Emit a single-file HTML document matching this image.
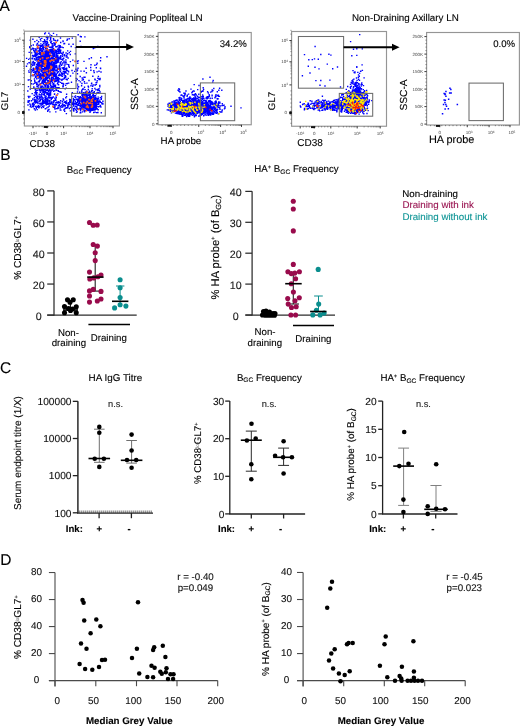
<!DOCTYPE html>
<html><head><meta charset="utf-8"><title>Figure</title>
<style>
html,body{margin:0;padding:0;background:#fff;}
body{width:520px;height:726px;overflow:hidden;}
svg{display:block;font-family:"Liberation Sans", sans-serif;will-change:transform;}
text{stroke:currentColor;stroke-width:0.12px;text-rendering:geometricPrecision;}
</style></head>
<body>
<svg width="520" height="726" viewBox="0 0 520 726">
<text x="-0.40" y="10.90" font-size="15.5" text-anchor="start" font-weight="normal" fill="#000" color="#000" >A</text>
<text x="0.20" y="159.70" font-size="15.5" text-anchor="start" font-weight="normal" fill="#000" color="#000" >B</text>
<text x="-0.10" y="372.80" font-size="15.5" text-anchor="start" font-weight="normal" fill="#000" color="#000" >C</text>
<text x="0.20" y="564.90" font-size="15.5" text-anchor="start" font-weight="normal" fill="#000" color="#000" >D</text>
<text x="72.60" y="20.70" font-size="9.85" text-anchor="start" font-weight="normal" fill="#000" color="#000" >Vaccine-Draining Popliteal LN</text>
<text x="352.00" y="20.70" font-size="9.8" text-anchor="start" font-weight="normal" fill="#000" color="#000" >Non-Draining Axillary LN</text>
<rect x="24.40" y="31.20" width="95.00" height="94.80" stroke="#959595" stroke-width="1.15" fill="none"/>
<line x1="22.20" y1="40.20" x2="24.40" y2="40.20" stroke="#222" stroke-width="0.9" />
<line x1="22.20" y1="61.50" x2="24.40" y2="61.50" stroke="#222" stroke-width="0.9" />
<line x1="22.20" y1="84.60" x2="24.40" y2="84.60" stroke="#222" stroke-width="0.9" />
<line x1="23.20" y1="77.65" x2="24.40" y2="77.65" stroke="#444" stroke-width="0.6" />
<line x1="23.20" y1="73.58" x2="24.40" y2="73.58" stroke="#444" stroke-width="0.6" />
<line x1="23.20" y1="70.69" x2="24.40" y2="70.69" stroke="#444" stroke-width="0.6" />
<line x1="23.20" y1="68.45" x2="24.40" y2="68.45" stroke="#444" stroke-width="0.6" />
<line x1="23.20" y1="66.62" x2="24.40" y2="66.62" stroke="#444" stroke-width="0.6" />
<line x1="23.20" y1="65.08" x2="24.40" y2="65.08" stroke="#444" stroke-width="0.6" />
<line x1="23.20" y1="63.74" x2="24.40" y2="63.74" stroke="#444" stroke-width="0.6" />
<line x1="23.20" y1="62.56" x2="24.40" y2="62.56" stroke="#444" stroke-width="0.6" />
<line x1="23.20" y1="55.09" x2="24.40" y2="55.09" stroke="#444" stroke-width="0.6" />
<line x1="23.20" y1="51.34" x2="24.40" y2="51.34" stroke="#444" stroke-width="0.6" />
<line x1="23.20" y1="48.68" x2="24.40" y2="48.68" stroke="#444" stroke-width="0.6" />
<line x1="23.20" y1="46.61" x2="24.40" y2="46.61" stroke="#444" stroke-width="0.6" />
<line x1="23.20" y1="44.93" x2="24.40" y2="44.93" stroke="#444" stroke-width="0.6" />
<line x1="23.20" y1="43.50" x2="24.40" y2="43.50" stroke="#444" stroke-width="0.6" />
<line x1="23.20" y1="42.26" x2="24.40" y2="42.26" stroke="#444" stroke-width="0.6" />
<line x1="23.20" y1="41.17" x2="24.40" y2="41.17" stroke="#444" stroke-width="0.6" />
<line x1="23.20" y1="33.79" x2="24.40" y2="33.79" stroke="#444" stroke-width="0.6" />
<line x1="23.20" y1="30.04" x2="24.40" y2="30.04" stroke="#444" stroke-width="0.6" />
<line x1="23.20" y1="90.60" x2="24.40" y2="90.60" stroke="#444" stroke-width="0.6" />
<line x1="23.20" y1="94.65" x2="24.40" y2="94.65" stroke="#444" stroke-width="0.6" />
<line x1="23.20" y1="98.70" x2="24.40" y2="98.70" stroke="#444" stroke-width="0.6" />
<line x1="23.20" y1="102.75" x2="24.40" y2="102.75" stroke="#444" stroke-width="0.6" />
<line x1="23.20" y1="106.80" x2="24.40" y2="106.80" stroke="#444" stroke-width="0.6" />
<line x1="23.20" y1="110.85" x2="24.40" y2="110.85" stroke="#444" stroke-width="0.6" />
<line x1="23.20" y1="114.90" x2="24.40" y2="114.90" stroke="#444" stroke-width="0.6" />
<line x1="23.20" y1="118.95" x2="24.40" y2="118.95" stroke="#444" stroke-width="0.6" />
<line x1="23.20" y1="123.00" x2="24.40" y2="123.00" stroke="#444" stroke-width="0.6" />
<line x1="22.20" y1="112.50" x2="24.40" y2="112.50" stroke="#000" stroke-width="1.6" />
<rect x="22.2" y="111.0" width="2.2" height="3" fill="#111"/>
<text x="20.9" y="41.8" font-size="4.5" text-anchor="end" fill="#444" style="stroke:none">10<tspan dy="-1.6" font-size="3.2">5</tspan></text>
<text x="20.9" y="63.1" font-size="4.5" text-anchor="end" fill="#444" style="stroke:none">10<tspan dy="-1.6" font-size="3.2">4</tspan></text>
<text x="20.9" y="86.2" font-size="4.5" text-anchor="end" fill="#444" style="stroke:none">10<tspan dy="-1.6" font-size="3.2">3</tspan></text>
<text x="19.9" y="114.1" font-size="4.5" text-anchor="end" fill="#444" style="stroke:none">0</text>
<line x1="33.00" y1="126.00" x2="33.00" y2="128.20" stroke="#222" stroke-width="0.9" />
<line x1="47.00" y1="126.00" x2="47.00" y2="128.20" stroke="#222" stroke-width="0.9" />
<line x1="63.60" y1="126.00" x2="63.60" y2="128.20" stroke="#222" stroke-width="0.9" />
<line x1="90.00" y1="126.00" x2="90.00" y2="128.20" stroke="#222" stroke-width="0.9" />
<line x1="113.00" y1="126.00" x2="113.00" y2="128.20" stroke="#222" stroke-width="0.9" />
<line x1="71.55" y1="126.00" x2="71.55" y2="127.20" stroke="#444" stroke-width="0.6" />
<line x1="76.20" y1="126.00" x2="76.20" y2="127.20" stroke="#444" stroke-width="0.6" />
<line x1="79.49" y1="126.00" x2="79.49" y2="127.20" stroke="#444" stroke-width="0.6" />
<line x1="82.05" y1="126.00" x2="82.05" y2="127.20" stroke="#444" stroke-width="0.6" />
<line x1="84.14" y1="126.00" x2="84.14" y2="127.20" stroke="#444" stroke-width="0.6" />
<line x1="85.91" y1="126.00" x2="85.91" y2="127.20" stroke="#444" stroke-width="0.6" />
<line x1="87.44" y1="126.00" x2="87.44" y2="127.20" stroke="#444" stroke-width="0.6" />
<line x1="88.79" y1="126.00" x2="88.79" y2="127.20" stroke="#444" stroke-width="0.6" />
<line x1="96.92" y1="126.00" x2="96.92" y2="127.20" stroke="#444" stroke-width="0.6" />
<line x1="100.97" y1="126.00" x2="100.97" y2="127.20" stroke="#444" stroke-width="0.6" />
<line x1="103.85" y1="126.00" x2="103.85" y2="127.20" stroke="#444" stroke-width="0.6" />
<line x1="106.08" y1="126.00" x2="106.08" y2="127.20" stroke="#444" stroke-width="0.6" />
<line x1="107.90" y1="126.00" x2="107.90" y2="127.20" stroke="#444" stroke-width="0.6" />
<line x1="109.44" y1="126.00" x2="109.44" y2="127.20" stroke="#444" stroke-width="0.6" />
<line x1="110.77" y1="126.00" x2="110.77" y2="127.20" stroke="#444" stroke-width="0.6" />
<line x1="111.95" y1="126.00" x2="111.95" y2="127.20" stroke="#444" stroke-width="0.6" />
<line x1="36.00" y1="126.00" x2="36.00" y2="127.20" stroke="#444" stroke-width="0.6" />
<line x1="39.08" y1="126.00" x2="39.08" y2="127.20" stroke="#444" stroke-width="0.6" />
<line x1="42.15" y1="126.00" x2="42.15" y2="127.20" stroke="#444" stroke-width="0.6" />
<line x1="45.23" y1="126.00" x2="45.23" y2="127.20" stroke="#444" stroke-width="0.6" />
<line x1="48.30" y1="126.00" x2="48.30" y2="127.20" stroke="#444" stroke-width="0.6" />
<line x1="51.38" y1="126.00" x2="51.38" y2="127.20" stroke="#444" stroke-width="0.6" />
<line x1="54.45" y1="126.00" x2="54.45" y2="127.20" stroke="#444" stroke-width="0.6" />
<line x1="57.53" y1="126.00" x2="57.53" y2="127.20" stroke="#444" stroke-width="0.6" />
<line x1="60.60" y1="126.00" x2="60.60" y2="127.20" stroke="#444" stroke-width="0.6" />
<rect x="43.8" y="126.0" width="4.0" height="1.9" fill="#111"/>
<text x="33.0" y="135.2" font-size="4.5" text-anchor="middle" fill="#444" style="stroke:none">-10<tspan dy="-1.6" font-size="3.2">3</tspan></text>
<text x="47.0" y="135.2" font-size="4.5" text-anchor="middle" fill="#444" style="stroke:none">0</text>
<text x="63.6" y="135.2" font-size="4.5" text-anchor="middle" fill="#444" style="stroke:none">10<tspan dy="-1.6" font-size="3.2">3</tspan></text>
<text x="90.0" y="135.2" font-size="4.5" text-anchor="middle" fill="#444" style="stroke:none">10<tspan dy="-1.6" font-size="3.2">4</tspan></text>
<text x="113.0" y="135.2" font-size="4.5" text-anchor="middle" fill="#444" style="stroke:none">10<tspan dy="-1.6" font-size="3.2">5</tspan></text>
<path d="M46.8 69.8h1.4v1.4h-1.4zM49.3 95.2h1.4v1.4h-1.4zM44.5 75.3h1.4v1.4h-1.4zM39.4 68.8h1.4v1.4h-1.4zM43.0 63.9h1.4v1.4h-1.4zM38.6 60.1h1.4v1.4h-1.4zM47.3 63.9h1.4v1.4h-1.4zM57.9 60.0h1.4v1.4h-1.4zM42.7 74.9h1.4v1.4h-1.4zM41.7 61.7h1.4v1.4h-1.4zM50.9 61.2h1.4v1.4h-1.4zM49.8 52.5h1.4v1.4h-1.4zM47.7 65.7h1.4v1.4h-1.4zM39.1 56.0h1.4v1.4h-1.4zM46.6 64.2h1.4v1.4h-1.4zM52.6 78.3h1.4v1.4h-1.4zM35.6 70.5h1.4v1.4h-1.4zM43.0 72.1h1.4v1.4h-1.4zM31.0 70.4h1.4v1.4h-1.4zM36.1 67.0h1.4v1.4h-1.4zM31.5 64.8h1.4v1.4h-1.4zM44.8 62.8h1.4v1.4h-1.4zM36.3 75.0h1.4v1.4h-1.4zM49.1 53.8h1.4v1.4h-1.4zM48.1 81.7h1.4v1.4h-1.4zM45.2 66.7h1.4v1.4h-1.4zM25.9 57.7h1.4v1.4h-1.4zM42.3 60.7h1.4v1.4h-1.4zM46.4 58.5h1.4v1.4h-1.4zM47.7 68.1h1.4v1.4h-1.4zM34.1 58.0h1.4v1.4h-1.4zM42.8 79.4h1.4v1.4h-1.4zM38.7 57.3h1.4v1.4h-1.4zM40.1 40.2h1.4v1.4h-1.4zM55.6 57.9h1.4v1.4h-1.4zM40.1 43.2h1.4v1.4h-1.4zM46.5 65.8h1.4v1.4h-1.4zM54.1 78.5h1.4v1.4h-1.4zM42.0 73.7h1.4v1.4h-1.4zM45.9 50.9h1.4v1.4h-1.4zM47.7 57.5h1.4v1.4h-1.4zM47.3 86.8h1.4v1.4h-1.4zM36.6 70.0h1.4v1.4h-1.4zM47.4 66.3h1.4v1.4h-1.4zM58.1 78.4h1.4v1.4h-1.4zM34.0 94.5h1.4v1.4h-1.4zM53.9 81.2h1.4v1.4h-1.4zM47.8 67.9h1.4v1.4h-1.4zM41.5 70.4h1.4v1.4h-1.4zM63.4 73.4h1.4v1.4h-1.4zM53.1 59.3h1.4v1.4h-1.4zM36.8 54.1h1.4v1.4h-1.4zM47.4 66.9h1.4v1.4h-1.4zM51.6 55.4h1.4v1.4h-1.4zM45.2 65.6h1.4v1.4h-1.4zM52.5 67.4h1.4v1.4h-1.4zM46.2 93.2h1.4v1.4h-1.4zM52.3 56.5h1.4v1.4h-1.4zM58.7 64.9h1.4v1.4h-1.4zM41.2 64.4h1.4v1.4h-1.4zM48.5 71.3h1.4v1.4h-1.4zM43.0 78.3h1.4v1.4h-1.4zM47.9 60.7h1.4v1.4h-1.4zM36.9 56.9h1.4v1.4h-1.4zM42.0 47.4h1.4v1.4h-1.4zM45.2 55.6h1.4v1.4h-1.4zM54.3 72.5h1.4v1.4h-1.4zM56.3 66.8h1.4v1.4h-1.4zM35.8 54.6h1.4v1.4h-1.4zM40.2 62.0h1.4v1.4h-1.4zM52.2 66.7h1.4v1.4h-1.4zM30.3 72.1h1.4v1.4h-1.4zM43.0 59.5h1.4v1.4h-1.4zM46.0 63.4h1.4v1.4h-1.4zM57.2 45.4h1.4v1.4h-1.4zM52.5 53.1h1.4v1.4h-1.4zM44.1 84.9h1.4v1.4h-1.4zM43.7 41.1h1.4v1.4h-1.4zM44.7 62.4h1.4v1.4h-1.4zM59.4 68.8h1.4v1.4h-1.4zM43.2 62.0h1.4v1.4h-1.4zM44.3 57.0h1.4v1.4h-1.4zM49.7 65.6h1.4v1.4h-1.4zM45.8 66.2h1.4v1.4h-1.4zM45.2 65.4h1.4v1.4h-1.4zM37.6 44.7h1.4v1.4h-1.4zM46.7 64.6h1.4v1.4h-1.4zM43.1 56.5h1.4v1.4h-1.4zM56.5 60.0h1.4v1.4h-1.4zM52.2 68.9h1.4v1.4h-1.4zM46.6 73.7h1.4v1.4h-1.4zM52.3 76.6h1.4v1.4h-1.4zM44.0 60.6h1.4v1.4h-1.4zM55.5 76.9h1.4v1.4h-1.4zM46.8 79.8h1.4v1.4h-1.4zM51.6 79.4h1.4v1.4h-1.4zM36.1 82.3h1.4v1.4h-1.4zM49.7 64.6h1.4v1.4h-1.4zM32.8 64.3h1.4v1.4h-1.4zM29.9 75.8h1.4v1.4h-1.4zM44.3 50.6h1.4v1.4h-1.4zM39.3 68.7h1.4v1.4h-1.4zM48.2 60.2h1.4v1.4h-1.4zM65.4 62.1h1.4v1.4h-1.4zM39.9 46.3h1.4v1.4h-1.4zM41.6 56.1h1.4v1.4h-1.4zM48.5 66.1h1.4v1.4h-1.4zM50.9 76.5h1.4v1.4h-1.4zM45.3 77.7h1.4v1.4h-1.4zM45.1 65.4h1.4v1.4h-1.4zM52.6 64.1h1.4v1.4h-1.4zM51.1 56.7h1.4v1.4h-1.4zM38.2 70.9h1.4v1.4h-1.4zM46.1 63.5h1.4v1.4h-1.4zM47.1 73.3h1.4v1.4h-1.4zM38.0 86.4h1.4v1.4h-1.4zM49.0 65.9h1.4v1.4h-1.4zM39.7 49.1h1.4v1.4h-1.4zM54.9 56.4h1.4v1.4h-1.4zM48.4 49.5h1.4v1.4h-1.4zM47.5 52.5h1.4v1.4h-1.4zM41.9 81.3h1.4v1.4h-1.4zM45.8 68.9h1.4v1.4h-1.4zM30.2 48.8h1.4v1.4h-1.4zM37.4 73.8h1.4v1.4h-1.4zM49.8 80.8h1.4v1.4h-1.4zM29.1 62.2h1.4v1.4h-1.4zM53.8 58.5h1.4v1.4h-1.4zM32.3 62.4h1.4v1.4h-1.4zM53.1 69.6h1.4v1.4h-1.4zM39.8 73.7h1.4v1.4h-1.4zM53.3 79.9h1.4v1.4h-1.4zM47.9 80.2h1.4v1.4h-1.4zM34.0 79.9h1.4v1.4h-1.4zM57.2 82.0h1.4v1.4h-1.4zM58.8 73.9h1.4v1.4h-1.4zM46.3 48.7h1.4v1.4h-1.4zM44.5 64.8h1.4v1.4h-1.4zM45.5 69.9h1.4v1.4h-1.4zM38.7 61.9h1.4v1.4h-1.4zM55.9 76.8h1.4v1.4h-1.4zM42.3 62.2h1.4v1.4h-1.4zM46.4 55.7h1.4v1.4h-1.4zM40.2 82.9h1.4v1.4h-1.4zM41.6 74.0h1.4v1.4h-1.4zM36.2 68.8h1.4v1.4h-1.4zM57.2 77.0h1.4v1.4h-1.4zM45.5 78.5h1.4v1.4h-1.4zM54.8 70.2h1.4v1.4h-1.4zM46.9 38.0h1.4v1.4h-1.4zM41.0 58.5h1.4v1.4h-1.4zM44.1 61.0h1.4v1.4h-1.4zM42.2 55.0h1.4v1.4h-1.4zM46.9 68.6h1.4v1.4h-1.4zM43.7 80.0h1.4v1.4h-1.4zM44.3 60.7h1.4v1.4h-1.4zM35.4 53.2h1.4v1.4h-1.4zM40.1 89.6h1.4v1.4h-1.4zM60.5 61.1h1.4v1.4h-1.4zM41.2 52.1h1.4v1.4h-1.4zM38.1 69.0h1.4v1.4h-1.4zM49.6 71.2h1.4v1.4h-1.4zM58.5 58.2h1.4v1.4h-1.4zM34.7 75.4h1.4v1.4h-1.4zM45.1 60.7h1.4v1.4h-1.4zM41.6 55.7h1.4v1.4h-1.4zM32.2 68.4h1.4v1.4h-1.4zM52.9 75.2h1.4v1.4h-1.4zM46.6 59.0h1.4v1.4h-1.4zM47.4 70.1h1.4v1.4h-1.4zM40.6 65.2h1.4v1.4h-1.4zM50.6 98.8h1.4v1.4h-1.4zM42.3 58.2h1.4v1.4h-1.4zM45.6 82.2h1.4v1.4h-1.4zM37.6 65.7h1.4v1.4h-1.4zM36.7 64.8h1.4v1.4h-1.4zM57.9 74.6h1.4v1.4h-1.4zM42.6 76.6h1.4v1.4h-1.4zM49.2 80.9h1.4v1.4h-1.4zM46.5 70.1h1.4v1.4h-1.4zM43.1 59.4h1.4v1.4h-1.4zM42.6 60.1h1.4v1.4h-1.4zM52.0 72.2h1.4v1.4h-1.4zM44.3 73.0h1.4v1.4h-1.4zM45.5 82.4h1.4v1.4h-1.4zM47.0 71.1h1.4v1.4h-1.4zM56.6 78.5h1.4v1.4h-1.4zM52.4 83.7h1.4v1.4h-1.4zM50.0 68.2h1.4v1.4h-1.4zM42.1 49.2h1.4v1.4h-1.4zM35.3 52.7h1.4v1.4h-1.4zM54.7 49.8h1.4v1.4h-1.4zM54.8 84.6h1.4v1.4h-1.4zM45.6 56.6h1.4v1.4h-1.4zM51.3 80.5h1.4v1.4h-1.4zM53.3 73.0h1.4v1.4h-1.4zM53.7 86.0h1.4v1.4h-1.4zM54.4 77.8h1.4v1.4h-1.4zM43.0 65.1h1.4v1.4h-1.4zM59.4 64.0h1.4v1.4h-1.4zM36.5 67.3h1.4v1.4h-1.4zM54.0 68.3h1.4v1.4h-1.4zM50.9 60.2h1.4v1.4h-1.4zM54.1 65.9h1.4v1.4h-1.4zM62.4 84.8h1.4v1.4h-1.4zM59.1 46.7h1.4v1.4h-1.4zM37.3 69.3h1.4v1.4h-1.4zM32.8 55.9h1.4v1.4h-1.4zM53.6 68.5h1.4v1.4h-1.4zM38.4 76.0h1.4v1.4h-1.4zM46.7 65.6h1.4v1.4h-1.4zM53.8 75.2h1.4v1.4h-1.4zM33.2 48.0h1.4v1.4h-1.4zM29.3 79.0h1.4v1.4h-1.4zM49.0 59.4h1.4v1.4h-1.4zM47.2 73.5h1.4v1.4h-1.4zM44.8 68.4h1.4v1.4h-1.4zM47.1 36.6h1.4v1.4h-1.4zM39.7 57.6h1.4v1.4h-1.4zM34.2 68.8h1.4v1.4h-1.4zM45.4 84.2h1.4v1.4h-1.4zM38.7 69.6h1.4v1.4h-1.4zM33.2 69.3h1.4v1.4h-1.4zM51.0 50.1h1.4v1.4h-1.4zM46.3 82.8h1.4v1.4h-1.4zM50.2 87.1h1.4v1.4h-1.4zM38.6 66.6h1.4v1.4h-1.4zM41.3 63.8h1.4v1.4h-1.4zM38.5 47.7h1.4v1.4h-1.4zM39.4 76.5h1.4v1.4h-1.4zM48.4 97.4h1.4v1.4h-1.4zM40.3 74.5h1.4v1.4h-1.4zM49.8 80.8h1.4v1.4h-1.4zM49.6 72.5h1.4v1.4h-1.4zM63.6 55.0h1.4v1.4h-1.4zM35.2 81.7h1.4v1.4h-1.4zM54.2 52.1h1.4v1.4h-1.4zM46.1 63.9h1.4v1.4h-1.4zM46.7 69.5h1.4v1.4h-1.4zM34.8 76.5h1.4v1.4h-1.4zM43.0 71.1h1.4v1.4h-1.4zM53.0 70.7h1.4v1.4h-1.4zM46.1 57.5h1.4v1.4h-1.4zM47.5 51.5h1.4v1.4h-1.4zM44.4 67.0h1.4v1.4h-1.4zM56.4 58.1h1.4v1.4h-1.4zM46.6 51.3h1.4v1.4h-1.4zM28.5 51.7h1.4v1.4h-1.4zM41.1 60.7h1.4v1.4h-1.4zM30.5 45.0h1.4v1.4h-1.4zM42.4 47.5h1.4v1.4h-1.4zM57.9 68.4h1.4v1.4h-1.4zM47.2 71.0h1.4v1.4h-1.4zM37.1 89.4h1.4v1.4h-1.4zM39.0 49.1h1.4v1.4h-1.4zM56.2 58.5h1.4v1.4h-1.4zM48.1 76.8h1.4v1.4h-1.4zM47.2 63.8h1.4v1.4h-1.4zM46.4 62.5h1.4v1.4h-1.4zM47.1 86.0h1.4v1.4h-1.4zM53.5 62.4h1.4v1.4h-1.4zM51.4 53.0h1.4v1.4h-1.4zM48.6 51.2h1.4v1.4h-1.4zM38.1 70.2h1.4v1.4h-1.4zM51.0 69.8h1.4v1.4h-1.4zM41.1 50.5h1.4v1.4h-1.4zM55.9 55.0h1.4v1.4h-1.4zM36.3 72.4h1.4v1.4h-1.4zM45.7 72.9h1.4v1.4h-1.4zM46.7 58.9h1.4v1.4h-1.4zM35.8 73.5h1.4v1.4h-1.4zM61.1 72.9h1.4v1.4h-1.4zM58.9 45.8h1.4v1.4h-1.4zM43.0 62.7h1.4v1.4h-1.4zM53.2 71.1h1.4v1.4h-1.4zM49.9 59.7h1.4v1.4h-1.4zM48.9 63.0h1.4v1.4h-1.4zM46.3 74.9h1.4v1.4h-1.4zM47.5 84.5h1.4v1.4h-1.4zM37.9 41.1h1.4v1.4h-1.4zM44.6 96.4h1.4v1.4h-1.4zM45.3 53.3h1.4v1.4h-1.4zM56.7 77.3h1.4v1.4h-1.4zM49.6 80.5h1.4v1.4h-1.4zM46.8 77.6h1.4v1.4h-1.4zM59.5 68.0h1.4v1.4h-1.4zM42.2 52.9h1.4v1.4h-1.4zM43.6 73.5h1.4v1.4h-1.4zM31.7 58.1h1.4v1.4h-1.4zM59.8 37.3h1.4v1.4h-1.4zM54.8 98.8h1.4v1.4h-1.4zM54.4 74.4h1.4v1.4h-1.4zM52.4 87.2h1.4v1.4h-1.4zM47.7 55.8h1.4v1.4h-1.4zM48.6 83.2h1.4v1.4h-1.4zM44.7 84.6h1.4v1.4h-1.4zM45.1 84.2h1.4v1.4h-1.4zM47.3 66.1h1.4v1.4h-1.4zM59.3 52.5h1.4v1.4h-1.4zM51.4 64.3h1.4v1.4h-1.4zM46.3 41.0h1.4v1.4h-1.4zM42.0 46.7h1.4v1.4h-1.4zM41.5 67.4h1.4v1.4h-1.4zM60.1 54.9h1.4v1.4h-1.4zM51.0 64.4h1.4v1.4h-1.4zM47.4 65.0h1.4v1.4h-1.4zM43.9 88.5h1.4v1.4h-1.4zM37.6 81.2h1.4v1.4h-1.4zM46.2 65.8h1.4v1.4h-1.4zM54.1 80.2h1.4v1.4h-1.4zM43.5 57.3h1.4v1.4h-1.4zM44.9 62.4h1.4v1.4h-1.4zM45.0 76.8h1.4v1.4h-1.4zM47.7 52.0h1.4v1.4h-1.4zM33.6 63.1h1.4v1.4h-1.4zM44.8 51.1h1.4v1.4h-1.4zM39.7 67.7h1.4v1.4h-1.4zM54.1 85.1h1.4v1.4h-1.4zM40.4 57.7h1.4v1.4h-1.4zM51.6 68.9h1.4v1.4h-1.4zM59.5 56.0h1.4v1.4h-1.4zM44.2 53.1h1.4v1.4h-1.4zM41.8 52.1h1.4v1.4h-1.4zM48.4 83.0h1.4v1.4h-1.4zM46.8 93.5h1.4v1.4h-1.4zM38.6 71.9h1.4v1.4h-1.4zM50.6 58.1h1.4v1.4h-1.4zM63.5 74.4h1.4v1.4h-1.4zM44.7 62.5h1.4v1.4h-1.4zM45.1 75.5h1.4v1.4h-1.4zM38.1 69.6h1.4v1.4h-1.4zM49.4 69.5h1.4v1.4h-1.4zM36.5 73.3h1.4v1.4h-1.4zM37.6 59.6h1.4v1.4h-1.4zM57.4 61.6h1.4v1.4h-1.4zM39.3 46.5h1.4v1.4h-1.4zM55.8 61.2h1.4v1.4h-1.4zM59.5 49.9h1.4v1.4h-1.4zM49.0 64.6h1.4v1.4h-1.4zM51.4 55.3h1.4v1.4h-1.4zM63.0 67.5h1.4v1.4h-1.4zM45.2 71.5h1.4v1.4h-1.4zM41.9 50.0h1.4v1.4h-1.4zM35.6 56.9h1.4v1.4h-1.4zM47.1 55.5h1.4v1.4h-1.4zM59.1 74.9h1.4v1.4h-1.4zM54.8 85.9h1.4v1.4h-1.4zM39.0 76.1h1.4v1.4h-1.4zM39.7 62.3h1.4v1.4h-1.4zM42.6 83.1h1.4v1.4h-1.4zM49.2 48.9h1.4v1.4h-1.4zM45.1 83.5h1.4v1.4h-1.4zM48.6 58.8h1.4v1.4h-1.4zM49.3 34.3h1.4v1.4h-1.4zM44.3 96.8h1.4v1.4h-1.4zM46.5 84.4h1.4v1.4h-1.4zM48.5 54.4h1.4v1.4h-1.4zM46.1 68.2h1.4v1.4h-1.4zM51.0 63.8h1.4v1.4h-1.4zM62.3 67.5h1.4v1.4h-1.4zM51.7 49.2h1.4v1.4h-1.4zM47.3 58.5h1.4v1.4h-1.4zM32.8 71.7h1.4v1.4h-1.4zM50.0 68.9h1.4v1.4h-1.4zM30.6 80.1h1.4v1.4h-1.4zM35.1 67.2h1.4v1.4h-1.4zM53.9 93.3h1.4v1.4h-1.4zM52.7 58.1h1.4v1.4h-1.4zM45.6 69.3h1.4v1.4h-1.4zM32.6 44.3h1.4v1.4h-1.4zM43.7 51.9h1.4v1.4h-1.4zM41.2 81.6h1.4v1.4h-1.4zM52.1 55.5h1.4v1.4h-1.4zM65.5 72.4h1.4v1.4h-1.4zM48.6 65.6h1.4v1.4h-1.4zM40.3 54.3h1.4v1.4h-1.4zM37.1 62.3h1.4v1.4h-1.4zM46.3 60.4h1.4v1.4h-1.4zM45.3 60.7h1.4v1.4h-1.4zM37.2 75.0h1.4v1.4h-1.4zM47.8 73.8h1.4v1.4h-1.4zM37.2 59.7h1.4v1.4h-1.4zM56.0 55.9h1.4v1.4h-1.4zM55.6 69.5h1.4v1.4h-1.4zM55.8 65.1h1.4v1.4h-1.4zM42.9 78.1h1.4v1.4h-1.4zM51.1 96.8h1.4v1.4h-1.4zM45.7 76.0h1.4v1.4h-1.4zM43.6 65.9h1.4v1.4h-1.4zM44.0 64.3h1.4v1.4h-1.4zM36.0 56.4h1.4v1.4h-1.4zM34.8 55.9h1.4v1.4h-1.4zM53.4 54.8h1.4v1.4h-1.4zM45.2 61.8h1.4v1.4h-1.4zM48.6 61.4h1.4v1.4h-1.4zM55.1 74.9h1.4v1.4h-1.4zM32.4 61.7h1.4v1.4h-1.4zM40.3 64.0h1.4v1.4h-1.4zM48.3 52.3h1.4v1.4h-1.4zM50.1 85.2h1.4v1.4h-1.4zM43.7 72.1h1.4v1.4h-1.4zM55.3 86.9h1.4v1.4h-1.4zM48.5 75.5h1.4v1.4h-1.4zM36.7 83.4h1.4v1.4h-1.4zM39.1 63.4h1.4v1.4h-1.4zM53.5 74.5h1.4v1.4h-1.4zM50.6 97.4h1.4v1.4h-1.4zM31.0 52.2h1.4v1.4h-1.4zM58.0 79.8h1.4v1.4h-1.4zM51.8 85.8h1.4v1.4h-1.4zM57.9 71.1h1.4v1.4h-1.4zM43.6 75.1h1.4v1.4h-1.4zM44.3 81.0h1.4v1.4h-1.4zM37.5 58.6h1.4v1.4h-1.4zM67.9 71.1h1.4v1.4h-1.4zM45.3 56.1h1.4v1.4h-1.4zM60.0 58.4h1.4v1.4h-1.4zM41.4 59.0h1.4v1.4h-1.4zM48.2 64.6h1.4v1.4h-1.4zM32.9 68.0h1.4v1.4h-1.4zM43.6 71.6h1.4v1.4h-1.4zM55.0 49.6h1.4v1.4h-1.4zM36.4 89.6h1.4v1.4h-1.4zM55.7 79.9h1.4v1.4h-1.4zM49.6 74.9h1.4v1.4h-1.4zM38.1 62.1h1.4v1.4h-1.4zM42.6 65.2h1.4v1.4h-1.4zM43.0 72.8h1.4v1.4h-1.4zM46.4 71.1h1.4v1.4h-1.4zM42.4 46.5h1.4v1.4h-1.4zM39.9 75.0h1.4v1.4h-1.4zM44.3 100.7h1.4v1.4h-1.4zM38.3 44.5h1.4v1.4h-1.4zM36.1 78.0h1.4v1.4h-1.4zM46.4 70.7h1.4v1.4h-1.4zM54.1 65.0h1.4v1.4h-1.4zM34.1 82.5h1.4v1.4h-1.4zM46.8 52.3h1.4v1.4h-1.4zM41.4 68.2h1.4v1.4h-1.4zM38.7 83.6h1.4v1.4h-1.4zM53.9 64.0h1.4v1.4h-1.4zM42.5 61.4h1.4v1.4h-1.4zM59.2 67.7h1.4v1.4h-1.4zM40.3 61.0h1.4v1.4h-1.4zM50.0 84.6h1.4v1.4h-1.4zM44.9 55.6h1.4v1.4h-1.4zM40.5 76.6h1.4v1.4h-1.4zM51.7 51.5h1.4v1.4h-1.4zM45.5 74.2h1.4v1.4h-1.4zM51.8 65.1h1.4v1.4h-1.4zM46.4 35.8h1.4v1.4h-1.4zM37.8 66.2h1.4v1.4h-1.4zM46.0 53.7h1.4v1.4h-1.4zM47.2 61.0h1.4v1.4h-1.4zM54.8 84.5h1.4v1.4h-1.4zM39.3 53.1h1.4v1.4h-1.4zM46.5 53.8h1.4v1.4h-1.4zM32.5 83.3h1.4v1.4h-1.4zM52.2 67.7h1.4v1.4h-1.4zM37.8 84.5h1.4v1.4h-1.4zM31.8 70.1h1.4v1.4h-1.4zM46.3 55.9h1.4v1.4h-1.4zM56.0 65.5h1.4v1.4h-1.4zM34.1 80.8h1.4v1.4h-1.4zM37.8 77.4h1.4v1.4h-1.4zM40.6 66.3h1.4v1.4h-1.4zM37.4 66.9h1.4v1.4h-1.4zM49.9 65.0h1.4v1.4h-1.4zM40.1 59.5h1.4v1.4h-1.4zM40.8 89.1h1.4v1.4h-1.4zM51.6 66.4h1.4v1.4h-1.4zM40.5 52.9h1.4v1.4h-1.4zM50.4 60.7h1.4v1.4h-1.4zM38.7 74.9h1.4v1.4h-1.4zM36.7 73.9h1.4v1.4h-1.4zM31.6 64.7h1.4v1.4h-1.4zM62.2 58.4h1.4v1.4h-1.4zM44.1 66.6h1.4v1.4h-1.4zM48.8 46.5h1.4v1.4h-1.4zM46.5 50.9h1.4v1.4h-1.4zM48.1 75.7h1.4v1.4h-1.4zM47.2 60.6h1.4v1.4h-1.4zM62.6 70.7h1.4v1.4h-1.4zM38.2 80.7h1.4v1.4h-1.4zM33.9 74.0h1.4v1.4h-1.4zM38.4 66.5h1.4v1.4h-1.4zM35.7 91.5h1.4v1.4h-1.4zM53.0 74.2h1.4v1.4h-1.4zM53.6 62.1h1.4v1.4h-1.4zM38.8 75.0h1.4v1.4h-1.4zM35.3 71.1h1.4v1.4h-1.4zM43.9 56.2h1.4v1.4h-1.4zM58.3 67.2h1.4v1.4h-1.4zM51.2 43.1h1.4v1.4h-1.4zM37.9 64.3h1.4v1.4h-1.4zM55.4 63.0h1.4v1.4h-1.4zM37.9 61.1h1.4v1.4h-1.4zM44.4 46.9h1.4v1.4h-1.4zM34.3 62.1h1.4v1.4h-1.4zM38.7 65.8h1.4v1.4h-1.4zM58.3 67.5h1.4v1.4h-1.4zM53.6 52.9h1.4v1.4h-1.4zM43.5 73.8h1.4v1.4h-1.4zM39.6 51.9h1.4v1.4h-1.4zM31.1 63.7h1.4v1.4h-1.4zM43.5 81.7h1.4v1.4h-1.4zM46.5 58.1h1.4v1.4h-1.4zM46.1 60.3h1.4v1.4h-1.4zM46.0 79.0h1.4v1.4h-1.4zM37.5 61.8h1.4v1.4h-1.4zM46.2 62.8h1.4v1.4h-1.4zM46.5 68.9h1.4v1.4h-1.4zM57.5 78.7h1.4v1.4h-1.4zM62.3 40.3h1.4v1.4h-1.4zM45.7 56.5h1.4v1.4h-1.4zM40.4 54.4h1.4v1.4h-1.4zM46.3 53.5h1.4v1.4h-1.4zM41.8 56.2h1.4v1.4h-1.4zM40.6 56.4h1.4v1.4h-1.4zM46.3 69.9h1.4v1.4h-1.4zM38.1 55.8h1.4v1.4h-1.4zM51.8 67.7h1.4v1.4h-1.4zM45.9 71.0h1.4v1.4h-1.4zM48.9 57.7h1.4v1.4h-1.4zM45.3 67.8h1.4v1.4h-1.4zM40.8 85.6h1.4v1.4h-1.4zM38.9 70.1h1.4v1.4h-1.4zM44.8 58.8h1.4v1.4h-1.4zM42.2 65.5h1.4v1.4h-1.4zM48.7 55.5h1.4v1.4h-1.4zM46.8 69.5h1.4v1.4h-1.4zM35.5 76.4h1.4v1.4h-1.4zM47.4 56.7h1.4v1.4h-1.4zM35.7 63.8h1.4v1.4h-1.4zM41.7 79.4h1.4v1.4h-1.4zM44.4 60.5h1.4v1.4h-1.4zM29.6 68.5h1.4v1.4h-1.4zM47.6 54.3h1.4v1.4h-1.4zM48.1 56.7h1.4v1.4h-1.4zM45.5 60.3h1.4v1.4h-1.4zM43.3 91.3h1.4v1.4h-1.4zM43.7 61.6h1.4v1.4h-1.4zM38.7 60.2h1.4v1.4h-1.4zM44.6 59.8h1.4v1.4h-1.4zM42.2 64.4h1.4v1.4h-1.4zM47.6 73.8h1.4v1.4h-1.4zM36.8 68.5h1.4v1.4h-1.4zM48.8 90.0h1.4v1.4h-1.4zM48.0 68.8h1.4v1.4h-1.4zM45.6 82.9h1.4v1.4h-1.4zM43.2 69.5h1.4v1.4h-1.4zM51.4 73.3h1.4v1.4h-1.4zM33.0 49.7h1.4v1.4h-1.4zM50.6 64.8h1.4v1.4h-1.4zM48.8 65.5h1.4v1.4h-1.4zM49.2 63.5h1.4v1.4h-1.4zM50.0 41.5h1.4v1.4h-1.4zM41.4 76.4h1.4v1.4h-1.4zM44.6 61.8h1.4v1.4h-1.4zM52.1 61.3h1.4v1.4h-1.4zM50.4 63.4h1.4v1.4h-1.4zM48.5 63.7h1.4v1.4h-1.4zM34.2 71.0h1.4v1.4h-1.4zM51.3 51.7h1.4v1.4h-1.4zM56.5 55.6h1.4v1.4h-1.4zM55.2 69.6h1.4v1.4h-1.4zM48.7 68.0h1.4v1.4h-1.4zM33.9 62.0h1.4v1.4h-1.4zM54.6 59.7h1.4v1.4h-1.4zM45.6 56.7h1.4v1.4h-1.4zM25.8 65.6h1.4v1.4h-1.4zM49.9 79.9h1.4v1.4h-1.4zM34.4 54.1h1.4v1.4h-1.4zM36.0 83.8h1.4v1.4h-1.4zM41.5 76.0h1.4v1.4h-1.4zM57.4 61.1h1.4v1.4h-1.4zM43.7 75.3h1.4v1.4h-1.4zM49.0 49.4h1.4v1.4h-1.4zM61.3 46.4h1.4v1.4h-1.4zM60.0 51.5h1.4v1.4h-1.4zM45.9 61.6h1.4v1.4h-1.4zM44.8 62.6h1.4v1.4h-1.4zM36.3 60.4h1.4v1.4h-1.4zM41.0 67.4h1.4v1.4h-1.4zM50.3 41.7h1.4v1.4h-1.4zM50.1 72.0h1.4v1.4h-1.4zM47.7 50.0h1.4v1.4h-1.4zM55.1 58.7h1.4v1.4h-1.4zM40.4 61.6h1.4v1.4h-1.4zM46.3 53.0h1.4v1.4h-1.4zM52.9 50.5h1.4v1.4h-1.4zM51.6 54.7h1.4v1.4h-1.4zM55.7 66.2h1.4v1.4h-1.4zM50.1 73.1h1.4v1.4h-1.4zM44.2 72.8h1.4v1.4h-1.4zM49.8 54.9h1.4v1.4h-1.4zM38.5 57.2h1.4v1.4h-1.4zM33.2 55.7h1.4v1.4h-1.4zM51.6 71.5h1.4v1.4h-1.4zM46.3 42.9h1.4v1.4h-1.4zM49.4 80.5h1.4v1.4h-1.4zM32.7 60.7h1.4v1.4h-1.4zM43.8 57.3h1.4v1.4h-1.4zM41.8 70.2h1.4v1.4h-1.4zM39.6 78.2h1.4v1.4h-1.4zM28.1 70.2h1.4v1.4h-1.4zM44.0 78.4h1.4v1.4h-1.4zM54.2 67.8h1.4v1.4h-1.4zM50.0 80.4h1.4v1.4h-1.4zM41.8 80.6h1.4v1.4h-1.4zM46.7 65.2h1.4v1.4h-1.4zM53.1 82.9h1.4v1.4h-1.4zM45.8 67.3h1.4v1.4h-1.4zM51.3 55.7h1.4v1.4h-1.4zM52.5 63.0h1.4v1.4h-1.4zM60.9 75.2h1.4v1.4h-1.4zM56.2 51.2h1.4v1.4h-1.4zM49.4 73.8h1.4v1.4h-1.4zM49.3 70.3h1.4v1.4h-1.4zM53.3 69.5h1.4v1.4h-1.4zM42.3 40.9h1.4v1.4h-1.4zM46.5 65.1h1.4v1.4h-1.4zM54.3 73.8h1.4v1.4h-1.4zM63.0 57.5h1.4v1.4h-1.4zM45.5 67.3h1.4v1.4h-1.4zM46.4 39.0h1.4v1.4h-1.4zM48.4 74.0h1.4v1.4h-1.4zM57.9 58.7h1.4v1.4h-1.4zM46.5 76.3h1.4v1.4h-1.4zM59.0 45.1h1.4v1.4h-1.4zM38.8 74.3h1.4v1.4h-1.4zM45.3 63.6h1.4v1.4h-1.4zM45.2 75.6h1.4v1.4h-1.4zM53.3 55.7h1.4v1.4h-1.4zM55.5 59.2h1.4v1.4h-1.4zM34.3 92.1h1.4v1.4h-1.4zM39.2 56.8h1.4v1.4h-1.4zM49.6 58.2h1.4v1.4h-1.4zM41.3 63.1h1.4v1.4h-1.4zM34.2 54.5h1.4v1.4h-1.4zM55.4 80.0h1.4v1.4h-1.4zM50.9 86.1h1.4v1.4h-1.4zM50.9 58.2h1.4v1.4h-1.4zM42.9 46.5h1.4v1.4h-1.4zM55.3 79.8h1.4v1.4h-1.4zM44.8 79.0h1.4v1.4h-1.4zM55.9 75.7h1.4v1.4h-1.4zM39.2 79.6h1.4v1.4h-1.4zM39.7 56.3h1.4v1.4h-1.4zM48.5 64.4h1.4v1.4h-1.4zM41.0 50.4h1.4v1.4h-1.4zM52.4 50.0h1.4v1.4h-1.4zM49.0 77.6h1.4v1.4h-1.4zM39.1 58.6h1.4v1.4h-1.4zM47.4 92.5h1.4v1.4h-1.4zM43.9 67.2h1.4v1.4h-1.4zM54.4 58.9h1.4v1.4h-1.4zM41.5 75.5h1.4v1.4h-1.4zM43.2 87.0h1.4v1.4h-1.4zM56.9 71.9h1.4v1.4h-1.4zM65.4 52.3h1.4v1.4h-1.4zM63.4 70.6h1.4v1.4h-1.4zM47.3 82.1h1.4v1.4h-1.4zM48.6 60.6h1.4v1.4h-1.4zM59.5 57.4h1.4v1.4h-1.4zM45.8 78.0h1.4v1.4h-1.4zM38.7 67.9h1.4v1.4h-1.4zM47.8 53.6h1.4v1.4h-1.4zM50.5 61.9h1.4v1.4h-1.4zM39.9 57.6h1.4v1.4h-1.4zM33.1 69.7h1.4v1.4h-1.4zM34.9 67.6h1.4v1.4h-1.4zM52.3 79.5h1.4v1.4h-1.4zM40.5 74.5h1.4v1.4h-1.4zM45.6 48.3h1.4v1.4h-1.4zM48.6 71.0h1.4v1.4h-1.4zM51.9 76.6h1.4v1.4h-1.4zM44.0 71.5h1.4v1.4h-1.4zM50.9 78.1h1.4v1.4h-1.4zM39.4 60.0h1.4v1.4h-1.4zM43.8 55.4h1.4v1.4h-1.4zM38.3 77.0h1.4v1.4h-1.4zM56.2 54.0h1.4v1.4h-1.4zM46.6 41.5h1.4v1.4h-1.4zM40.7 78.1h1.4v1.4h-1.4zM43.9 58.0h1.4v1.4h-1.4zM45.0 62.8h1.4v1.4h-1.4zM52.6 50.2h1.4v1.4h-1.4zM33.6 51.1h1.4v1.4h-1.4zM38.2 53.0h1.4v1.4h-1.4zM43.7 62.2h1.4v1.4h-1.4zM67.8 70.6h1.4v1.4h-1.4zM54.7 39.9h1.4v1.4h-1.4zM45.9 74.9h1.4v1.4h-1.4zM52.7 52.7h1.4v1.4h-1.4zM63.9 54.0h1.4v1.4h-1.4zM44.9 74.1h1.4v1.4h-1.4zM43.8 65.4h1.4v1.4h-1.4zM56.9 48.6h1.4v1.4h-1.4zM50.9 87.5h1.4v1.4h-1.4zM52.4 56.4h1.4v1.4h-1.4zM42.6 69.1h1.4v1.4h-1.4zM62.8 68.6h1.4v1.4h-1.4zM61.0 82.5h1.4v1.4h-1.4zM51.5 61.1h1.4v1.4h-1.4zM52.5 77.9h1.4v1.4h-1.4zM30.0 57.8h1.4v1.4h-1.4zM52.1 79.2h1.4v1.4h-1.4zM45.2 57.5h1.4v1.4h-1.4zM50.4 62.1h1.4v1.4h-1.4zM52.5 88.1h1.4v1.4h-1.4zM44.0 69.9h1.4v1.4h-1.4zM32.8 67.6h1.4v1.4h-1.4zM49.9 92.1h1.4v1.4h-1.4zM40.6 70.5h1.4v1.4h-1.4zM44.1 56.9h1.4v1.4h-1.4zM41.8 74.7h1.4v1.4h-1.4zM44.0 52.7h1.4v1.4h-1.4zM27.6 79.3h1.4v1.4h-1.4zM56.9 80.2h1.4v1.4h-1.4zM48.9 59.7h1.4v1.4h-1.4zM56.0 59.1h1.4v1.4h-1.4zM63.2 68.3h1.4v1.4h-1.4zM47.0 66.5h1.4v1.4h-1.4zM31.8 55.1h1.4v1.4h-1.4zM39.4 72.8h1.4v1.4h-1.4zM36.8 42.8h1.4v1.4h-1.4zM42.6 61.3h1.4v1.4h-1.4zM47.5 61.7h1.4v1.4h-1.4zM30.2 63.2h1.4v1.4h-1.4zM49.6 69.8h1.4v1.4h-1.4zM34.3 52.2h1.4v1.4h-1.4zM49.3 73.1h1.4v1.4h-1.4zM45.9 64.2h1.4v1.4h-1.4zM44.2 58.8h1.4v1.4h-1.4zM46.2 50.6h1.4v1.4h-1.4zM42.3 52.7h1.4v1.4h-1.4zM41.7 70.4h1.4v1.4h-1.4zM32.8 55.2h1.4v1.4h-1.4zM46.6 67.0h1.4v1.4h-1.4zM62.1 78.5h1.4v1.4h-1.4zM63.2 78.2h1.4v1.4h-1.4zM57.8 84.2h1.4v1.4h-1.4zM52.7 62.9h1.4v1.4h-1.4zM41.2 53.8h1.4v1.4h-1.4zM58.8 78.0h1.4v1.4h-1.4zM46.3 69.9h1.4v1.4h-1.4zM46.2 79.2h1.4v1.4h-1.4zM44.4 66.4h1.4v1.4h-1.4zM47.6 80.0h1.4v1.4h-1.4zM43.2 76.0h1.4v1.4h-1.4zM46.1 74.5h1.4v1.4h-1.4zM37.8 72.1h1.4v1.4h-1.4zM43.7 70.9h1.4v1.4h-1.4zM65.7 69.0h1.4v1.4h-1.4zM46.2 68.9h1.4v1.4h-1.4zM44.8 77.7h1.4v1.4h-1.4zM51.2 60.4h1.4v1.4h-1.4zM52.7 86.3h1.4v1.4h-1.4zM37.6 65.1h1.4v1.4h-1.4zM45.1 77.6h1.4v1.4h-1.4zM54.4 65.3h1.4v1.4h-1.4zM49.0 63.5h1.4v1.4h-1.4zM47.8 89.7h1.4v1.4h-1.4zM59.7 62.7h1.4v1.4h-1.4zM41.2 51.6h1.4v1.4h-1.4zM47.5 58.1h1.4v1.4h-1.4zM42.5 62.7h1.4v1.4h-1.4zM59.2 91.1h1.4v1.4h-1.4zM30.6 68.7h1.4v1.4h-1.4zM41.2 77.0h1.4v1.4h-1.4zM42.4 54.8h1.4v1.4h-1.4zM52.3 70.4h1.4v1.4h-1.4zM51.8 74.0h1.4v1.4h-1.4zM58.4 87.0h1.4v1.4h-1.4zM33.7 58.3h1.4v1.4h-1.4zM53.0 73.2h1.4v1.4h-1.4zM44.4 69.8h1.4v1.4h-1.4zM41.3 54.6h1.4v1.4h-1.4zM51.3 66.1h1.4v1.4h-1.4zM39.2 63.3h1.4v1.4h-1.4zM29.6 39.6h1.4v1.4h-1.4zM43.7 73.2h1.4v1.4h-1.4zM34.4 72.5h1.4v1.4h-1.4zM41.4 61.3h1.4v1.4h-1.4zM49.9 50.9h1.4v1.4h-1.4zM49.4 83.3h1.4v1.4h-1.4zM60.0 69.4h1.4v1.4h-1.4zM45.1 78.0h1.4v1.4h-1.4zM34.1 82.5h1.4v1.4h-1.4zM40.5 60.3h1.4v1.4h-1.4zM39.2 75.6h1.4v1.4h-1.4zM36.7 63.5h1.4v1.4h-1.4zM50.4 65.6h1.4v1.4h-1.4zM41.4 65.3h1.4v1.4h-1.4zM30.4 66.3h1.4v1.4h-1.4zM52.6 79.1h1.4v1.4h-1.4zM45.9 67.7h1.4v1.4h-1.4zM49.8 64.5h1.4v1.4h-1.4zM47.7 63.1h1.4v1.4h-1.4zM52.0 70.2h1.4v1.4h-1.4zM47.1 56.0h1.4v1.4h-1.4zM57.1 60.5h1.4v1.4h-1.4zM50.3 65.7h1.4v1.4h-1.4zM50.1 59.8h1.4v1.4h-1.4zM50.2 64.9h1.4v1.4h-1.4zM34.7 59.3h1.4v1.4h-1.4zM45.4 89.3h1.4v1.4h-1.4zM44.6 81.6h1.4v1.4h-1.4zM48.5 71.5h1.4v1.4h-1.4zM35.5 65.7h1.4v1.4h-1.4zM60.4 91.5h1.4v1.4h-1.4zM47.7 70.0h1.4v1.4h-1.4zM36.7 65.3h1.4v1.4h-1.4zM32.6 69.8h1.4v1.4h-1.4zM44.5 69.8h1.4v1.4h-1.4zM46.1 82.5h1.4v1.4h-1.4zM40.8 66.1h1.4v1.4h-1.4zM47.6 90.4h1.4v1.4h-1.4zM41.5 56.2h1.4v1.4h-1.4zM51.4 74.3h1.4v1.4h-1.4zM40.8 54.8h1.4v1.4h-1.4zM46.5 87.2h1.4v1.4h-1.4zM54.9 62.5h1.4v1.4h-1.4zM68.1 65.6h1.4v1.4h-1.4zM38.4 76.9h1.4v1.4h-1.4zM42.9 80.7h1.4v1.4h-1.4zM39.8 53.5h1.4v1.4h-1.4zM53.3 62.3h1.4v1.4h-1.4zM37.3 50.3h1.4v1.4h-1.4zM42.8 67.9h1.4v1.4h-1.4zM46.6 65.1h1.4v1.4h-1.4zM38.7 62.3h1.4v1.4h-1.4zM38.9 58.4h1.4v1.4h-1.4zM42.9 61.9h1.4v1.4h-1.4zM29.4 57.7h1.4v1.4h-1.4zM34.8 72.4h1.4v1.4h-1.4zM43.4 83.7h1.4v1.4h-1.4zM48.0 44.1h1.4v1.4h-1.4zM45.3 65.0h1.4v1.4h-1.4zM32.1 61.5h1.4v1.4h-1.4zM43.0 72.0h1.4v1.4h-1.4zM53.4 55.4h1.4v1.4h-1.4zM51.4 64.6h1.4v1.4h-1.4zM46.1 54.3h1.4v1.4h-1.4zM39.4 74.3h1.4v1.4h-1.4zM52.0 67.4h1.4v1.4h-1.4zM42.0 64.4h1.4v1.4h-1.4zM37.1 70.6h1.4v1.4h-1.4zM40.1 63.5h1.4v1.4h-1.4zM58.8 48.4h1.4v1.4h-1.4zM48.6 73.2h1.4v1.4h-1.4zM56.4 69.6h1.4v1.4h-1.4zM42.8 64.5h1.4v1.4h-1.4zM54.6 77.6h1.4v1.4h-1.4zM41.8 80.3h1.4v1.4h-1.4zM45.5 53.7h1.4v1.4h-1.4zM67.4 57.3h1.4v1.4h-1.4zM53.2 84.1h1.4v1.4h-1.4zM42.6 82.6h1.4v1.4h-1.4zM46.1 57.8h1.4v1.4h-1.4zM49.5 52.7h1.4v1.4h-1.4zM56.8 59.0h1.4v1.4h-1.4zM42.7 60.6h1.4v1.4h-1.4zM32.3 48.1h1.4v1.4h-1.4zM44.5 66.7h1.4v1.4h-1.4zM46.9 51.6h1.4v1.4h-1.4zM47.7 52.4h1.4v1.4h-1.4zM57.7 76.8h1.4v1.4h-1.4zM49.4 58.4h1.4v1.4h-1.4zM53.5 65.5h1.4v1.4h-1.4zM37.7 73.5h1.4v1.4h-1.4zM54.0 75.7h1.4v1.4h-1.4zM64.2 62.4h1.4v1.4h-1.4zM53.2 66.8h1.4v1.4h-1.4zM48.9 56.8h1.4v1.4h-1.4zM48.1 86.4h1.4v1.4h-1.4zM61.6 73.8h1.4v1.4h-1.4zM39.1 53.6h1.4v1.4h-1.4zM45.9 66.3h1.4v1.4h-1.4zM50.6 74.5h1.4v1.4h-1.4zM53.0 71.8h1.4v1.4h-1.4zM43.2 87.3h1.4v1.4h-1.4zM49.4 82.1h1.4v1.4h-1.4zM44.5 60.1h1.4v1.4h-1.4zM47.8 65.3h1.4v1.4h-1.4zM45.7 51.6h1.4v1.4h-1.4zM37.3 69.2h1.4v1.4h-1.4zM46.6 68.0h1.4v1.4h-1.4zM54.1 97.4h1.4v1.4h-1.4zM38.8 67.4h1.4v1.4h-1.4zM44.8 42.2h1.4v1.4h-1.4zM52.3 58.6h1.4v1.4h-1.4zM37.9 67.6h1.4v1.4h-1.4zM48.3 51.9h1.4v1.4h-1.4zM38.0 56.3h1.4v1.4h-1.4zM56.2 62.1h1.4v1.4h-1.4zM66.0 70.2h1.4v1.4h-1.4zM63.6 64.4h1.4v1.4h-1.4zM45.0 56.1h1.4v1.4h-1.4zM52.9 75.4h1.4v1.4h-1.4zM47.8 60.1h1.4v1.4h-1.4zM47.6 60.6h1.4v1.4h-1.4zM59.6 50.4h1.4v1.4h-1.4zM35.9 57.3h1.4v1.4h-1.4zM55.6 73.8h1.4v1.4h-1.4zM46.4 47.7h1.4v1.4h-1.4zM58.5 65.5h1.4v1.4h-1.4zM48.4 74.6h1.4v1.4h-1.4zM41.2 62.0h1.4v1.4h-1.4zM49.1 69.1h1.4v1.4h-1.4zM52.9 53.5h1.4v1.4h-1.4zM47.1 81.4h1.4v1.4h-1.4zM50.9 79.0h1.4v1.4h-1.4zM42.5 69.0h1.4v1.4h-1.4zM29.1 46.1h1.4v1.4h-1.4zM54.3 54.3h1.4v1.4h-1.4zM52.6 77.5h1.4v1.4h-1.4zM48.0 86.0h1.4v1.4h-1.4zM47.4 69.7h1.4v1.4h-1.4zM55.4 80.6h1.4v1.4h-1.4zM43.0 59.3h1.4v1.4h-1.4zM40.9 64.1h1.4v1.4h-1.4zM45.2 66.3h1.4v1.4h-1.4zM56.7 71.2h1.4v1.4h-1.4zM35.3 48.7h1.4v1.4h-1.4zM56.7 77.1h1.4v1.4h-1.4zM41.5 81.5h1.4v1.4h-1.4zM37.7 53.1h1.4v1.4h-1.4zM57.3 50.7h1.4v1.4h-1.4zM46.0 70.3h1.4v1.4h-1.4zM36.0 58.8h1.4v1.4h-1.4zM43.8 39.0h1.4v1.4h-1.4zM54.5 75.6h1.4v1.4h-1.4zM56.7 68.1h1.4v1.4h-1.4zM43.3 60.8h1.4v1.4h-1.4zM50.2 90.6h1.4v1.4h-1.4zM52.7 67.9h1.4v1.4h-1.4zM41.4 57.6h1.4v1.4h-1.4zM49.7 67.5h1.4v1.4h-1.4zM46.5 54.3h1.4v1.4h-1.4zM42.4 57.5h1.4v1.4h-1.4zM42.7 70.7h1.4v1.4h-1.4zM47.4 59.9h1.4v1.4h-1.4zM47.0 61.1h1.4v1.4h-1.4zM42.1 85.5h1.4v1.4h-1.4zM43.3 76.2h1.4v1.4h-1.4zM56.0 75.5h1.4v1.4h-1.4zM48.6 72.4h1.4v1.4h-1.4zM54.1 71.9h1.4v1.4h-1.4zM56.8 83.1h1.4v1.4h-1.4zM51.7 66.1h1.4v1.4h-1.4zM65.6 87.6h1.4v1.4h-1.4zM39.9 55.4h1.4v1.4h-1.4zM53.5 63.4h1.4v1.4h-1.4zM44.2 50.4h1.4v1.4h-1.4zM62.2 62.3h1.4v1.4h-1.4zM60.9 72.3h1.4v1.4h-1.4zM30.6 83.0h1.4v1.4h-1.4zM38.8 58.7h1.4v1.4h-1.4zM52.3 66.4h1.4v1.4h-1.4zM53.4 62.2h1.4v1.4h-1.4zM52.9 57.8h1.4v1.4h-1.4zM46.2 52.6h1.4v1.4h-1.4zM50.6 67.0h1.4v1.4h-1.4zM52.2 46.4h1.4v1.4h-1.4zM46.2 67.6h1.4v1.4h-1.4zM55.3 66.5h1.4v1.4h-1.4zM28.0 58.7h1.4v1.4h-1.4zM52.1 54.7h1.4v1.4h-1.4zM38.2 50.4h1.4v1.4h-1.4zM54.8 87.8h1.4v1.4h-1.4zM44.9 50.9h1.4v1.4h-1.4zM39.4 84.2h1.4v1.4h-1.4zM49.9 73.2h1.4v1.4h-1.4zM39.2 62.1h1.4v1.4h-1.4zM39.2 53.0h1.4v1.4h-1.4zM33.8 78.3h1.4v1.4h-1.4zM46.6 86.2h1.4v1.4h-1.4zM50.9 55.6h1.4v1.4h-1.4zM55.3 62.9h1.4v1.4h-1.4zM45.6 78.4h1.4v1.4h-1.4zM55.5 70.2h1.4v1.4h-1.4zM46.9 89.3h1.4v1.4h-1.4zM46.0 59.7h1.4v1.4h-1.4zM51.6 72.5h1.4v1.4h-1.4zM55.6 51.9h1.4v1.4h-1.4zM44.0 90.4h1.4v1.4h-1.4zM44.8 57.9h1.4v1.4h-1.4zM45.5 40.9h1.4v1.4h-1.4zM47.5 64.9h1.4v1.4h-1.4zM39.3 64.7h1.4v1.4h-1.4zM55.3 88.3h1.4v1.4h-1.4zM43.5 62.4h1.4v1.4h-1.4zM50.6 66.2h1.4v1.4h-1.4zM39.9 73.1h1.4v1.4h-1.4zM49.8 84.5h1.4v1.4h-1.4zM50.1 65.6h1.4v1.4h-1.4zM43.3 78.3h1.4v1.4h-1.4zM63.6 72.3h1.4v1.4h-1.4zM49.9 62.9h1.4v1.4h-1.4zM61.5 67.2h1.4v1.4h-1.4zM54.8 66.6h1.4v1.4h-1.4zM41.3 55.8h1.4v1.4h-1.4zM43.6 80.3h1.4v1.4h-1.4zM50.4 50.4h1.4v1.4h-1.4zM47.3 79.8h1.4v1.4h-1.4zM47.2 77.3h1.4v1.4h-1.4zM44.4 65.2h1.4v1.4h-1.4zM31.8 57.5h1.4v1.4h-1.4zM44.9 63.7h1.4v1.4h-1.4zM28.4 71.7h1.4v1.4h-1.4zM49.9 74.8h1.4v1.4h-1.4zM40.8 69.6h1.4v1.4h-1.4zM40.9 77.7h1.4v1.4h-1.4zM45.0 59.9h1.4v1.4h-1.4zM49.1 69.0h1.4v1.4h-1.4zM34.9 48.3h1.4v1.4h-1.4zM32.3 75.1h1.4v1.4h-1.4zM38.0 68.1h1.4v1.4h-1.4zM29.9 61.5h1.4v1.4h-1.4zM38.8 79.7h1.4v1.4h-1.4zM60.0 74.3h1.4v1.4h-1.4zM52.2 66.8h1.4v1.4h-1.4zM35.4 49.6h1.4v1.4h-1.4zM49.3 78.6h1.4v1.4h-1.4zM44.1 94.9h1.4v1.4h-1.4zM46.3 60.3h1.4v1.4h-1.4zM51.5 67.2h1.4v1.4h-1.4zM61.4 63.4h1.4v1.4h-1.4zM48.4 70.3h1.4v1.4h-1.4zM47.8 73.7h1.4v1.4h-1.4zM38.7 81.1h1.4v1.4h-1.4zM51.6 54.9h1.4v1.4h-1.4zM44.8 84.4h1.4v1.4h-1.4zM53.7 55.6h1.4v1.4h-1.4zM46.4 69.5h1.4v1.4h-1.4zM61.2 79.6h1.4v1.4h-1.4zM30.3 74.5h1.4v1.4h-1.4zM44.3 55.5h1.4v1.4h-1.4zM54.1 58.2h1.4v1.4h-1.4zM43.9 61.0h1.4v1.4h-1.4zM40.2 65.7h1.4v1.4h-1.4zM44.6 79.5h1.4v1.4h-1.4zM35.3 51.4h1.4v1.4h-1.4zM47.8 71.7h1.4v1.4h-1.4zM67.1 73.3h1.4v1.4h-1.4zM56.3 72.7h1.4v1.4h-1.4zM37.6 71.7h1.4v1.4h-1.4zM39.6 83.8h1.4v1.4h-1.4zM43.4 71.9h1.4v1.4h-1.4zM55.1 76.2h1.4v1.4h-1.4zM40.0 72.8h1.4v1.4h-1.4zM41.1 86.9h1.4v1.4h-1.4zM54.1 44.5h1.4v1.4h-1.4zM54.0 81.0h1.4v1.4h-1.4zM43.7 63.3h1.4v1.4h-1.4zM37.5 63.1h1.4v1.4h-1.4zM33.9 55.2h1.4v1.4h-1.4zM41.0 44.8h1.4v1.4h-1.4zM28.3 61.9h1.4v1.4h-1.4zM53.0 58.4h1.4v1.4h-1.4zM41.6 72.0h1.4v1.4h-1.4zM50.8 49.4h1.4v1.4h-1.4zM62.3 82.8h1.4v1.4h-1.4zM56.5 69.4h1.4v1.4h-1.4zM37.2 63.4h1.4v1.4h-1.4zM54.0 58.1h1.4v1.4h-1.4zM56.4 57.2h1.4v1.4h-1.4zM40.6 53.3h1.4v1.4h-1.4zM38.9 60.0h1.4v1.4h-1.4zM45.9 66.4h1.4v1.4h-1.4zM33.5 64.3h1.4v1.4h-1.4zM59.0 50.0h1.4v1.4h-1.4zM26.8 63.2h1.4v1.4h-1.4zM37.6 56.0h1.4v1.4h-1.4zM44.6 68.1h1.4v1.4h-1.4zM44.9 87.7h1.4v1.4h-1.4zM48.2 73.5h1.4v1.4h-1.4zM49.1 62.7h1.4v1.4h-1.4zM45.0 47.6h1.4v1.4h-1.4zM56.2 50.0h1.4v1.4h-1.4zM29.0 46.9h1.4v1.4h-1.4zM46.8 74.6h1.4v1.4h-1.4zM40.9 57.5h1.4v1.4h-1.4zM47.9 67.0h1.4v1.4h-1.4zM48.6 59.1h1.4v1.4h-1.4zM39.2 67.3h1.4v1.4h-1.4zM41.5 82.4h1.4v1.4h-1.4zM53.4 58.4h1.4v1.4h-1.4zM49.7 62.4h1.4v1.4h-1.4zM41.2 57.0h1.4v1.4h-1.4zM63.7 76.4h1.4v1.4h-1.4zM66.0 54.5h1.4v1.4h-1.4zM34.7 53.3h1.4v1.4h-1.4zM36.8 52.3h1.4v1.4h-1.4zM53.5 50.3h1.4v1.4h-1.4zM72.4 43.6h1.4v1.4h-1.4zM40.3 60.4h1.4v1.4h-1.4zM57.9 47.3h1.4v1.4h-1.4zM51.6 43.1h1.4v1.4h-1.4zM39.4 47.6h1.4v1.4h-1.4zM46.8 50.6h1.4v1.4h-1.4zM47.2 44.8h1.4v1.4h-1.4zM43.1 48.9h1.4v1.4h-1.4zM66.7 38.5h1.4v1.4h-1.4zM32.1 47.5h1.4v1.4h-1.4zM52.7 55.5h1.4v1.4h-1.4zM52.3 65.1h1.4v1.4h-1.4zM44.1 55.0h1.4v1.4h-1.4zM50.6 51.5h1.4v1.4h-1.4zM57.2 58.8h1.4v1.4h-1.4zM50.7 57.5h1.4v1.4h-1.4zM53.1 62.6h1.4v1.4h-1.4zM55.5 58.0h1.4v1.4h-1.4zM31.0 48.4h1.4v1.4h-1.4zM62.6 51.4h1.4v1.4h-1.4zM69.8 50.7h1.4v1.4h-1.4zM58.1 51.7h1.4v1.4h-1.4zM58.4 50.9h1.4v1.4h-1.4zM36.6 43.0h1.4v1.4h-1.4zM48.2 32.5h1.4v1.4h-1.4zM42.0 43.9h1.4v1.4h-1.4zM44.0 33.1h1.4v1.4h-1.4zM58.0 49.8h1.4v1.4h-1.4zM42.1 49.3h1.4v1.4h-1.4zM48.1 35.9h1.4v1.4h-1.4zM32.1 54.8h1.4v1.4h-1.4zM47.9 56.2h1.4v1.4h-1.4zM50.1 50.1h1.4v1.4h-1.4zM43.0 62.6h1.4v1.4h-1.4zM42.8 64.3h1.4v1.4h-1.4zM66.3 39.7h1.4v1.4h-1.4zM38.4 57.6h1.4v1.4h-1.4zM39.8 52.8h1.4v1.4h-1.4zM42.0 52.6h1.4v1.4h-1.4zM60.1 56.8h1.4v1.4h-1.4zM68.2 43.5h1.4v1.4h-1.4zM52.3 44.6h1.4v1.4h-1.4zM42.8 42.7h1.4v1.4h-1.4zM45.5 43.3h1.4v1.4h-1.4zM58.9 48.5h1.4v1.4h-1.4zM41.1 37.7h1.4v1.4h-1.4zM62.4 40.9h1.4v1.4h-1.4zM62.0 53.9h1.4v1.4h-1.4zM49.9 48.7h1.4v1.4h-1.4zM55.1 52.4h1.4v1.4h-1.4zM56.0 34.2h1.4v1.4h-1.4zM63.3 43.0h1.4v1.4h-1.4zM39.8 44.9h1.4v1.4h-1.4zM59.9 49.6h1.4v1.4h-1.4zM45.9 44.6h1.4v1.4h-1.4zM42.4 56.8h1.4v1.4h-1.4zM50.2 48.8h1.4v1.4h-1.4zM47.4 49.4h1.4v1.4h-1.4zM40.4 49.4h1.4v1.4h-1.4zM34.9 55.0h1.4v1.4h-1.4zM40.8 45.5h1.4v1.4h-1.4zM62.4 58.3h1.4v1.4h-1.4zM67.0 53.0h1.4v1.4h-1.4zM55.2 50.5h1.4v1.4h-1.4zM60.0 49.6h1.4v1.4h-1.4zM44.6 53.5h1.4v1.4h-1.4zM48.6 57.4h1.4v1.4h-1.4zM51.8 56.9h1.4v1.4h-1.4zM39.6 52.3h1.4v1.4h-1.4zM40.4 56.3h1.4v1.4h-1.4zM50.2 50.2h1.4v1.4h-1.4zM46.4 59.3h1.4v1.4h-1.4zM39.7 49.1h1.4v1.4h-1.4zM52.8 32.7h1.4v1.4h-1.4zM46.9 60.0h1.4v1.4h-1.4zM58.5 50.2h1.4v1.4h-1.4zM49.3 39.9h1.4v1.4h-1.4zM46.6 47.7h1.4v1.4h-1.4zM50.4 42.2h1.4v1.4h-1.4zM47.8 66.1h1.4v1.4h-1.4zM43.3 53.3h1.4v1.4h-1.4zM45.7 36.8h1.4v1.4h-1.4zM56.0 53.7h1.4v1.4h-1.4zM55.1 46.1h1.4v1.4h-1.4zM60.9 64.6h1.4v1.4h-1.4zM34.1 40.9h1.4v1.4h-1.4zM45.6 49.8h1.4v1.4h-1.4zM50.8 46.5h1.4v1.4h-1.4zM45.2 46.0h1.4v1.4h-1.4zM44.7 32.2h1.4v1.4h-1.4zM56.3 52.7h1.4v1.4h-1.4zM50.9 62.7h1.4v1.4h-1.4zM61.3 58.7h1.4v1.4h-1.4zM58.3 44.8h1.4v1.4h-1.4zM44.1 68.1h1.4v1.4h-1.4zM56.8 52.8h1.4v1.4h-1.4zM42.7 47.8h1.4v1.4h-1.4zM59.4 58.1h1.4v1.4h-1.4zM47.3 53.5h1.4v1.4h-1.4zM42.1 44.6h1.4v1.4h-1.4zM45.9 55.0h1.4v1.4h-1.4zM42.4 45.2h1.4v1.4h-1.4zM51.0 35.0h1.4v1.4h-1.4zM50.9 65.6h1.4v1.4h-1.4zM49.6 46.5h1.4v1.4h-1.4zM44.3 44.4h1.4v1.4h-1.4zM50.1 36.8h1.4v1.4h-1.4zM32.2 38.5h1.4v1.4h-1.4zM51.5 45.3h1.4v1.4h-1.4zM59.5 45.1h1.4v1.4h-1.4zM51.8 49.9h1.4v1.4h-1.4zM45.8 58.3h1.4v1.4h-1.4zM47.7 45.5h1.4v1.4h-1.4zM48.1 53.2h1.4v1.4h-1.4zM44.4 54.1h1.4v1.4h-1.4zM44.0 40.6h1.4v1.4h-1.4zM41.0 51.1h1.4v1.4h-1.4zM60.0 41.8h1.4v1.4h-1.4zM49.2 57.8h1.4v1.4h-1.4zM57.9 52.9h1.4v1.4h-1.4zM47.0 49.4h1.4v1.4h-1.4zM49.9 38.6h1.4v1.4h-1.4zM47.8 50.2h1.4v1.4h-1.4zM53.5 43.2h1.4v1.4h-1.4zM56.7 54.9h1.4v1.4h-1.4zM51.5 48.3h1.4v1.4h-1.4zM43.2 42.8h1.4v1.4h-1.4zM42.3 56.7h1.4v1.4h-1.4zM64.2 55.1h1.4v1.4h-1.4zM46.8 44.6h1.4v1.4h-1.4zM46.7 58.6h1.4v1.4h-1.4zM62.5 46.9h1.4v1.4h-1.4zM59.1 46.8h1.4v1.4h-1.4zM54.1 50.3h1.4v1.4h-1.4zM45.7 43.3h1.4v1.4h-1.4zM70.5 45.8h1.4v1.4h-1.4zM52.8 48.0h1.4v1.4h-1.4zM54.2 61.5h1.4v1.4h-1.4zM47.8 61.3h1.4v1.4h-1.4zM36.6 47.2h1.4v1.4h-1.4zM37.3 62.2h1.4v1.4h-1.4zM53.0 49.0h1.4v1.4h-1.4zM52.8 52.3h1.4v1.4h-1.4zM47.1 56.4h1.4v1.4h-1.4zM38.8 51.6h1.4v1.4h-1.4zM36.3 68.6h1.4v1.4h-1.4zM46.3 51.2h1.4v1.4h-1.4zM36.2 39.7h1.4v1.4h-1.4zM57.4 59.7h1.4v1.4h-1.4zM59.7 46.0h1.4v1.4h-1.4zM74.8 46.9h1.4v1.4h-1.4zM44.0 57.3h1.4v1.4h-1.4zM41.5 55.8h1.4v1.4h-1.4zM43.9 57.1h1.4v1.4h-1.4zM47.7 62.8h1.4v1.4h-1.4zM58.0 48.9h1.4v1.4h-1.4zM54.8 56.8h1.4v1.4h-1.4zM54.6 43.3h1.4v1.4h-1.4zM51.2 46.5h1.4v1.4h-1.4zM55.2 57.8h1.4v1.4h-1.4zM62.3 52.4h1.4v1.4h-1.4zM39.7 38.6h1.4v1.4h-1.4zM45.2 52.2h1.4v1.4h-1.4zM36.8 47.8h1.4v1.4h-1.4zM63.9 42.8h1.4v1.4h-1.4zM61.0 52.8h1.4v1.4h-1.4zM56.1 46.1h1.4v1.4h-1.4zM38.5 36.7h1.4v1.4h-1.4zM50.9 40.4h1.4v1.4h-1.4zM47.2 63.5h1.4v1.4h-1.4zM50.0 37.2h1.4v1.4h-1.4zM47.6 51.1h1.4v1.4h-1.4zM54.0 54.2h1.4v1.4h-1.4zM45.7 54.4h1.4v1.4h-1.4zM57.0 39.5h1.4v1.4h-1.4zM51.5 46.7h1.4v1.4h-1.4zM46.7 50.4h1.4v1.4h-1.4zM48.3 55.7h1.4v1.4h-1.4zM45.3 44.1h1.4v1.4h-1.4zM56.6 40.0h1.4v1.4h-1.4zM46.9 57.3h1.4v1.4h-1.4zM52.0 58.1h1.4v1.4h-1.4zM45.8 52.3h1.4v1.4h-1.4zM35.9 44.4h1.4v1.4h-1.4zM57.5 52.6h1.4v1.4h-1.4zM39.8 50.2h1.4v1.4h-1.4zM55.4 56.0h1.4v1.4h-1.4zM53.1 39.3h1.4v1.4h-1.4zM34.4 50.2h1.4v1.4h-1.4zM40.8 48.0h1.4v1.4h-1.4zM44.7 40.4h1.4v1.4h-1.4zM41.9 51.0h1.4v1.4h-1.4zM38.7 49.6h1.4v1.4h-1.4zM56.0 46.0h1.4v1.4h-1.4zM47.1 52.5h1.4v1.4h-1.4zM52.8 37.9h1.4v1.4h-1.4zM45.4 48.9h1.4v1.4h-1.4zM52.0 52.8h1.4v1.4h-1.4zM42.5 51.6h1.4v1.4h-1.4zM49.1 57.9h1.4v1.4h-1.4zM54.5 39.7h1.4v1.4h-1.4zM49.7 37.2h1.4v1.4h-1.4zM45.2 51.2h1.4v1.4h-1.4zM39.5 52.9h1.4v1.4h-1.4zM50.8 66.3h1.4v1.4h-1.4zM52.4 54.2h1.4v1.4h-1.4zM47.0 42.3h1.4v1.4h-1.4zM42.4 55.7h1.4v1.4h-1.4zM54.2 42.5h1.4v1.4h-1.4zM71.6 37.4h1.4v1.4h-1.4zM46.6 70.2h1.4v1.4h-1.4zM52.3 51.9h1.4v1.4h-1.4zM66.3 56.0h1.4v1.4h-1.4zM65.2 68.1h1.4v1.4h-1.4zM74.0 70.7h1.4v1.4h-1.4zM63.3 61.4h1.4v1.4h-1.4zM69.8 75.3h1.4v1.4h-1.4zM54.1 66.7h1.4v1.4h-1.4zM51.6 57.1h1.4v1.4h-1.4zM71.3 69.8h1.4v1.4h-1.4zM71.6 91.9h1.4v1.4h-1.4zM64.9 61.2h1.4v1.4h-1.4zM62.9 83.3h1.4v1.4h-1.4zM62.5 85.8h1.4v1.4h-1.4zM56.5 87.3h1.4v1.4h-1.4zM72.1 59.4h1.4v1.4h-1.4zM65.9 93.5h1.4v1.4h-1.4zM64.8 70.7h1.4v1.4h-1.4zM63.9 66.3h1.4v1.4h-1.4zM68.6 66.5h1.4v1.4h-1.4zM64.8 76.5h1.4v1.4h-1.4zM66.5 69.9h1.4v1.4h-1.4zM53.1 67.2h1.4v1.4h-1.4zM64.9 84.7h1.4v1.4h-1.4zM76.6 60.6h1.4v1.4h-1.4zM57.7 56.8h1.4v1.4h-1.4zM60.4 78.8h1.4v1.4h-1.4zM67.5 77.7h1.4v1.4h-1.4zM68.0 82.4h1.4v1.4h-1.4zM65.7 56.4h1.4v1.4h-1.4zM50.0 82.3h1.4v1.4h-1.4zM64.8 75.1h1.4v1.4h-1.4zM53.0 90.5h1.4v1.4h-1.4zM55.5 54.3h1.4v1.4h-1.4zM65.1 71.9h1.4v1.4h-1.4zM59.2 66.0h1.4v1.4h-1.4zM67.0 50.2h1.4v1.4h-1.4zM83.3 60.7h1.4v1.4h-1.4zM66.7 82.8h1.4v1.4h-1.4zM66.4 63.7h1.4v1.4h-1.4zM55.0 60.6h1.4v1.4h-1.4zM56.8 79.7h1.4v1.4h-1.4zM53.9 81.2h1.4v1.4h-1.4zM57.6 81.1h1.4v1.4h-1.4zM53.7 59.8h1.4v1.4h-1.4zM56.7 68.6h1.4v1.4h-1.4zM59.8 81.7h1.4v1.4h-1.4zM54.3 61.4h1.4v1.4h-1.4zM51.4 60.3h1.4v1.4h-1.4zM51.8 79.2h1.4v1.4h-1.4zM64.5 88.0h1.4v1.4h-1.4zM61.7 55.5h1.4v1.4h-1.4zM68.5 38.1h1.4v1.4h-1.4zM68.6 51.9h1.4v1.4h-1.4zM58.9 57.2h1.4v1.4h-1.4zM66.0 67.6h1.4v1.4h-1.4zM51.2 76.7h1.4v1.4h-1.4zM77.3 67.5h1.4v1.4h-1.4zM69.7 60.9h1.4v1.4h-1.4zM59.8 71.1h1.4v1.4h-1.4zM53.2 57.8h1.4v1.4h-1.4zM64.0 68.7h1.4v1.4h-1.4zM48.2 61.6h1.4v1.4h-1.4zM55.8 101.5h1.4v1.4h-1.4zM66.5 79.1h1.4v1.4h-1.4zM61.8 59.3h1.4v1.4h-1.4zM57.9 57.3h1.4v1.4h-1.4zM68.0 64.0h1.4v1.4h-1.4zM54.0 49.6h1.4v1.4h-1.4zM63.3 60.5h1.4v1.4h-1.4zM57.8 60.4h1.4v1.4h-1.4zM55.4 79.9h1.4v1.4h-1.4zM64.5 64.2h1.4v1.4h-1.4zM54.3 59.8h1.4v1.4h-1.4zM74.6 53.2h1.4v1.4h-1.4zM57.2 55.2h1.4v1.4h-1.4zM75.2 68.5h1.4v1.4h-1.4zM53.6 66.7h1.4v1.4h-1.4zM65.5 82.9h1.4v1.4h-1.4zM52.9 61.8h1.4v1.4h-1.4zM51.9 82.0h1.4v1.4h-1.4zM62.4 72.4h1.4v1.4h-1.4zM66.0 69.2h1.4v1.4h-1.4zM52.4 45.2h1.4v1.4h-1.4zM69.6 53.8h1.4v1.4h-1.4zM55.7 78.2h1.4v1.4h-1.4zM62.2 86.1h1.4v1.4h-1.4zM64.0 71.8h1.4v1.4h-1.4zM65.5 78.5h1.4v1.4h-1.4zM48.7 64.4h1.4v1.4h-1.4zM72.6 64.8h1.4v1.4h-1.4zM65.2 61.3h1.4v1.4h-1.4zM58.3 81.0h1.4v1.4h-1.4zM54.1 73.4h1.4v1.4h-1.4zM49.4 66.5h1.4v1.4h-1.4zM51.8 65.4h1.4v1.4h-1.4zM65.1 76.0h1.4v1.4h-1.4zM58.9 73.2h1.4v1.4h-1.4zM53.4 59.3h1.4v1.4h-1.4zM57.6 89.9h1.4v1.4h-1.4zM72.2 72.4h1.4v1.4h-1.4zM59.0 69.4h1.4v1.4h-1.4zM57.2 87.0h1.4v1.4h-1.4zM70.8 81.6h1.4v1.4h-1.4zM64.5 68.2h1.4v1.4h-1.4zM61.6 75.7h1.4v1.4h-1.4zM57.0 56.5h1.4v1.4h-1.4zM50.4 61.6h1.4v1.4h-1.4zM53.1 42.2h1.4v1.4h-1.4zM57.9 83.9h1.4v1.4h-1.4zM59.8 46.5h1.4v1.4h-1.4zM63.8 77.5h1.4v1.4h-1.4zM65.2 59.3h1.4v1.4h-1.4zM62.9 57.6h1.4v1.4h-1.4zM62.8 67.0h1.4v1.4h-1.4zM54.2 72.5h1.4v1.4h-1.4zM46.2 76.6h1.4v1.4h-1.4zM57.7 90.6h1.4v1.4h-1.4zM54.6 73.6h1.4v1.4h-1.4zM56.7 79.9h1.4v1.4h-1.4zM59.4 62.1h1.4v1.4h-1.4zM52.6 77.9h1.4v1.4h-1.4zM44.2 85.3h1.4v1.4h-1.4zM40.5 96.0h1.4v1.4h-1.4zM42.7 90.1h1.4v1.4h-1.4zM42.9 90.3h1.4v1.4h-1.4zM44.4 101.1h1.4v1.4h-1.4zM45.7 91.8h1.4v1.4h-1.4zM40.2 87.1h1.4v1.4h-1.4zM38.9 96.6h1.4v1.4h-1.4zM47.8 95.0h1.4v1.4h-1.4zM33.1 86.3h1.4v1.4h-1.4zM39.6 91.6h1.4v1.4h-1.4zM52.6 96.3h1.4v1.4h-1.4zM27.1 90.3h1.4v1.4h-1.4zM39.1 103.1h1.4v1.4h-1.4zM47.4 99.7h1.4v1.4h-1.4zM33.4 94.4h1.4v1.4h-1.4zM58.9 101.8h1.4v1.4h-1.4zM27.8 85.9h1.4v1.4h-1.4zM51.9 89.3h1.4v1.4h-1.4zM52.6 101.8h1.4v1.4h-1.4zM48.8 94.5h1.4v1.4h-1.4zM42.0 88.4h1.4v1.4h-1.4zM45.4 95.6h1.4v1.4h-1.4zM37.9 98.4h1.4v1.4h-1.4zM48.2 96.2h1.4v1.4h-1.4zM36.6 86.1h1.4v1.4h-1.4zM41.7 86.0h1.4v1.4h-1.4zM49.3 92.6h1.4v1.4h-1.4zM36.6 85.6h1.4v1.4h-1.4zM41.1 86.8h1.4v1.4h-1.4zM44.3 96.9h1.4v1.4h-1.4zM35.2 93.2h1.4v1.4h-1.4zM50.3 86.8h1.4v1.4h-1.4zM45.3 101.1h1.4v1.4h-1.4zM34.2 91.9h1.4v1.4h-1.4zM43.0 101.2h1.4v1.4h-1.4zM38.6 96.3h1.4v1.4h-1.4zM39.4 96.5h1.4v1.4h-1.4zM43.8 92.9h1.4v1.4h-1.4zM39.0 97.4h1.4v1.4h-1.4zM49.1 89.7h1.4v1.4h-1.4zM39.1 89.9h1.4v1.4h-1.4zM49.2 101.0h1.4v1.4h-1.4zM43.0 89.0h1.4v1.4h-1.4zM48.4 92.2h1.4v1.4h-1.4zM40.1 98.7h1.4v1.4h-1.4zM40.3 91.2h1.4v1.4h-1.4zM36.4 91.9h1.4v1.4h-1.4zM46.8 101.7h1.4v1.4h-1.4zM48.9 89.0h1.4v1.4h-1.4zM56.0 89.6h1.4v1.4h-1.4zM51.0 101.3h1.4v1.4h-1.4zM44.8 90.3h1.4v1.4h-1.4zM42.0 91.3h1.4v1.4h-1.4zM45.6 101.2h1.4v1.4h-1.4zM43.1 91.1h1.4v1.4h-1.4zM52.1 103.2h1.4v1.4h-1.4zM49.0 100.1h1.4v1.4h-1.4zM38.3 100.5h1.4v1.4h-1.4zM39.2 89.4h1.4v1.4h-1.4zM51.5 89.2h1.4v1.4h-1.4zM45.1 98.8h1.4v1.4h-1.4zM41.9 100.2h1.4v1.4h-1.4zM50.4 89.3h1.4v1.4h-1.4zM41.0 89.0h1.4v1.4h-1.4zM41.6 89.7h1.4v1.4h-1.4zM40.5 87.8h1.4v1.4h-1.4zM31.5 92.9h1.4v1.4h-1.4zM48.5 94.4h1.4v1.4h-1.4zM36.0 96.6h1.4v1.4h-1.4zM39.9 86.3h1.4v1.4h-1.4zM38.8 88.8h1.4v1.4h-1.4zM47.7 87.4h1.4v1.4h-1.4zM42.9 90.2h1.4v1.4h-1.4zM43.4 88.6h1.4v1.4h-1.4zM33.2 102.2h1.4v1.4h-1.4zM42.8 92.0h1.4v1.4h-1.4zM34.4 87.8h1.4v1.4h-1.4zM45.1 97.3h1.4v1.4h-1.4zM45.5 102.8h1.4v1.4h-1.4zM43.2 99.6h1.4v1.4h-1.4zM55.6 97.0h1.4v1.4h-1.4zM46.5 92.1h1.4v1.4h-1.4zM46.9 92.6h1.4v1.4h-1.4zM44.2 90.7h1.4v1.4h-1.4zM42.1 99.8h1.4v1.4h-1.4zM49.1 99.8h1.4v1.4h-1.4zM49.9 94.1h1.4v1.4h-1.4zM35.5 100.8h1.4v1.4h-1.4zM49.6 97.0h1.4v1.4h-1.4zM46.4 97.6h1.4v1.4h-1.4zM49.1 90.1h1.4v1.4h-1.4zM46.1 89.6h1.4v1.4h-1.4zM35.8 89.4h1.4v1.4h-1.4zM36.3 101.7h1.4v1.4h-1.4zM54.2 99.7h1.4v1.4h-1.4zM44.8 101.5h1.4v1.4h-1.4zM34.8 100.1h1.4v1.4h-1.4zM45.4 99.8h1.4v1.4h-1.4zM41.1 93.1h1.4v1.4h-1.4zM32.2 99.1h1.4v1.4h-1.4zM29.6 88.3h1.4v1.4h-1.4zM33.7 97.1h1.4v1.4h-1.4zM44.9 86.1h1.4v1.4h-1.4zM43.0 102.7h1.4v1.4h-1.4zM41.8 101.1h1.4v1.4h-1.4zM45.0 88.3h1.4v1.4h-1.4zM46.9 99.1h1.4v1.4h-1.4zM30.7 100.1h1.4v1.4h-1.4zM41.5 86.1h1.4v1.4h-1.4zM38.3 95.5h1.4v1.4h-1.4zM35.9 92.9h1.4v1.4h-1.4zM40.0 96.4h1.4v1.4h-1.4zM42.6 101.3h1.4v1.4h-1.4zM41.7 98.3h1.4v1.4h-1.4zM34.6 89.1h1.4v1.4h-1.4zM40.4 95.3h1.4v1.4h-1.4zM55.4 95.4h1.4v1.4h-1.4zM37.0 85.5h1.4v1.4h-1.4zM33.2 87.7h1.4v1.4h-1.4zM45.0 91.8h1.4v1.4h-1.4zM46.9 88.5h1.4v1.4h-1.4zM46.1 89.6h1.4v1.4h-1.4zM36.6 97.5h1.4v1.4h-1.4zM49.3 102.6h1.4v1.4h-1.4zM38.6 93.5h1.4v1.4h-1.4zM36.5 96.9h1.4v1.4h-1.4zM39.6 99.0h1.4v1.4h-1.4zM42.6 97.4h1.4v1.4h-1.4zM47.6 97.1h1.4v1.4h-1.4zM47.0 85.3h1.4v1.4h-1.4zM43.2 101.0h1.4v1.4h-1.4zM48.9 88.2h1.4v1.4h-1.4zM43.8 88.5h1.4v1.4h-1.4zM48.7 94.5h1.4v1.4h-1.4zM34.9 95.9h1.4v1.4h-1.4zM33.9 98.9h1.4v1.4h-1.4zM48.0 90.6h1.4v1.4h-1.4zM35.0 102.3h1.4v1.4h-1.4zM41.5 96.6h1.4v1.4h-1.4zM42.7 100.5h1.4v1.4h-1.4zM40.4 93.9h1.4v1.4h-1.4zM40.6 86.6h1.4v1.4h-1.4zM51.7 85.5h1.4v1.4h-1.4zM28.1 96.8h1.4v1.4h-1.4zM48.6 93.0h1.4v1.4h-1.4zM57.1 93.2h1.4v1.4h-1.4zM43.4 91.2h1.4v1.4h-1.4zM43.2 88.5h1.4v1.4h-1.4zM47.7 93.8h1.4v1.4h-1.4zM54.3 89.9h1.4v1.4h-1.4zM36.2 101.4h1.4v1.4h-1.4zM43.8 88.5h1.4v1.4h-1.4zM42.2 102.7h1.4v1.4h-1.4zM46.7 100.8h1.4v1.4h-1.4zM44.3 92.2h1.4v1.4h-1.4zM47.3 99.2h1.4v1.4h-1.4zM40.8 95.8h1.4v1.4h-1.4zM43.6 93.7h1.4v1.4h-1.4zM39.3 99.9h1.4v1.4h-1.4zM39.3 100.3h1.4v1.4h-1.4zM42.5 88.9h1.4v1.4h-1.4zM42.4 101.6h1.4v1.4h-1.4zM36.3 85.9h1.4v1.4h-1.4zM52.7 85.4h1.4v1.4h-1.4zM42.5 94.0h1.4v1.4h-1.4zM35.0 90.7h1.4v1.4h-1.4zM49.9 92.9h1.4v1.4h-1.4zM38.8 93.9h1.4v1.4h-1.4zM46.3 93.7h1.4v1.4h-1.4zM72.7 109.3h1.4v1.4h-1.4zM73.2 103.0h1.4v1.4h-1.4zM44.6 108.1h1.4v1.4h-1.4zM41.7 103.6h1.4v1.4h-1.4zM60.0 102.4h1.4v1.4h-1.4zM37.2 102.1h1.4v1.4h-1.4zM47.3 109.4h1.4v1.4h-1.4zM63.2 109.3h1.4v1.4h-1.4zM27.6 95.7h1.4v1.4h-1.4zM65.9 100.2h1.4v1.4h-1.4zM64.0 110.6h1.4v1.4h-1.4zM46.7 102.4h1.4v1.4h-1.4zM39.7 98.6h1.4v1.4h-1.4zM54.3 103.8h1.4v1.4h-1.4zM42.1 103.4h1.4v1.4h-1.4zM68.4 103.4h1.4v1.4h-1.4zM56.8 102.0h1.4v1.4h-1.4zM42.6 102.6h1.4v1.4h-1.4zM67.7 102.1h1.4v1.4h-1.4zM57.7 105.1h1.4v1.4h-1.4zM33.9 100.7h1.4v1.4h-1.4zM48.0 102.7h1.4v1.4h-1.4zM51.8 103.3h1.4v1.4h-1.4zM74.5 108.8h1.4v1.4h-1.4zM43.3 105.2h1.4v1.4h-1.4zM49.7 103.4h1.4v1.4h-1.4zM76.1 105.8h1.4v1.4h-1.4zM48.6 105.3h1.4v1.4h-1.4zM68.7 107.9h1.4v1.4h-1.4zM32.1 105.7h1.4v1.4h-1.4zM47.0 110.6h1.4v1.4h-1.4zM36.5 108.9h1.4v1.4h-1.4zM71.5 103.6h1.4v1.4h-1.4zM54.9 102.2h1.4v1.4h-1.4zM38.2 107.2h1.4v1.4h-1.4zM31.9 105.8h1.4v1.4h-1.4zM48.3 103.4h1.4v1.4h-1.4zM32.1 98.2h1.4v1.4h-1.4zM51.6 96.8h1.4v1.4h-1.4zM63.7 105.1h1.4v1.4h-1.4zM42.8 106.7h1.4v1.4h-1.4zM35.7 106.9h1.4v1.4h-1.4zM45.4 98.9h1.4v1.4h-1.4zM35.6 107.7h1.4v1.4h-1.4zM69.5 101.8h1.4v1.4h-1.4zM32.1 105.3h1.4v1.4h-1.4zM64.3 105.4h1.4v1.4h-1.4zM44.0 100.8h1.4v1.4h-1.4zM63.7 101.6h1.4v1.4h-1.4zM65.8 95.9h1.4v1.4h-1.4zM34.1 100.3h1.4v1.4h-1.4zM65.1 97.0h1.4v1.4h-1.4zM74.6 105.5h1.4v1.4h-1.4zM55.7 104.0h1.4v1.4h-1.4zM59.5 107.3h1.4v1.4h-1.4zM43.4 105.2h1.4v1.4h-1.4zM36.0 101.4h1.4v1.4h-1.4zM64.5 105.1h1.4v1.4h-1.4zM68.3 102.3h1.4v1.4h-1.4zM37.6 106.1h1.4v1.4h-1.4zM33.0 105.0h1.4v1.4h-1.4zM44.9 100.0h1.4v1.4h-1.4zM58.6 103.8h1.4v1.4h-1.4zM45.6 104.0h1.4v1.4h-1.4zM75.5 102.6h1.4v1.4h-1.4zM66.9 107.2h1.4v1.4h-1.4zM73.1 110.3h1.4v1.4h-1.4zM57.3 102.4h1.4v1.4h-1.4zM65.1 102.5h1.4v1.4h-1.4zM74.8 95.3h1.4v1.4h-1.4zM29.1 103.3h1.4v1.4h-1.4zM56.0 102.1h1.4v1.4h-1.4zM36.7 95.6h1.4v1.4h-1.4zM67.1 104.9h1.4v1.4h-1.4zM38.9 106.0h1.4v1.4h-1.4zM64.4 101.0h1.4v1.4h-1.4zM43.9 102.4h1.4v1.4h-1.4zM59.9 100.1h1.4v1.4h-1.4zM61.2 106.7h1.4v1.4h-1.4zM72.7 98.0h1.4v1.4h-1.4zM70.9 102.6h1.4v1.4h-1.4zM49.2 111.2h1.4v1.4h-1.4zM61.8 104.0h1.4v1.4h-1.4zM36.4 105.6h1.4v1.4h-1.4zM32.2 103.2h1.4v1.4h-1.4zM63.0 99.3h1.4v1.4h-1.4zM72.6 103.7h1.4v1.4h-1.4zM64.6 105.3h1.4v1.4h-1.4zM53.1 99.9h1.4v1.4h-1.4zM58.8 105.1h1.4v1.4h-1.4zM63.8 108.5h1.4v1.4h-1.4zM55.8 107.9h1.4v1.4h-1.4zM45.5 97.8h1.4v1.4h-1.4zM69.8 100.1h1.4v1.4h-1.4zM45.8 97.7h1.4v1.4h-1.4zM72.5 107.9h1.4v1.4h-1.4zM67.3 106.1h1.4v1.4h-1.4zM67.0 106.5h1.4v1.4h-1.4zM69.0 100.5h1.4v1.4h-1.4zM76.6 99.4h1.4v1.4h-1.4zM76.8 104.1h1.4v1.4h-1.4zM52.4 104.2h1.4v1.4h-1.4zM46.2 100.6h1.4v1.4h-1.4zM64.0 104.3h1.4v1.4h-1.4zM75.7 106.2h1.4v1.4h-1.4zM58.8 104.7h1.4v1.4h-1.4zM28.6 99.9h1.4v1.4h-1.4zM29.2 95.8h1.4v1.4h-1.4zM50.5 102.8h1.4v1.4h-1.4zM66.7 104.4h1.4v1.4h-1.4zM71.7 102.8h1.4v1.4h-1.4zM46.1 102.2h1.4v1.4h-1.4zM53.2 101.2h1.4v1.4h-1.4zM53.0 106.5h1.4v1.4h-1.4zM32.0 103.6h1.4v1.4h-1.4zM27.3 104.3h1.4v1.4h-1.4zM53.5 100.1h1.4v1.4h-1.4zM52.5 101.4h1.4v1.4h-1.4zM70.5 104.4h1.4v1.4h-1.4zM36.4 100.0h1.4v1.4h-1.4zM69.9 99.0h1.4v1.4h-1.4zM40.9 102.5h1.4v1.4h-1.4zM54.3 108.4h1.4v1.4h-1.4zM62.7 104.5h1.4v1.4h-1.4zM34.6 109.3h1.4v1.4h-1.4zM74.6 103.3h1.4v1.4h-1.4zM75.2 102.6h1.4v1.4h-1.4zM75.8 98.5h1.4v1.4h-1.4zM27.4 101.6h1.4v1.4h-1.4zM59.5 109.3h1.4v1.4h-1.4zM60.9 105.0h1.4v1.4h-1.4zM71.3 106.6h1.4v1.4h-1.4zM37.4 106.5h1.4v1.4h-1.4zM33.5 103.8h1.4v1.4h-1.4zM67.8 103.0h1.4v1.4h-1.4zM40.4 104.3h1.4v1.4h-1.4zM30.6 106.4h1.4v1.4h-1.4zM31.9 105.5h1.4v1.4h-1.4zM59.6 105.7h1.4v1.4h-1.4zM54.1 104.4h1.4v1.4h-1.4zM64.7 100.9h1.4v1.4h-1.4zM67.7 102.8h1.4v1.4h-1.4zM27.4 100.2h1.4v1.4h-1.4zM73.9 107.6h1.4v1.4h-1.4zM71.3 95.8h1.4v1.4h-1.4zM74.0 103.0h1.4v1.4h-1.4zM65.7 112.9h1.4v1.4h-1.4zM46.5 102.5h1.4v1.4h-1.4zM39.7 99.5h1.4v1.4h-1.4zM72.9 103.7h1.4v1.4h-1.4zM48.3 108.7h1.4v1.4h-1.4zM51.7 103.2h1.4v1.4h-1.4zM62.2 106.1h1.4v1.4h-1.4zM61.7 104.2h1.4v1.4h-1.4zM62.0 102.4h1.4v1.4h-1.4zM52.7 104.1h1.4v1.4h-1.4zM65.7 101.8h1.4v1.4h-1.4zM47.1 101.9h1.4v1.4h-1.4zM40.4 105.2h1.4v1.4h-1.4zM72.8 105.4h1.4v1.4h-1.4zM69.6 106.7h1.4v1.4h-1.4zM63.2 104.3h1.4v1.4h-1.4zM35.7 98.4h1.4v1.4h-1.4zM29.6 105.8h1.4v1.4h-1.4zM73.4 102.6h1.4v1.4h-1.4zM74.4 102.7h1.4v1.4h-1.4zM40.9 98.2h1.4v1.4h-1.4zM58.8 101.6h1.4v1.4h-1.4zM28.2 101.0h1.4v1.4h-1.4zM47.0 103.7h1.4v1.4h-1.4zM62.5 98.3h1.4v1.4h-1.4zM45.4 104.0h1.4v1.4h-1.4zM67.7 104.3h1.4v1.4h-1.4zM72.9 99.5h1.4v1.4h-1.4zM34.2 101.4h1.4v1.4h-1.4zM61.7 100.5h1.4v1.4h-1.4zM46.1 107.2h1.4v1.4h-1.4zM36.0 94.2h1.4v1.4h-1.4zM44.8 102.5h1.4v1.4h-1.4zM51.4 97.5h1.4v1.4h-1.4zM72.1 102.2h1.4v1.4h-1.4zM65.6 107.0h1.4v1.4h-1.4zM27.6 101.4h1.4v1.4h-1.4zM30.1 104.3h1.4v1.4h-1.4zM77.0 100.6h1.4v1.4h-1.4zM55.1 111.2h1.4v1.4h-1.4zM57.8 107.3h1.4v1.4h-1.4zM44.9 108.1h1.4v1.4h-1.4zM68.9 98.8h1.4v1.4h-1.4zM55.2 99.6h1.4v1.4h-1.4zM56.9 107.9h1.4v1.4h-1.4zM39.8 103.1h1.4v1.4h-1.4zM66.1 102.8h1.4v1.4h-1.4zM38.0 105.1h1.4v1.4h-1.4zM34.2 99.0h1.4v1.4h-1.4zM57.2 106.7h1.4v1.4h-1.4zM68.9 103.9h1.4v1.4h-1.4zM42.0 105.6h1.4v1.4h-1.4zM42.4 101.3h1.4v1.4h-1.4zM34.8 105.8h1.4v1.4h-1.4zM57.5 101.1h1.4v1.4h-1.4zM65.8 107.4h1.4v1.4h-1.4zM33.6 108.1h1.4v1.4h-1.4zM54.1 107.3h1.4v1.4h-1.4zM54.3 105.8h1.4v1.4h-1.4zM32.6 106.2h1.4v1.4h-1.4zM53.8 93.5h1.4v1.4h-1.4zM40.9 107.0h1.4v1.4h-1.4zM37.3 102.8h1.4v1.4h-1.4zM76.6 104.2h1.4v1.4h-1.4zM31.8 102.7h1.4v1.4h-1.4zM44.5 98.5h1.4v1.4h-1.4zM58.2 101.8h1.4v1.4h-1.4zM47.5 106.3h1.4v1.4h-1.4zM28.2 109.2h1.4v1.4h-1.4zM70.6 101.4h1.4v1.4h-1.4zM39.3 100.4h1.4v1.4h-1.4zM47.9 109.3h1.4v1.4h-1.4zM72.7 100.4h1.4v1.4h-1.4zM75.8 111.7h1.4v1.4h-1.4zM73.0 104.0h1.4v1.4h-1.4zM47.9 100.4h1.4v1.4h-1.4zM64.5 107.5h1.4v1.4h-1.4zM69.7 110.2h1.4v1.4h-1.4zM37.2 98.3h1.4v1.4h-1.4zM75.8 109.7h1.4v1.4h-1.4zM32.4 102.7h1.4v1.4h-1.4zM60.2 109.4h1.4v1.4h-1.4zM39.3 102.4h1.4v1.4h-1.4zM79.0 104.9h1.4v1.4h-1.4zM90.6 105.4h1.4v1.4h-1.4zM93.0 95.6h1.4v1.4h-1.4zM99.5 101.1h1.4v1.4h-1.4zM97.5 96.4h1.4v1.4h-1.4zM91.7 102.1h1.4v1.4h-1.4zM86.5 98.6h1.4v1.4h-1.4zM84.9 107.5h1.4v1.4h-1.4zM86.1 103.8h1.4v1.4h-1.4zM83.1 98.0h1.4v1.4h-1.4zM86.3 101.5h1.4v1.4h-1.4zM73.6 96.2h1.4v1.4h-1.4zM88.8 101.7h1.4v1.4h-1.4zM87.6 104.0h1.4v1.4h-1.4zM102.2 102.7h1.4v1.4h-1.4zM92.0 93.1h1.4v1.4h-1.4zM85.1 100.1h1.4v1.4h-1.4zM91.0 103.8h1.4v1.4h-1.4zM80.9 102.9h1.4v1.4h-1.4zM84.4 106.6h1.4v1.4h-1.4zM77.3 95.9h1.4v1.4h-1.4zM95.8 103.9h1.4v1.4h-1.4zM91.1 98.7h1.4v1.4h-1.4zM81.2 102.4h1.4v1.4h-1.4zM87.5 103.3h1.4v1.4h-1.4zM93.1 104.6h1.4v1.4h-1.4zM90.6 99.0h1.4v1.4h-1.4zM89.9 102.4h1.4v1.4h-1.4zM83.0 96.4h1.4v1.4h-1.4zM84.2 95.3h1.4v1.4h-1.4zM88.3 104.0h1.4v1.4h-1.4zM93.0 101.3h1.4v1.4h-1.4zM83.2 94.4h1.4v1.4h-1.4zM81.5 97.8h1.4v1.4h-1.4zM94.2 101.6h1.4v1.4h-1.4zM82.6 108.4h1.4v1.4h-1.4zM93.8 106.1h1.4v1.4h-1.4zM89.2 105.1h1.4v1.4h-1.4zM92.7 93.7h1.4v1.4h-1.4zM97.6 101.1h1.4v1.4h-1.4zM91.7 103.6h1.4v1.4h-1.4zM92.1 103.3h1.4v1.4h-1.4zM82.7 103.4h1.4v1.4h-1.4zM83.9 100.5h1.4v1.4h-1.4zM91.4 109.3h1.4v1.4h-1.4zM96.4 108.0h1.4v1.4h-1.4zM95.6 101.1h1.4v1.4h-1.4zM100.8 97.2h1.4v1.4h-1.4zM89.5 110.6h1.4v1.4h-1.4zM88.9 99.1h1.4v1.4h-1.4zM93.4 106.8h1.4v1.4h-1.4zM87.9 109.9h1.4v1.4h-1.4zM87.5 97.4h1.4v1.4h-1.4zM81.9 102.8h1.4v1.4h-1.4zM93.4 100.0h1.4v1.4h-1.4zM81.8 103.8h1.4v1.4h-1.4zM90.7 103.0h1.4v1.4h-1.4zM79.9 110.1h1.4v1.4h-1.4zM93.9 104.1h1.4v1.4h-1.4zM82.0 101.5h1.4v1.4h-1.4zM92.5 106.5h1.4v1.4h-1.4zM78.9 100.3h1.4v1.4h-1.4zM85.3 99.9h1.4v1.4h-1.4zM94.4 111.4h1.4v1.4h-1.4zM83.3 97.9h1.4v1.4h-1.4zM88.2 99.4h1.4v1.4h-1.4zM85.1 101.7h1.4v1.4h-1.4zM74.9 96.9h1.4v1.4h-1.4zM89.5 92.3h1.4v1.4h-1.4zM90.2 106.2h1.4v1.4h-1.4zM81.6 98.1h1.4v1.4h-1.4zM91.0 99.2h1.4v1.4h-1.4zM83.3 99.9h1.4v1.4h-1.4zM82.2 97.2h1.4v1.4h-1.4zM87.8 96.8h1.4v1.4h-1.4zM84.0 102.2h1.4v1.4h-1.4zM100.6 112.1h1.4v1.4h-1.4zM79.1 104.8h1.4v1.4h-1.4zM91.9 104.8h1.4v1.4h-1.4zM93.3 94.9h1.4v1.4h-1.4zM76.7 101.4h1.4v1.4h-1.4zM78.1 96.3h1.4v1.4h-1.4zM90.9 104.9h1.4v1.4h-1.4zM85.1 100.5h1.4v1.4h-1.4zM89.9 101.7h1.4v1.4h-1.4zM94.2 101.2h1.4v1.4h-1.4zM85.7 99.0h1.4v1.4h-1.4zM81.8 94.8h1.4v1.4h-1.4zM72.5 104.1h1.4v1.4h-1.4zM88.9 95.5h1.4v1.4h-1.4zM82.6 96.3h1.4v1.4h-1.4zM89.6 100.2h1.4v1.4h-1.4zM89.1 98.4h1.4v1.4h-1.4zM80.0 102.7h1.4v1.4h-1.4zM97.5 106.0h1.4v1.4h-1.4zM93.9 102.6h1.4v1.4h-1.4zM92.6 102.4h1.4v1.4h-1.4zM81.2 101.6h1.4v1.4h-1.4zM85.5 105.3h1.4v1.4h-1.4zM84.7 93.4h1.4v1.4h-1.4zM85.5 103.2h1.4v1.4h-1.4zM81.5 97.4h1.4v1.4h-1.4zM90.2 96.1h1.4v1.4h-1.4zM89.1 101.6h1.4v1.4h-1.4zM89.8 99.8h1.4v1.4h-1.4zM85.0 104.1h1.4v1.4h-1.4zM95.0 106.4h1.4v1.4h-1.4zM88.9 91.3h1.4v1.4h-1.4zM72.5 101.2h1.4v1.4h-1.4zM84.2 110.2h1.4v1.4h-1.4zM87.5 105.4h1.4v1.4h-1.4zM93.2 107.9h1.4v1.4h-1.4zM86.1 102.0h1.4v1.4h-1.4zM86.4 95.2h1.4v1.4h-1.4zM84.1 96.6h1.4v1.4h-1.4zM91.5 104.7h1.4v1.4h-1.4zM85.3 105.8h1.4v1.4h-1.4zM84.4 98.3h1.4v1.4h-1.4zM83.6 100.4h1.4v1.4h-1.4zM90.9 102.7h1.4v1.4h-1.4zM84.8 93.8h1.4v1.4h-1.4zM78.4 100.0h1.4v1.4h-1.4zM91.3 108.7h1.4v1.4h-1.4zM83.9 111.2h1.4v1.4h-1.4zM89.8 101.1h1.4v1.4h-1.4zM89.9 109.6h1.4v1.4h-1.4zM94.5 99.2h1.4v1.4h-1.4zM93.6 98.0h1.4v1.4h-1.4zM84.6 91.7h1.4v1.4h-1.4zM86.9 105.8h1.4v1.4h-1.4zM80.6 99.9h1.4v1.4h-1.4zM97.2 111.8h1.4v1.4h-1.4zM90.3 103.0h1.4v1.4h-1.4zM95.6 102.4h1.4v1.4h-1.4zM86.0 93.6h1.4v1.4h-1.4zM76.3 108.1h1.4v1.4h-1.4zM96.4 99.9h1.4v1.4h-1.4zM88.3 100.8h1.4v1.4h-1.4zM88.5 91.8h1.4v1.4h-1.4zM88.1 105.6h1.4v1.4h-1.4zM91.4 105.9h1.4v1.4h-1.4zM90.8 98.9h1.4v1.4h-1.4zM78.9 102.0h1.4v1.4h-1.4zM93.9 103.3h1.4v1.4h-1.4zM84.8 105.8h1.4v1.4h-1.4zM85.2 102.0h1.4v1.4h-1.4zM97.5 109.1h1.4v1.4h-1.4zM93.0 100.5h1.4v1.4h-1.4zM85.9 98.9h1.4v1.4h-1.4zM77.4 99.5h1.4v1.4h-1.4zM88.7 90.4h1.4v1.4h-1.4zM90.8 98.0h1.4v1.4h-1.4zM87.3 106.0h1.4v1.4h-1.4zM80.8 102.7h1.4v1.4h-1.4zM83.4 98.0h1.4v1.4h-1.4zM80.8 103.1h1.4v1.4h-1.4zM89.0 92.7h1.4v1.4h-1.4zM92.4 100.3h1.4v1.4h-1.4zM93.5 103.9h1.4v1.4h-1.4zM83.7 104.6h1.4v1.4h-1.4zM89.1 98.2h1.4v1.4h-1.4zM90.9 105.6h1.4v1.4h-1.4zM84.9 109.8h1.4v1.4h-1.4zM87.0 99.7h1.4v1.4h-1.4zM99.7 104.8h1.4v1.4h-1.4zM88.9 94.7h1.4v1.4h-1.4zM92.7 92.9h1.4v1.4h-1.4zM85.4 104.3h1.4v1.4h-1.4zM88.0 101.8h1.4v1.4h-1.4zM78.2 102.4h1.4v1.4h-1.4zM87.7 99.0h1.4v1.4h-1.4zM94.5 100.3h1.4v1.4h-1.4zM99.6 105.1h1.4v1.4h-1.4zM94.5 109.1h1.4v1.4h-1.4zM91.6 100.6h1.4v1.4h-1.4zM88.1 94.3h1.4v1.4h-1.4zM84.4 107.2h1.4v1.4h-1.4zM86.9 104.2h1.4v1.4h-1.4zM91.2 104.6h1.4v1.4h-1.4zM83.4 102.4h1.4v1.4h-1.4zM93.0 111.8h1.4v1.4h-1.4zM82.3 101.9h1.4v1.4h-1.4zM77.8 103.8h1.4v1.4h-1.4zM82.1 93.4h1.4v1.4h-1.4zM78.5 99.0h1.4v1.4h-1.4zM80.1 98.6h1.4v1.4h-1.4zM94.1 101.4h1.4v1.4h-1.4zM86.7 103.1h1.4v1.4h-1.4zM89.0 98.3h1.4v1.4h-1.4zM94.3 109.2h1.4v1.4h-1.4zM94.9 96.9h1.4v1.4h-1.4zM85.0 99.6h1.4v1.4h-1.4zM95.2 102.6h1.4v1.4h-1.4zM90.0 96.1h1.4v1.4h-1.4zM87.8 104.1h1.4v1.4h-1.4zM90.3 104.4h1.4v1.4h-1.4zM79.8 100.3h1.4v1.4h-1.4zM83.4 110.0h1.4v1.4h-1.4zM87.2 101.9h1.4v1.4h-1.4zM91.2 102.8h1.4v1.4h-1.4zM85.7 97.3h1.4v1.4h-1.4zM87.1 94.2h1.4v1.4h-1.4zM93.2 98.8h1.4v1.4h-1.4zM95.7 100.2h1.4v1.4h-1.4zM92.1 99.6h1.4v1.4h-1.4zM94.9 105.0h1.4v1.4h-1.4zM85.5 91.1h1.4v1.4h-1.4zM86.1 96.6h1.4v1.4h-1.4zM89.6 93.5h1.4v1.4h-1.4zM86.1 107.5h1.4v1.4h-1.4zM85.0 99.1h1.4v1.4h-1.4zM97.1 99.3h1.4v1.4h-1.4zM86.7 96.7h1.4v1.4h-1.4zM82.4 105.5h1.4v1.4h-1.4zM90.5 99.8h1.4v1.4h-1.4zM98.1 102.6h1.4v1.4h-1.4zM88.3 92.6h1.4v1.4h-1.4zM94.7 106.7h1.4v1.4h-1.4zM85.3 103.3h1.4v1.4h-1.4zM85.0 104.0h1.4v1.4h-1.4zM83.9 107.0h1.4v1.4h-1.4zM87.0 100.7h1.4v1.4h-1.4zM98.1 100.8h1.4v1.4h-1.4zM81.3 104.7h1.4v1.4h-1.4zM97.0 103.5h1.4v1.4h-1.4zM82.2 100.5h1.4v1.4h-1.4zM86.5 101.8h1.4v1.4h-1.4zM92.5 99.4h1.4v1.4h-1.4zM91.3 104.7h1.4v1.4h-1.4zM89.4 105.7h1.4v1.4h-1.4zM78.6 101.6h1.4v1.4h-1.4zM89.8 109.9h1.4v1.4h-1.4zM82.1 94.8h1.4v1.4h-1.4zM102.2 100.6h1.4v1.4h-1.4zM86.6 109.1h1.4v1.4h-1.4zM88.9 99.7h1.4v1.4h-1.4zM81.4 94.5h1.4v1.4h-1.4zM85.1 107.7h1.4v1.4h-1.4zM80.6 104.0h1.4v1.4h-1.4zM93.3 96.3h1.4v1.4h-1.4zM86.3 105.0h1.4v1.4h-1.4zM91.0 97.1h1.4v1.4h-1.4zM84.0 95.7h1.4v1.4h-1.4zM85.0 100.9h1.4v1.4h-1.4zM95.0 99.5h1.4v1.4h-1.4zM82.4 96.7h1.4v1.4h-1.4zM77.7 100.0h1.4v1.4h-1.4zM90.1 97.2h1.4v1.4h-1.4zM81.4 101.9h1.4v1.4h-1.4zM85.3 101.5h1.4v1.4h-1.4zM92.9 104.9h1.4v1.4h-1.4zM83.2 99.6h1.4v1.4h-1.4zM92.7 95.7h1.4v1.4h-1.4zM84.0 95.8h1.4v1.4h-1.4zM96.1 100.5h1.4v1.4h-1.4zM95.2 108.4h1.4v1.4h-1.4zM85.2 105.3h1.4v1.4h-1.4zM86.6 98.8h1.4v1.4h-1.4zM83.1 105.7h1.4v1.4h-1.4zM88.9 96.5h1.4v1.4h-1.4zM94.2 106.1h1.4v1.4h-1.4zM79.7 99.9h1.4v1.4h-1.4zM92.9 105.0h1.4v1.4h-1.4zM80.4 104.3h1.4v1.4h-1.4zM83.0 100.4h1.4v1.4h-1.4zM77.8 103.0h1.4v1.4h-1.4zM99.6 96.9h1.4v1.4h-1.4zM88.1 101.3h1.4v1.4h-1.4zM89.2 106.4h1.4v1.4h-1.4zM93.8 104.7h1.4v1.4h-1.4zM76.0 102.0h1.4v1.4h-1.4zM87.9 97.1h1.4v1.4h-1.4zM100.2 106.3h1.4v1.4h-1.4zM85.7 94.3h1.4v1.4h-1.4zM87.9 98.1h1.4v1.4h-1.4zM91.6 103.2h1.4v1.4h-1.4zM83.3 96.3h1.4v1.4h-1.4zM87.9 108.4h1.4v1.4h-1.4zM93.2 106.4h1.4v1.4h-1.4zM88.9 99.1h1.4v1.4h-1.4zM89.9 99.1h1.4v1.4h-1.4zM85.8 95.8h1.4v1.4h-1.4zM89.6 95.4h1.4v1.4h-1.4zM88.1 103.6h1.4v1.4h-1.4zM95.9 104.3h1.4v1.4h-1.4zM91.9 103.1h1.4v1.4h-1.4zM86.4 102.8h1.4v1.4h-1.4zM74.1 99.1h1.4v1.4h-1.4zM91.8 103.2h1.4v1.4h-1.4zM92.0 95.1h1.4v1.4h-1.4zM82.7 101.6h1.4v1.4h-1.4zM76.6 108.1h1.4v1.4h-1.4zM81.4 107.4h1.4v1.4h-1.4zM93.0 99.6h1.4v1.4h-1.4zM81.8 100.1h1.4v1.4h-1.4zM85.2 107.7h1.4v1.4h-1.4zM89.0 109.5h1.4v1.4h-1.4zM94.7 95.0h1.4v1.4h-1.4zM87.7 99.7h1.4v1.4h-1.4zM87.2 102.6h1.4v1.4h-1.4zM84.7 107.0h1.4v1.4h-1.4zM96.9 97.9h1.4v1.4h-1.4zM93.8 104.4h1.4v1.4h-1.4zM87.3 100.3h1.4v1.4h-1.4zM80.0 112.1h1.4v1.4h-1.4zM83.4 103.5h1.4v1.4h-1.4zM91.0 101.0h1.4v1.4h-1.4zM83.8 100.1h1.4v1.4h-1.4zM92.8 106.3h1.4v1.4h-1.4zM89.8 104.6h1.4v1.4h-1.4zM89.4 96.8h1.4v1.4h-1.4zM91.5 102.6h1.4v1.4h-1.4zM90.6 95.7h1.4v1.4h-1.4zM83.0 98.3h1.4v1.4h-1.4zM86.0 95.9h1.4v1.4h-1.4zM100.9 95.7h1.4v1.4h-1.4zM81.0 98.6h1.4v1.4h-1.4zM85.1 97.3h1.4v1.4h-1.4zM93.8 103.9h1.4v1.4h-1.4zM86.9 105.1h1.4v1.4h-1.4zM83.3 100.5h1.4v1.4h-1.4zM80.4 96.7h1.4v1.4h-1.4zM90.8 105.2h1.4v1.4h-1.4zM93.5 92.7h1.4v1.4h-1.4zM95.6 93.1h1.4v1.4h-1.4zM88.1 104.8h1.4v1.4h-1.4zM93.7 104.5h1.4v1.4h-1.4zM82.0 105.9h1.4v1.4h-1.4zM88.7 100.6h1.4v1.4h-1.4zM84.0 96.0h1.4v1.4h-1.4zM88.8 99.4h1.4v1.4h-1.4zM92.0 104.1h1.4v1.4h-1.4zM93.8 98.2h1.4v1.4h-1.4zM82.3 98.5h1.4v1.4h-1.4zM94.9 95.4h1.4v1.4h-1.4zM85.1 96.5h1.4v1.4h-1.4zM82.1 105.3h1.4v1.4h-1.4zM86.8 103.6h1.4v1.4h-1.4zM79.6 96.5h1.4v1.4h-1.4zM87.8 96.8h1.4v1.4h-1.4zM89.4 99.1h1.4v1.4h-1.4zM86.7 104.0h1.4v1.4h-1.4zM90.8 96.4h1.4v1.4h-1.4zM86.0 100.9h1.4v1.4h-1.4zM87.8 92.1h1.4v1.4h-1.4zM79.7 96.0h1.4v1.4h-1.4zM88.0 103.5h1.4v1.4h-1.4zM83.0 105.6h1.4v1.4h-1.4zM85.3 96.5h1.4v1.4h-1.4zM87.3 98.2h1.4v1.4h-1.4zM88.9 105.1h1.4v1.4h-1.4zM78.6 99.9h1.4v1.4h-1.4zM79.0 99.2h1.4v1.4h-1.4zM86.1 103.9h1.4v1.4h-1.4zM90.5 102.5h1.4v1.4h-1.4zM89.8 106.5h1.4v1.4h-1.4zM92.8 105.1h1.4v1.4h-1.4zM95.1 99.1h1.4v1.4h-1.4zM90.6 101.1h1.4v1.4h-1.4zM87.7 101.3h1.4v1.4h-1.4zM82.0 95.6h1.4v1.4h-1.4zM82.5 97.3h1.4v1.4h-1.4zM85.2 105.9h1.4v1.4h-1.4zM89.3 94.6h1.4v1.4h-1.4zM89.0 106.0h1.4v1.4h-1.4zM87.8 102.9h1.4v1.4h-1.4zM86.9 101.0h1.4v1.4h-1.4zM91.3 104.0h1.4v1.4h-1.4zM89.0 103.7h1.4v1.4h-1.4zM89.5 107.0h1.4v1.4h-1.4zM89.5 99.8h1.4v1.4h-1.4zM84.7 100.6h1.4v1.4h-1.4zM82.0 100.5h1.4v1.4h-1.4zM90.6 109.9h1.4v1.4h-1.4zM90.1 105.8h1.4v1.4h-1.4zM86.6 97.5h1.4v1.4h-1.4zM85.5 100.1h1.4v1.4h-1.4zM100.6 98.5h1.4v1.4h-1.4zM83.5 101.7h1.4v1.4h-1.4zM86.6 102.6h1.4v1.4h-1.4zM89.3 111.7h1.4v1.4h-1.4zM81.3 93.6h1.4v1.4h-1.4zM88.5 106.2h1.4v1.4h-1.4zM97.9 103.5h1.4v1.4h-1.4zM93.0 98.5h1.4v1.4h-1.4zM91.3 101.0h1.4v1.4h-1.4zM91.1 99.4h1.4v1.4h-1.4zM88.4 101.8h1.4v1.4h-1.4zM93.2 106.1h1.4v1.4h-1.4zM86.9 94.9h1.4v1.4h-1.4zM85.4 107.4h1.4v1.4h-1.4zM88.4 100.0h1.4v1.4h-1.4zM92.9 108.3h1.4v1.4h-1.4zM89.7 103.4h1.4v1.4h-1.4zM91.6 107.1h1.4v1.4h-1.4zM76.5 104.1h1.4v1.4h-1.4zM94.5 106.4h1.4v1.4h-1.4zM100.9 101.9h1.4v1.4h-1.4zM95.3 98.0h1.4v1.4h-1.4zM86.0 104.6h1.4v1.4h-1.4zM83.0 104.8h1.4v1.4h-1.4zM89.4 110.9h1.4v1.4h-1.4zM82.3 92.8h1.4v1.4h-1.4zM91.9 100.8h1.4v1.4h-1.4zM84.9 106.3h1.4v1.4h-1.4zM93.2 96.1h1.4v1.4h-1.4zM95.4 100.6h1.4v1.4h-1.4zM76.4 111.0h1.4v1.4h-1.4zM89.4 107.9h1.4v1.4h-1.4zM83.9 97.8h1.4v1.4h-1.4zM79.9 107.9h1.4v1.4h-1.4zM84.3 106.9h1.4v1.4h-1.4zM86.6 105.1h1.4v1.4h-1.4zM93.6 103.3h1.4v1.4h-1.4zM79.3 102.7h1.4v1.4h-1.4zM93.7 97.8h1.4v1.4h-1.4zM99.1 99.4h1.4v1.4h-1.4zM91.1 104.9h1.4v1.4h-1.4zM90.9 102.3h1.4v1.4h-1.4zM87.7 109.8h1.4v1.4h-1.4zM81.2 100.2h1.4v1.4h-1.4zM90.8 91.1h1.4v1.4h-1.4zM90.0 100.2h1.4v1.4h-1.4zM91.9 102.9h1.4v1.4h-1.4zM102.2 103.4h1.4v1.4h-1.4zM91.9 102.0h1.4v1.4h-1.4zM90.2 98.0h1.4v1.4h-1.4zM96.5 108.3h1.4v1.4h-1.4zM80.3 98.7h1.4v1.4h-1.4zM81.4 104.8h1.4v1.4h-1.4zM85.7 100.4h1.4v1.4h-1.4zM84.1 96.4h1.4v1.4h-1.4zM91.7 107.9h1.4v1.4h-1.4zM86.0 90.6h1.4v1.4h-1.4zM97.5 97.9h1.4v1.4h-1.4zM96.3 103.6h1.4v1.4h-1.4zM92.1 100.1h1.4v1.4h-1.4zM85.6 105.0h1.4v1.4h-1.4zM91.3 101.2h1.4v1.4h-1.4zM92.3 99.7h1.4v1.4h-1.4zM81.8 111.2h1.4v1.4h-1.4zM89.8 100.7h1.4v1.4h-1.4zM91.8 101.0h1.4v1.4h-1.4zM89.0 96.9h1.4v1.4h-1.4zM96.6 98.4h1.4v1.4h-1.4zM94.6 104.6h1.4v1.4h-1.4zM83.2 104.2h1.4v1.4h-1.4zM88.5 101.7h1.4v1.4h-1.4zM83.1 98.6h1.4v1.4h-1.4zM91.0 104.7h1.4v1.4h-1.4zM82.9 94.2h1.4v1.4h-1.4zM93.0 100.2h1.4v1.4h-1.4zM90.0 100.6h1.4v1.4h-1.4zM93.2 98.0h1.4v1.4h-1.4zM87.0 102.4h1.4v1.4h-1.4zM79.6 98.8h1.4v1.4h-1.4zM97.7 98.2h1.4v1.4h-1.4zM86.8 109.7h1.4v1.4h-1.4zM95.5 105.0h1.4v1.4h-1.4zM90.2 107.0h1.4v1.4h-1.4zM91.6 102.0h1.4v1.4h-1.4zM98.0 106.0h1.4v1.4h-1.4zM89.7 105.2h1.4v1.4h-1.4zM95.6 107.1h1.4v1.4h-1.4zM79.5 112.2h1.4v1.4h-1.4zM92.7 100.7h1.4v1.4h-1.4zM86.4 102.9h1.4v1.4h-1.4zM87.0 101.5h1.4v1.4h-1.4zM87.8 86.3h1.4v1.4h-1.4zM89.7 95.6h1.4v1.4h-1.4zM97.1 101.8h1.4v1.4h-1.4zM77.4 104.5h1.4v1.4h-1.4zM88.0 99.2h1.4v1.4h-1.4zM83.8 106.8h1.4v1.4h-1.4zM94.3 107.4h1.4v1.4h-1.4zM85.4 100.0h1.4v1.4h-1.4zM90.4 108.0h1.4v1.4h-1.4zM85.6 109.5h1.4v1.4h-1.4zM91.5 103.8h1.4v1.4h-1.4zM93.5 97.5h1.4v1.4h-1.4zM85.6 108.2h1.4v1.4h-1.4zM88.1 101.1h1.4v1.4h-1.4zM79.8 100.1h1.4v1.4h-1.4zM89.5 102.3h1.4v1.4h-1.4zM92.6 99.4h1.4v1.4h-1.4zM84.7 106.5h1.4v1.4h-1.4zM94.1 105.2h1.4v1.4h-1.4zM76.2 107.2h1.4v1.4h-1.4zM77.4 104.4h1.4v1.4h-1.4zM80.0 98.3h1.4v1.4h-1.4zM85.1 101.1h1.4v1.4h-1.4zM87.9 105.7h1.4v1.4h-1.4zM87.4 100.0h1.4v1.4h-1.4zM91.9 100.7h1.4v1.4h-1.4zM85.2 99.2h1.4v1.4h-1.4zM80.7 106.9h1.4v1.4h-1.4zM80.8 105.1h1.4v1.4h-1.4zM99.6 101.7h1.4v1.4h-1.4zM74.6 100.8h1.4v1.4h-1.4zM86.8 103.7h1.4v1.4h-1.4zM96.0 105.5h1.4v1.4h-1.4zM90.5 105.2h1.4v1.4h-1.4zM83.2 100.5h1.4v1.4h-1.4zM87.8 103.7h1.4v1.4h-1.4zM92.6 105.5h1.4v1.4h-1.4zM94.6 105.2h1.4v1.4h-1.4zM82.8 88.2h1.4v1.4h-1.4zM92.1 97.9h1.4v1.4h-1.4zM89.2 98.4h1.4v1.4h-1.4zM94.0 100.8h1.4v1.4h-1.4zM95.6 102.6h1.4v1.4h-1.4zM85.9 105.9h1.4v1.4h-1.4zM79.7 104.5h1.4v1.4h-1.4zM90.0 101.2h1.4v1.4h-1.4zM97.7 101.9h1.4v1.4h-1.4zM91.6 109.5h1.4v1.4h-1.4zM89.1 99.1h1.4v1.4h-1.4zM101.2 103.1h1.4v1.4h-1.4zM82.0 108.7h1.4v1.4h-1.4zM92.9 103.3h1.4v1.4h-1.4zM84.6 92.8h1.4v1.4h-1.4zM88.1 103.4h1.4v1.4h-1.4zM88.3 100.1h1.4v1.4h-1.4zM96.3 101.3h1.4v1.4h-1.4zM82.6 106.4h1.4v1.4h-1.4zM84.8 103.9h1.4v1.4h-1.4zM78.9 100.6h1.4v1.4h-1.4zM90.5 105.7h1.4v1.4h-1.4zM85.2 103.7h1.4v1.4h-1.4zM90.2 102.3h1.4v1.4h-1.4zM81.8 103.1h1.4v1.4h-1.4zM85.8 102.9h1.4v1.4h-1.4zM93.6 100.3h1.4v1.4h-1.4zM86.8 99.8h1.4v1.4h-1.4zM91.3 101.9h1.4v1.4h-1.4zM90.8 97.6h1.4v1.4h-1.4zM85.8 96.3h1.4v1.4h-1.4zM79.1 107.5h1.4v1.4h-1.4zM93.3 100.7h1.4v1.4h-1.4zM88.8 101.7h1.4v1.4h-1.4zM93.3 101.2h1.4v1.4h-1.4zM76.5 101.9h1.4v1.4h-1.4zM78.5 101.9h1.4v1.4h-1.4zM75.8 102.1h1.4v1.4h-1.4zM82.9 98.3h1.4v1.4h-1.4zM93.6 105.9h1.4v1.4h-1.4zM91.0 98.8h1.4v1.4h-1.4zM87.6 106.4h1.4v1.4h-1.4zM88.5 93.4h1.4v1.4h-1.4zM92.1 97.1h1.4v1.4h-1.4zM86.1 106.2h1.4v1.4h-1.4zM90.0 101.1h1.4v1.4h-1.4zM88.6 98.8h1.4v1.4h-1.4zM75.6 103.5h1.4v1.4h-1.4zM85.6 97.2h1.4v1.4h-1.4zM95.4 102.1h1.4v1.4h-1.4zM85.6 92.1h1.4v1.4h-1.4zM87.0 99.8h1.4v1.4h-1.4zM84.4 98.9h1.4v1.4h-1.4zM85.1 104.2h1.4v1.4h-1.4zM94.1 105.7h1.4v1.4h-1.4zM86.3 98.0h1.4v1.4h-1.4zM82.1 108.9h1.4v1.4h-1.4zM70.4 99.2h1.4v1.4h-1.4zM84.6 92.8h1.4v1.4h-1.4zM76.8 91.3h1.4v1.4h-1.4zM77.6 108.6h1.4v1.4h-1.4zM92.3 101.4h1.4v1.4h-1.4zM91.8 99.0h1.4v1.4h-1.4zM77.1 98.5h1.4v1.4h-1.4zM92.6 97.0h1.4v1.4h-1.4zM90.4 107.7h1.4v1.4h-1.4zM83.4 101.4h1.4v1.4h-1.4zM91.9 109.7h1.4v1.4h-1.4zM78.7 100.9h1.4v1.4h-1.4zM81.1 91.5h1.4v1.4h-1.4zM79.7 105.5h1.4v1.4h-1.4zM81.6 100.2h1.4v1.4h-1.4zM92.7 100.8h1.4v1.4h-1.4zM80.3 108.7h1.4v1.4h-1.4zM81.4 100.6h1.4v1.4h-1.4zM82.5 106.9h1.4v1.4h-1.4zM88.9 101.8h1.4v1.4h-1.4zM85.9 98.5h1.4v1.4h-1.4zM92.6 104.0h1.4v1.4h-1.4zM83.8 99.2h1.4v1.4h-1.4zM80.6 107.2h1.4v1.4h-1.4zM85.0 106.0h1.4v1.4h-1.4zM88.0 102.1h1.4v1.4h-1.4zM82.6 104.5h1.4v1.4h-1.4zM89.3 104.3h1.4v1.4h-1.4zM97.9 100.6h1.4v1.4h-1.4zM84.5 105.7h1.4v1.4h-1.4zM88.0 100.8h1.4v1.4h-1.4zM95.3 104.5h1.4v1.4h-1.4zM84.1 97.6h1.4v1.4h-1.4zM83.0 102.2h1.4v1.4h-1.4zM81.6 103.6h1.4v1.4h-1.4zM90.0 98.3h1.4v1.4h-1.4zM90.6 100.0h1.4v1.4h-1.4zM86.9 99.5h1.4v1.4h-1.4zM87.9 105.0h1.4v1.4h-1.4zM94.8 98.6h1.4v1.4h-1.4zM92.6 103.7h1.4v1.4h-1.4zM79.8 108.5h1.4v1.4h-1.4zM87.6 103.4h1.4v1.4h-1.4zM88.3 94.7h1.4v1.4h-1.4zM91.7 102.4h1.4v1.4h-1.4zM86.4 106.4h1.4v1.4h-1.4zM84.1 100.6h1.4v1.4h-1.4zM85.1 106.7h1.4v1.4h-1.4zM77.7 104.5h1.4v1.4h-1.4zM87.5 103.7h1.4v1.4h-1.4zM84.3 100.7h1.4v1.4h-1.4zM90.3 99.6h1.4v1.4h-1.4zM81.9 100.7h1.4v1.4h-1.4zM85.2 102.1h1.4v1.4h-1.4zM82.1 104.1h1.4v1.4h-1.4zM81.7 103.7h1.4v1.4h-1.4zM91.5 100.5h1.4v1.4h-1.4zM85.0 102.1h1.4v1.4h-1.4zM90.1 103.6h1.4v1.4h-1.4zM81.3 94.7h1.4v1.4h-1.4zM88.1 98.5h1.4v1.4h-1.4zM78.1 98.3h1.4v1.4h-1.4zM84.9 101.0h1.4v1.4h-1.4zM84.8 100.6h1.4v1.4h-1.4zM90.8 100.7h1.4v1.4h-1.4zM88.6 98.0h1.4v1.4h-1.4zM86.6 104.8h1.4v1.4h-1.4zM92.3 103.1h1.4v1.4h-1.4zM88.6 94.6h1.4v1.4h-1.4zM90.6 101.9h1.4v1.4h-1.4zM91.9 96.9h1.4v1.4h-1.4zM87.2 109.4h1.4v1.4h-1.4zM85.9 99.9h1.4v1.4h-1.4zM89.4 100.1h1.4v1.4h-1.4zM85.2 102.2h1.4v1.4h-1.4zM89.7 101.0h1.4v1.4h-1.4zM93.8 101.6h1.4v1.4h-1.4zM92.3 108.7h1.4v1.4h-1.4zM85.4 102.9h1.4v1.4h-1.4zM80.4 105.5h1.4v1.4h-1.4zM87.2 106.8h1.4v1.4h-1.4zM86.8 97.6h1.4v1.4h-1.4zM93.7 109.3h1.4v1.4h-1.4zM85.4 104.9h1.4v1.4h-1.4zM86.4 106.1h1.4v1.4h-1.4zM91.7 98.1h1.4v1.4h-1.4zM84.9 105.5h1.4v1.4h-1.4zM86.6 103.7h1.4v1.4h-1.4zM97.1 99.5h1.4v1.4h-1.4zM95.9 111.9h1.4v1.4h-1.4zM91.1 104.4h1.4v1.4h-1.4zM89.0 100.8h1.4v1.4h-1.4zM82.1 102.7h1.4v1.4h-1.4zM90.7 105.9h1.4v1.4h-1.4zM87.9 106.9h1.4v1.4h-1.4zM88.8 104.4h1.4v1.4h-1.4zM84.6 107.2h1.4v1.4h-1.4zM87.5 108.4h1.4v1.4h-1.4zM86.5 96.5h1.4v1.4h-1.4zM89.3 99.7h1.4v1.4h-1.4zM95.5 97.8h1.4v1.4h-1.4zM89.6 102.3h1.4v1.4h-1.4zM78.3 108.2h1.4v1.4h-1.4zM82.1 104.8h1.4v1.4h-1.4zM78.7 97.3h1.4v1.4h-1.4zM83.1 100.6h1.4v1.4h-1.4zM90.7 106.4h1.4v1.4h-1.4zM89.8 99.5h1.4v1.4h-1.4zM84.2 101.5h1.4v1.4h-1.4zM89.0 103.2h1.4v1.4h-1.4zM83.3 93.9h1.4v1.4h-1.4zM79.6 105.3h1.4v1.4h-1.4zM79.7 103.4h1.4v1.4h-1.4zM82.7 104.4h1.4v1.4h-1.4zM95.5 97.6h1.4v1.4h-1.4zM80.0 98.5h1.4v1.4h-1.4zM94.5 99.3h1.4v1.4h-1.4zM94.9 103.0h1.4v1.4h-1.4zM86.5 102.2h1.4v1.4h-1.4zM87.3 102.5h1.4v1.4h-1.4zM84.1 109.8h1.4v1.4h-1.4zM87.4 107.6h1.4v1.4h-1.4zM91.2 98.7h1.4v1.4h-1.4zM87.6 99.0h1.4v1.4h-1.4zM93.1 109.4h1.4v1.4h-1.4zM94.1 100.5h1.4v1.4h-1.4zM89.4 108.0h1.4v1.4h-1.4zM89.3 108.9h1.4v1.4h-1.4zM87.2 99.5h1.4v1.4h-1.4zM89.4 100.7h1.4v1.4h-1.4zM81.3 102.3h1.4v1.4h-1.4zM89.8 98.1h1.4v1.4h-1.4zM88.7 97.6h1.4v1.4h-1.4zM82.7 100.1h1.4v1.4h-1.4zM99.5 105.6h1.4v1.4h-1.4zM82.1 99.9h1.4v1.4h-1.4zM82.7 101.0h1.4v1.4h-1.4zM89.1 99.8h1.4v1.4h-1.4zM76.7 95.9h1.4v1.4h-1.4zM83.1 108.4h1.4v1.4h-1.4zM79.0 91.6h1.4v1.4h-1.4zM82.1 99.0h1.4v1.4h-1.4zM86.8 104.3h1.4v1.4h-1.4zM89.3 95.7h1.4v1.4h-1.4zM93.7 104.5h1.4v1.4h-1.4zM92.0 107.4h1.4v1.4h-1.4zM94.1 98.1h1.4v1.4h-1.4zM90.8 102.8h1.4v1.4h-1.4zM84.9 97.0h1.4v1.4h-1.4zM93.7 104.1h1.4v1.4h-1.4zM84.8 102.3h1.4v1.4h-1.4zM84.1 102.8h1.4v1.4h-1.4zM96.0 107.9h1.4v1.4h-1.4zM91.9 104.0h1.4v1.4h-1.4zM88.7 107.8h1.4v1.4h-1.4zM76.8 73.1h1.4v1.4h-1.4zM99.8 67.6h1.4v1.4h-1.4zM75.7 80.1h1.4v1.4h-1.4zM92.5 84.2h1.4v1.4h-1.4zM96.4 71.2h1.4v1.4h-1.4zM82.7 79.0h1.4v1.4h-1.4zM75.5 77.7h1.4v1.4h-1.4zM76.2 70.3h1.4v1.4h-1.4zM76.8 69.3h1.4v1.4h-1.4zM94.2 78.5h1.4v1.4h-1.4zM88.5 58.1h1.4v1.4h-1.4zM97.7 75.7h1.4v1.4h-1.4zM91.1 90.1h1.4v1.4h-1.4zM90.2 69.6h1.4v1.4h-1.4zM80.3 45.8h1.4v1.4h-1.4zM80.9 85.0h1.4v1.4h-1.4zM99.8 60.1h1.4v1.4h-1.4zM99.1 86.1h1.4v1.4h-1.4zM86.2 82.4h1.4v1.4h-1.4zM95.2 89.2h1.4v1.4h-1.4zM93.3 92.3h1.4v1.4h-1.4zM82.2 88.3h1.4v1.4h-1.4zM80.3 70.4h1.4v1.4h-1.4zM94.0 47.0h1.4v1.4h-1.4zM99.4 77.7h1.4v1.4h-1.4zM99.9 67.8h1.4v1.4h-1.4zM84.2 82.7h1.4v1.4h-1.4zM76.9 83.4h1.4v1.4h-1.4zM83.3 76.5h1.4v1.4h-1.4zM77.0 87.5h1.4v1.4h-1.4zM100.0 57.1h1.4v1.4h-1.4zM83.0 92.1h1.4v1.4h-1.4zM96.5 80.1h1.4v1.4h-1.4zM81.5 77.3h1.4v1.4h-1.4zM99.3 78.8h1.4v1.4h-1.4zM87.5 85.5h1.4v1.4h-1.4zM96.1 81.8h1.4v1.4h-1.4zM90.3 64.0h1.4v1.4h-1.4zM94.5 79.2h1.4v1.4h-1.4zM77.1 62.6h1.4v1.4h-1.4zM77.5 34.0h1.4v1.4h-1.4zM84.2 36.2h1.4v1.4h-1.4zM97.2 77.6h1.4v1.4h-1.4zM98.0 89.2h1.4v1.4h-1.4zM93.1 70.0h1.4v1.4h-1.4zM90.3 85.1h1.4v1.4h-1.4zM76.5 78.6h1.4v1.4h-1.4zM98.5 78.9h1.4v1.4h-1.4zM91.8 89.9h1.4v1.4h-1.4zM90.7 57.1h1.4v1.4h-1.4zM96.4 91.9h1.4v1.4h-1.4zM81.2 82.8h1.4v1.4h-1.4zM90.8 83.2h1.4v1.4h-1.4zM92.4 92.0h1.4v1.4h-1.4zM94.2 87.8h1.4v1.4h-1.4zM77.7 60.2h1.4v1.4h-1.4zM93.5 71.8h1.4v1.4h-1.4zM97.9 92.1h1.4v1.4h-1.4zM91.0 82.6h1.4v1.4h-1.4zM79.5 75.8h1.4v1.4h-1.4zM98.3 87.9h1.4v1.4h-1.4zM77.9 86.0h1.4v1.4h-1.4zM81.1 90.2h1.4v1.4h-1.4zM96.7 88.7h1.4v1.4h-1.4zM90.0 66.8h1.4v1.4h-1.4zM83.7 81.1h1.4v1.4h-1.4zM95.4 81.9h1.4v1.4h-1.4zM91.5 88.1h1.4v1.4h-1.4zM78.3 79.9h1.4v1.4h-1.4zM81.1 89.5h1.4v1.4h-1.4zM95.6 83.7h1.4v1.4h-1.4zM95.6 67.0h1.4v1.4h-1.4zM77.2 89.2h1.4v1.4h-1.4zM88.3 79.8h1.4v1.4h-1.4zM93.1 92.1h1.4v1.4h-1.4zM83.4 70.6h1.4v1.4h-1.4zM76.9 85.2h1.4v1.4h-1.4zM85.7 72.0h1.4v1.4h-1.4zM98.7 89.9h1.4v1.4h-1.4zM93.6 91.0h1.4v1.4h-1.4zM80.6 36.1h1.4v1.4h-1.4zM96.4 62.5h1.4v1.4h-1.4zM92.0 85.5h1.4v1.4h-1.4zM82.6 78.4h1.4v1.4h-1.4zM82.0 88.5h1.4v1.4h-1.4zM79.7 81.2h1.4v1.4h-1.4zM85.4 67.5h1.4v1.4h-1.4zM84.3 76.6h1.4v1.4h-1.4zM82.4 79.0h1.4v1.4h-1.4zM97.1 45.8h1.4v1.4h-1.4zM94.3 84.3h1.4v1.4h-1.4zM87.6 88.8h1.4v1.4h-1.4zM99.4 91.3h1.4v1.4h-1.4zM92.1 75.6h1.4v1.4h-1.4zM99.1 84.8h1.4v1.4h-1.4zM95.9 63.9h1.4v1.4h-1.4zM91.2 90.1h1.4v1.4h-1.4zM92.6 47.8h1.4v1.4h-1.4zM94.7 84.4h1.4v1.4h-1.4zM94.2 64.5h1.4v1.4h-1.4zM97.1 89.9h1.4v1.4h-1.4zM83.8 86.6h1.4v1.4h-1.4zM84.4 88.9h1.4v1.4h-1.4zM81.5 79.4h1.4v1.4h-1.4zM98.3 70.5h1.4v1.4h-1.4zM79.7 35.8h1.4v1.4h-1.4zM79.5 40.6h1.4v1.4h-1.4zM106.3 56.0h1.4v1.4h-1.4zM100.3 71.3h1.4v1.4h-1.4zM98.3 78.3h1.4v1.4h-1.4z" fill="#0000ff"/>
<path d="M45.0 61.5h1.7v1.7h-1.7zM37.1 76.0h1.7v1.7h-1.7zM43.2 64.5h1.7v1.7h-1.7zM49.0 79.3h1.7v1.7h-1.7zM39.5 67.5h1.7v1.7h-1.7zM41.1 53.6h1.7v1.7h-1.7zM54.9 57.8h1.7v1.7h-1.7zM53.4 48.8h1.7v1.7h-1.7zM37.2 46.8h1.7v1.7h-1.7zM38.7 66.8h1.7v1.7h-1.7zM48.2 72.8h1.7v1.7h-1.7zM39.6 83.7h1.7v1.7h-1.7zM44.8 63.6h1.7v1.7h-1.7zM43.7 61.8h1.7v1.7h-1.7zM49.2 53.1h1.7v1.7h-1.7zM32.2 74.0h1.7v1.7h-1.7zM34.0 68.0h1.7v1.7h-1.7zM39.4 58.2h1.7v1.7h-1.7zM51.7 71.0h1.7v1.7h-1.7zM45.3 69.8h1.7v1.7h-1.7zM36.8 45.5h1.7v1.7h-1.7zM48.9 71.6h1.7v1.7h-1.7zM50.0 65.5h1.7v1.7h-1.7zM44.8 60.2h1.7v1.7h-1.7zM44.3 60.0h1.7v1.7h-1.7zM48.6 81.6h1.7v1.7h-1.7zM52.8 79.5h1.7v1.7h-1.7zM47.0 82.4h1.7v1.7h-1.7zM49.1 52.7h1.7v1.7h-1.7zM45.9 57.6h1.7v1.7h-1.7zM44.1 73.2h1.7v1.7h-1.7zM41.1 52.1h1.7v1.7h-1.7zM47.6 56.9h1.7v1.7h-1.7zM44.5 46.1h1.7v1.7h-1.7zM44.8 82.7h1.7v1.7h-1.7zM51.3 74.8h1.7v1.7h-1.7zM48.8 68.7h1.7v1.7h-1.7zM50.9 66.3h1.7v1.7h-1.7zM37.5 60.0h1.7v1.7h-1.7zM49.2 60.2h1.7v1.7h-1.7zM42.9 70.3h1.7v1.7h-1.7zM41.7 57.0h1.7v1.7h-1.7zM41.5 76.4h1.7v1.7h-1.7zM52.8 59.2h1.7v1.7h-1.7zM50.7 55.4h1.7v1.7h-1.7zM42.2 77.1h1.7v1.7h-1.7zM39.9 62.7h1.7v1.7h-1.7zM46.2 69.7h1.7v1.7h-1.7zM43.6 60.0h1.7v1.7h-1.7zM55.3 41.6h1.7v1.7h-1.7zM38.1 69.6h1.7v1.7h-1.7zM36.1 50.7h1.7v1.7h-1.7zM44.7 75.0h1.7v1.7h-1.7zM46.2 48.6h1.7v1.7h-1.7zM46.9 45.5h1.7v1.7h-1.7zM50.3 67.2h1.7v1.7h-1.7zM57.6 68.4h1.7v1.7h-1.7zM44.3 65.2h1.7v1.7h-1.7zM43.2 52.0h1.7v1.7h-1.7zM36.5 73.0h1.7v1.7h-1.7zM47.5 49.5h1.7v1.7h-1.7zM50.8 59.5h1.7v1.7h-1.7zM84.6 96.7h1.7v1.7h-1.7zM86.5 104.8h1.7v1.7h-1.7zM92.0 97.8h1.7v1.7h-1.7zM85.3 102.5h1.7v1.7h-1.7zM90.7 98.9h1.7v1.7h-1.7zM91.3 100.6h1.7v1.7h-1.7zM80.5 102.8h1.7v1.7h-1.7zM82.9 101.8h1.7v1.7h-1.7zM86.4 100.8h1.7v1.7h-1.7zM85.5 109.9h1.7v1.7h-1.7zM89.5 102.2h1.7v1.7h-1.7zM79.5 98.7h1.7v1.7h-1.7zM91.4 105.5h1.7v1.7h-1.7zM91.5 105.1h1.7v1.7h-1.7zM87.4 106.6h1.7v1.7h-1.7zM81.9 108.6h1.7v1.7h-1.7zM88.2 98.8h1.7v1.7h-1.7zM85.7 106.0h1.7v1.7h-1.7zM90.7 106.3h1.7v1.7h-1.7zM87.8 102.2h1.7v1.7h-1.7zM91.4 103.0h1.7v1.7h-1.7zM86.2 91.3h1.7v1.7h-1.7zM94.6 100.1h1.7v1.7h-1.7zM77.8 108.6h1.7v1.7h-1.7zM83.6 95.7h1.7v1.7h-1.7zM90.4 100.2h1.7v1.7h-1.7zM74.2 60.6h1.7v1.7h-1.7zM56.1 94.2h1.7v1.7h-1.7zM52.1 105.7h1.7v1.7h-1.7z" fill="#ff5a14"/>
<rect x="30.60" y="36.60" width="45.40" height="51.90" stroke="#6c6c6c" stroke-width="1.05" fill="none"/>
<rect x="71.60" y="93.40" width="33.70" height="22.70" stroke="#6c6c6c" stroke-width="1.05" fill="none"/>
<text transform="translate(7.90,101.00) rotate(-90)" font-size="9.7" text-anchor="middle" fill="#000" color="#000">GL7</text>
<text x="29.50" y="147.00" font-size="10.0" text-anchor="start" font-weight="normal" fill="#000" color="#000" >CD38</text>
<rect x="158.10" y="32.50" width="93.15" height="92.25" stroke="#959595" stroke-width="1.15" fill="none"/>
<line x1="155.90" y1="123.85" x2="158.10" y2="123.85" stroke="#222" stroke-width="0.9" />
<line x1="156.90" y1="120.35" x2="158.10" y2="120.35" stroke="#444" stroke-width="0.6" />
<line x1="156.90" y1="116.85" x2="158.10" y2="116.85" stroke="#444" stroke-width="0.6" />
<line x1="156.90" y1="113.35" x2="158.10" y2="113.35" stroke="#444" stroke-width="0.6" />
<line x1="156.90" y1="109.85" x2="158.10" y2="109.85" stroke="#444" stroke-width="0.6" />
<line x1="155.90" y1="106.35" x2="158.10" y2="106.35" stroke="#222" stroke-width="0.9" />
<line x1="156.90" y1="102.85" x2="158.10" y2="102.85" stroke="#444" stroke-width="0.6" />
<line x1="156.90" y1="99.35" x2="158.10" y2="99.35" stroke="#444" stroke-width="0.6" />
<line x1="156.90" y1="95.85" x2="158.10" y2="95.85" stroke="#444" stroke-width="0.6" />
<line x1="156.90" y1="92.35" x2="158.10" y2="92.35" stroke="#444" stroke-width="0.6" />
<line x1="155.90" y1="88.85" x2="158.10" y2="88.85" stroke="#222" stroke-width="0.9" />
<line x1="156.90" y1="85.35" x2="158.10" y2="85.35" stroke="#444" stroke-width="0.6" />
<line x1="156.90" y1="81.85" x2="158.10" y2="81.85" stroke="#444" stroke-width="0.6" />
<line x1="156.90" y1="78.35" x2="158.10" y2="78.35" stroke="#444" stroke-width="0.6" />
<line x1="156.90" y1="74.85" x2="158.10" y2="74.85" stroke="#444" stroke-width="0.6" />
<line x1="155.90" y1="71.35" x2="158.10" y2="71.35" stroke="#222" stroke-width="0.9" />
<line x1="156.90" y1="67.85" x2="158.10" y2="67.85" stroke="#444" stroke-width="0.6" />
<line x1="156.90" y1="64.35" x2="158.10" y2="64.35" stroke="#444" stroke-width="0.6" />
<line x1="156.90" y1="60.85" x2="158.10" y2="60.85" stroke="#444" stroke-width="0.6" />
<line x1="156.90" y1="57.35" x2="158.10" y2="57.35" stroke="#444" stroke-width="0.6" />
<line x1="155.90" y1="53.85" x2="158.10" y2="53.85" stroke="#222" stroke-width="0.9" />
<line x1="156.90" y1="50.35" x2="158.10" y2="50.35" stroke="#444" stroke-width="0.6" />
<line x1="156.90" y1="46.85" x2="158.10" y2="46.85" stroke="#444" stroke-width="0.6" />
<line x1="156.90" y1="43.35" x2="158.10" y2="43.35" stroke="#444" stroke-width="0.6" />
<line x1="156.90" y1="39.85" x2="158.10" y2="39.85" stroke="#444" stroke-width="0.6" />
<line x1="155.90" y1="36.35" x2="158.10" y2="36.35" stroke="#222" stroke-width="0.9" />
<text x="154.6" y="125.5" font-size="4.5" text-anchor="end" fill="#444" style="stroke:none">0</text>
<text x="154.6" y="108.0" font-size="4.5" text-anchor="end" fill="#444" style="stroke:none">50K</text>
<text x="154.6" y="90.5" font-size="4.5" text-anchor="end" fill="#444" style="stroke:none">100K</text>
<text x="154.6" y="73.0" font-size="4.5" text-anchor="end" fill="#444" style="stroke:none">150K</text>
<text x="154.6" y="55.5" font-size="4.5" text-anchor="end" fill="#444" style="stroke:none">200K</text>
<text x="154.6" y="38.0" font-size="4.5" text-anchor="end" fill="#444" style="stroke:none">250K</text>
<line x1="171.30" y1="124.75" x2="171.30" y2="126.95" stroke="#222" stroke-width="0.9" />
<line x1="198.75" y1="124.75" x2="198.75" y2="126.95" stroke="#222" stroke-width="0.9" />
<line x1="220.60" y1="124.75" x2="220.60" y2="126.95" stroke="#222" stroke-width="0.9" />
<line x1="241.50" y1="124.75" x2="241.50" y2="126.95" stroke="#222" stroke-width="0.9" />
<line x1="205.33" y1="124.75" x2="205.33" y2="125.95" stroke="#444" stroke-width="0.6" />
<line x1="209.18" y1="124.75" x2="209.18" y2="125.95" stroke="#444" stroke-width="0.6" />
<line x1="211.91" y1="124.75" x2="211.91" y2="125.95" stroke="#444" stroke-width="0.6" />
<line x1="214.02" y1="124.75" x2="214.02" y2="125.95" stroke="#444" stroke-width="0.6" />
<line x1="215.75" y1="124.75" x2="215.75" y2="125.95" stroke="#444" stroke-width="0.6" />
<line x1="217.22" y1="124.75" x2="217.22" y2="125.95" stroke="#444" stroke-width="0.6" />
<line x1="218.48" y1="124.75" x2="218.48" y2="125.95" stroke="#444" stroke-width="0.6" />
<line x1="219.60" y1="124.75" x2="219.60" y2="125.95" stroke="#444" stroke-width="0.6" />
<line x1="226.89" y1="124.75" x2="226.89" y2="125.95" stroke="#444" stroke-width="0.6" />
<line x1="230.57" y1="124.75" x2="230.57" y2="125.95" stroke="#444" stroke-width="0.6" />
<line x1="233.18" y1="124.75" x2="233.18" y2="125.95" stroke="#444" stroke-width="0.6" />
<line x1="235.21" y1="124.75" x2="235.21" y2="125.95" stroke="#444" stroke-width="0.6" />
<line x1="236.86" y1="124.75" x2="236.86" y2="125.95" stroke="#444" stroke-width="0.6" />
<line x1="238.26" y1="124.75" x2="238.26" y2="125.95" stroke="#444" stroke-width="0.6" />
<line x1="239.47" y1="124.75" x2="239.47" y2="125.95" stroke="#444" stroke-width="0.6" />
<line x1="240.54" y1="124.75" x2="240.54" y2="125.95" stroke="#444" stroke-width="0.6" />
<line x1="162.10" y1="124.75" x2="162.10" y2="125.95" stroke="#444" stroke-width="0.6" />
<line x1="165.84" y1="124.75" x2="165.84" y2="125.95" stroke="#444" stroke-width="0.6" />
<line x1="169.58" y1="124.75" x2="169.58" y2="125.95" stroke="#444" stroke-width="0.6" />
<line x1="173.32" y1="124.75" x2="173.32" y2="125.95" stroke="#444" stroke-width="0.6" />
<line x1="177.06" y1="124.75" x2="177.06" y2="125.95" stroke="#444" stroke-width="0.6" />
<line x1="180.79" y1="124.75" x2="180.79" y2="125.95" stroke="#444" stroke-width="0.6" />
<line x1="184.53" y1="124.75" x2="184.53" y2="125.95" stroke="#444" stroke-width="0.6" />
<line x1="188.27" y1="124.75" x2="188.27" y2="125.95" stroke="#444" stroke-width="0.6" />
<line x1="192.01" y1="124.75" x2="192.01" y2="125.95" stroke="#444" stroke-width="0.6" />
<line x1="195.75" y1="124.75" x2="195.75" y2="125.95" stroke="#444" stroke-width="0.6" />
<rect x="167.4" y="124.8" width="4" height="1.9" fill="#111"/>
<text x="171.3" y="133.9" font-size="4.5" text-anchor="middle" fill="#444" style="stroke:none">0</text>
<text x="200.8" y="133.9" font-size="4.5" text-anchor="middle" fill="#444" style="stroke:none">10<tspan dy="-1.6" font-size="3.2">3</tspan></text>
<text x="222.6" y="133.9" font-size="4.5" text-anchor="middle" fill="#444" style="stroke:none">10<tspan dy="-1.6" font-size="3.2">4</tspan></text>
<text x="243.5" y="133.9" font-size="4.5" text-anchor="middle" fill="#444" style="stroke:none">10<tspan dy="-1.6" font-size="3.2">5</tspan></text>
<path d="M197.3 103.9h1.4v1.4h-1.4zM201.4 111.4h1.4v1.4h-1.4zM216.1 110.7h1.4v1.4h-1.4zM193.9 108.0h1.4v1.4h-1.4zM205.3 104.4h1.4v1.4h-1.4zM174.9 102.7h1.4v1.4h-1.4zM192.7 98.8h1.4v1.4h-1.4zM211.7 108.6h1.4v1.4h-1.4zM200.9 105.1h1.4v1.4h-1.4zM191.5 102.2h1.4v1.4h-1.4zM198.7 105.4h1.4v1.4h-1.4zM189.0 105.6h1.4v1.4h-1.4zM192.4 100.1h1.4v1.4h-1.4zM190.3 108.7h1.4v1.4h-1.4zM179.7 107.4h1.4v1.4h-1.4zM196.7 102.8h1.4v1.4h-1.4zM188.9 106.3h1.4v1.4h-1.4zM189.0 109.6h1.4v1.4h-1.4zM192.1 114.7h1.4v1.4h-1.4zM204.1 102.9h1.4v1.4h-1.4zM196.6 109.4h1.4v1.4h-1.4zM191.4 107.1h1.4v1.4h-1.4zM199.9 113.1h1.4v1.4h-1.4zM209.4 113.0h1.4v1.4h-1.4zM204.2 106.7h1.4v1.4h-1.4zM179.4 98.7h1.4v1.4h-1.4zM197.8 110.1h1.4v1.4h-1.4zM221.1 111.3h1.4v1.4h-1.4zM215.1 112.0h1.4v1.4h-1.4zM192.5 111.9h1.4v1.4h-1.4zM205.9 106.6h1.4v1.4h-1.4zM183.9 103.5h1.4v1.4h-1.4zM173.0 104.8h1.4v1.4h-1.4zM201.1 106.6h1.4v1.4h-1.4zM196.8 108.5h1.4v1.4h-1.4zM200.5 104.7h1.4v1.4h-1.4zM193.0 107.0h1.4v1.4h-1.4zM197.9 110.6h1.4v1.4h-1.4zM186.1 108.2h1.4v1.4h-1.4zM192.5 101.8h1.4v1.4h-1.4zM204.7 104.3h1.4v1.4h-1.4zM182.3 101.7h1.4v1.4h-1.4zM213.5 109.1h1.4v1.4h-1.4zM218.0 102.5h1.4v1.4h-1.4zM196.8 102.3h1.4v1.4h-1.4zM191.9 105.6h1.4v1.4h-1.4zM175.5 110.2h1.4v1.4h-1.4zM198.4 105.2h1.4v1.4h-1.4zM204.2 105.2h1.4v1.4h-1.4zM172.6 110.7h1.4v1.4h-1.4zM201.1 108.8h1.4v1.4h-1.4zM200.2 108.7h1.4v1.4h-1.4zM199.5 110.9h1.4v1.4h-1.4zM177.5 102.4h1.4v1.4h-1.4zM200.9 107.7h1.4v1.4h-1.4zM172.3 104.0h1.4v1.4h-1.4zM214.1 111.2h1.4v1.4h-1.4zM195.2 110.3h1.4v1.4h-1.4zM177.0 102.3h1.4v1.4h-1.4zM212.1 112.6h1.4v1.4h-1.4zM209.5 101.7h1.4v1.4h-1.4zM184.2 111.8h1.4v1.4h-1.4zM224.2 107.7h1.4v1.4h-1.4zM179.2 103.0h1.4v1.4h-1.4zM197.7 101.9h1.4v1.4h-1.4zM209.9 105.5h1.4v1.4h-1.4zM207.3 103.7h1.4v1.4h-1.4zM192.4 109.2h1.4v1.4h-1.4zM193.1 100.7h1.4v1.4h-1.4zM178.2 106.7h1.4v1.4h-1.4zM197.9 106.8h1.4v1.4h-1.4zM179.7 108.1h1.4v1.4h-1.4zM187.0 101.3h1.4v1.4h-1.4zM215.3 104.1h1.4v1.4h-1.4zM174.7 105.8h1.4v1.4h-1.4zM182.7 110.7h1.4v1.4h-1.4zM188.9 104.7h1.4v1.4h-1.4zM193.3 113.1h1.4v1.4h-1.4zM204.4 113.0h1.4v1.4h-1.4zM204.8 111.5h1.4v1.4h-1.4zM189.1 112.5h1.4v1.4h-1.4zM187.9 108.3h1.4v1.4h-1.4zM193.8 104.4h1.4v1.4h-1.4zM204.8 109.6h1.4v1.4h-1.4zM203.1 111.0h1.4v1.4h-1.4zM186.1 107.8h1.4v1.4h-1.4zM206.6 109.7h1.4v1.4h-1.4zM197.0 108.3h1.4v1.4h-1.4zM198.1 101.1h1.4v1.4h-1.4zM186.0 107.2h1.4v1.4h-1.4zM179.3 109.9h1.4v1.4h-1.4zM188.6 106.3h1.4v1.4h-1.4zM190.2 110.2h1.4v1.4h-1.4zM184.5 110.0h1.4v1.4h-1.4zM172.9 100.4h1.4v1.4h-1.4zM188.9 105.5h1.4v1.4h-1.4zM201.4 108.9h1.4v1.4h-1.4zM186.4 110.7h1.4v1.4h-1.4zM193.6 112.9h1.4v1.4h-1.4zM190.4 106.5h1.4v1.4h-1.4zM191.6 109.9h1.4v1.4h-1.4zM176.1 112.1h1.4v1.4h-1.4zM199.1 102.7h1.4v1.4h-1.4zM182.0 105.1h1.4v1.4h-1.4zM200.1 102.2h1.4v1.4h-1.4zM187.4 110.3h1.4v1.4h-1.4zM202.0 101.0h1.4v1.4h-1.4zM188.6 111.9h1.4v1.4h-1.4zM172.2 110.8h1.4v1.4h-1.4zM192.1 108.9h1.4v1.4h-1.4zM188.7 97.3h1.4v1.4h-1.4zM202.5 103.8h1.4v1.4h-1.4zM187.0 110.0h1.4v1.4h-1.4zM187.8 100.6h1.4v1.4h-1.4zM205.3 105.7h1.4v1.4h-1.4zM209.6 106.3h1.4v1.4h-1.4zM203.9 110.6h1.4v1.4h-1.4zM207.8 108.0h1.4v1.4h-1.4zM199.7 108.0h1.4v1.4h-1.4zM204.1 104.9h1.4v1.4h-1.4zM205.6 106.8h1.4v1.4h-1.4zM199.0 106.2h1.4v1.4h-1.4zM194.2 109.9h1.4v1.4h-1.4zM195.3 106.0h1.4v1.4h-1.4zM193.5 99.4h1.4v1.4h-1.4zM190.0 112.0h1.4v1.4h-1.4zM188.2 106.0h1.4v1.4h-1.4zM192.8 111.7h1.4v1.4h-1.4zM196.7 107.1h1.4v1.4h-1.4zM177.5 110.5h1.4v1.4h-1.4zM197.4 104.4h1.4v1.4h-1.4zM170.8 107.1h1.4v1.4h-1.4zM196.9 106.0h1.4v1.4h-1.4zM195.3 107.7h1.4v1.4h-1.4zM209.4 99.7h1.4v1.4h-1.4zM216.7 106.0h1.4v1.4h-1.4zM198.4 105.7h1.4v1.4h-1.4zM185.5 103.3h1.4v1.4h-1.4zM176.9 105.9h1.4v1.4h-1.4zM182.2 100.1h1.4v1.4h-1.4zM193.9 112.8h1.4v1.4h-1.4zM194.4 114.9h1.4v1.4h-1.4zM193.1 103.0h1.4v1.4h-1.4zM202.3 101.7h1.4v1.4h-1.4zM188.6 108.0h1.4v1.4h-1.4zM194.7 99.5h1.4v1.4h-1.4zM183.0 107.7h1.4v1.4h-1.4zM186.8 103.7h1.4v1.4h-1.4zM168.5 105.3h1.4v1.4h-1.4zM195.0 107.9h1.4v1.4h-1.4zM215.0 107.0h1.4v1.4h-1.4zM195.6 114.8h1.4v1.4h-1.4zM198.4 109.5h1.4v1.4h-1.4zM179.6 101.1h1.4v1.4h-1.4zM213.3 111.0h1.4v1.4h-1.4zM182.6 100.9h1.4v1.4h-1.4zM204.5 107.1h1.4v1.4h-1.4zM194.8 101.3h1.4v1.4h-1.4zM179.9 103.1h1.4v1.4h-1.4zM207.7 112.5h1.4v1.4h-1.4zM193.5 104.3h1.4v1.4h-1.4zM195.8 103.9h1.4v1.4h-1.4zM199.6 104.3h1.4v1.4h-1.4zM193.0 105.4h1.4v1.4h-1.4zM188.0 113.0h1.4v1.4h-1.4zM199.8 101.6h1.4v1.4h-1.4zM187.6 101.4h1.4v1.4h-1.4zM194.2 109.3h1.4v1.4h-1.4zM184.0 99.8h1.4v1.4h-1.4zM172.4 105.1h1.4v1.4h-1.4zM183.9 111.7h1.4v1.4h-1.4zM186.4 106.7h1.4v1.4h-1.4zM193.5 104.6h1.4v1.4h-1.4zM209.9 103.6h1.4v1.4h-1.4zM169.6 102.7h1.4v1.4h-1.4zM195.1 104.2h1.4v1.4h-1.4zM178.7 112.1h1.4v1.4h-1.4zM186.2 110.9h1.4v1.4h-1.4zM167.3 103.5h1.4v1.4h-1.4zM195.5 109.7h1.4v1.4h-1.4zM194.4 98.8h1.4v1.4h-1.4zM191.7 104.8h1.4v1.4h-1.4zM182.0 105.3h1.4v1.4h-1.4zM191.0 102.4h1.4v1.4h-1.4zM181.2 108.2h1.4v1.4h-1.4zM201.9 102.7h1.4v1.4h-1.4zM188.1 103.9h1.4v1.4h-1.4zM210.0 107.0h1.4v1.4h-1.4zM195.5 100.7h1.4v1.4h-1.4zM202.3 111.4h1.4v1.4h-1.4zM196.6 105.3h1.4v1.4h-1.4zM178.9 105.5h1.4v1.4h-1.4zM206.9 105.1h1.4v1.4h-1.4zM195.5 103.7h1.4v1.4h-1.4zM179.2 102.4h1.4v1.4h-1.4zM182.6 111.6h1.4v1.4h-1.4zM206.7 107.5h1.4v1.4h-1.4zM188.1 106.2h1.4v1.4h-1.4zM194.0 111.0h1.4v1.4h-1.4zM202.5 103.5h1.4v1.4h-1.4zM195.1 109.4h1.4v1.4h-1.4zM171.9 106.7h1.4v1.4h-1.4zM202.2 102.8h1.4v1.4h-1.4zM206.4 109.9h1.4v1.4h-1.4zM205.4 100.1h1.4v1.4h-1.4zM215.9 109.4h1.4v1.4h-1.4zM198.4 102.8h1.4v1.4h-1.4zM204.2 108.4h1.4v1.4h-1.4zM215.6 112.6h1.4v1.4h-1.4zM189.2 109.1h1.4v1.4h-1.4zM217.6 104.0h1.4v1.4h-1.4zM217.6 106.5h1.4v1.4h-1.4zM204.3 105.0h1.4v1.4h-1.4zM219.1 101.5h1.4v1.4h-1.4zM205.2 101.8h1.4v1.4h-1.4zM181.0 106.8h1.4v1.4h-1.4zM209.2 108.9h1.4v1.4h-1.4zM197.9 98.9h1.4v1.4h-1.4zM199.1 106.3h1.4v1.4h-1.4zM195.5 108.8h1.4v1.4h-1.4zM212.3 107.0h1.4v1.4h-1.4zM201.0 102.2h1.4v1.4h-1.4zM183.6 111.0h1.4v1.4h-1.4zM200.1 101.3h1.4v1.4h-1.4zM203.5 109.3h1.4v1.4h-1.4zM183.1 113.5h1.4v1.4h-1.4zM187.2 97.7h1.4v1.4h-1.4zM187.9 107.6h1.4v1.4h-1.4zM184.8 107.9h1.4v1.4h-1.4zM198.2 107.5h1.4v1.4h-1.4zM207.5 103.2h1.4v1.4h-1.4zM219.8 105.2h1.4v1.4h-1.4zM210.0 100.5h1.4v1.4h-1.4zM207.6 107.1h1.4v1.4h-1.4zM209.3 108.8h1.4v1.4h-1.4zM212.0 103.6h1.4v1.4h-1.4zM188.0 102.5h1.4v1.4h-1.4zM203.0 104.5h1.4v1.4h-1.4zM197.8 106.5h1.4v1.4h-1.4zM191.5 106.8h1.4v1.4h-1.4zM186.9 106.1h1.4v1.4h-1.4zM186.2 106.8h1.4v1.4h-1.4zM189.5 100.8h1.4v1.4h-1.4zM200.6 109.2h1.4v1.4h-1.4zM193.0 112.6h1.4v1.4h-1.4zM194.8 100.4h1.4v1.4h-1.4zM198.0 103.6h1.4v1.4h-1.4zM203.4 107.8h1.4v1.4h-1.4zM185.0 110.6h1.4v1.4h-1.4zM191.8 109.3h1.4v1.4h-1.4zM170.8 112.0h1.4v1.4h-1.4zM214.8 108.3h1.4v1.4h-1.4zM167.7 104.6h1.4v1.4h-1.4zM199.9 111.7h1.4v1.4h-1.4zM214.0 109.2h1.4v1.4h-1.4zM186.9 110.7h1.4v1.4h-1.4zM216.1 104.8h1.4v1.4h-1.4zM219.2 110.9h1.4v1.4h-1.4zM206.5 101.9h1.4v1.4h-1.4zM183.1 102.1h1.4v1.4h-1.4zM200.6 109.6h1.4v1.4h-1.4zM187.1 104.5h1.4v1.4h-1.4zM175.1 107.2h1.4v1.4h-1.4zM175.5 99.5h1.4v1.4h-1.4zM185.8 109.0h1.4v1.4h-1.4zM193.0 106.4h1.4v1.4h-1.4zM184.1 108.3h1.4v1.4h-1.4zM195.3 107.9h1.4v1.4h-1.4zM190.1 112.6h1.4v1.4h-1.4zM187.7 107.4h1.4v1.4h-1.4zM176.5 100.1h1.4v1.4h-1.4zM173.7 105.4h1.4v1.4h-1.4zM183.0 112.0h1.4v1.4h-1.4zM197.6 108.9h1.4v1.4h-1.4zM222.5 104.7h1.4v1.4h-1.4zM208.2 109.1h1.4v1.4h-1.4zM219.0 107.0h1.4v1.4h-1.4zM200.3 109.1h1.4v1.4h-1.4zM192.3 99.6h1.4v1.4h-1.4zM175.0 102.6h1.4v1.4h-1.4zM193.6 109.3h1.4v1.4h-1.4zM189.3 108.0h1.4v1.4h-1.4zM198.2 105.1h1.4v1.4h-1.4zM209.4 107.5h1.4v1.4h-1.4zM188.2 104.1h1.4v1.4h-1.4zM174.3 103.8h1.4v1.4h-1.4zM186.9 106.1h1.4v1.4h-1.4zM188.0 100.2h1.4v1.4h-1.4zM183.2 106.0h1.4v1.4h-1.4zM188.6 111.3h1.4v1.4h-1.4zM191.6 107.0h1.4v1.4h-1.4zM188.7 107.1h1.4v1.4h-1.4zM176.2 109.3h1.4v1.4h-1.4zM194.9 109.6h1.4v1.4h-1.4zM198.7 101.3h1.4v1.4h-1.4zM199.0 111.7h1.4v1.4h-1.4zM176.8 102.3h1.4v1.4h-1.4zM192.1 107.3h1.4v1.4h-1.4zM206.4 106.8h1.4v1.4h-1.4zM179.4 113.6h1.4v1.4h-1.4zM189.8 105.0h1.4v1.4h-1.4zM187.4 109.1h1.4v1.4h-1.4zM185.5 106.7h1.4v1.4h-1.4zM178.9 108.3h1.4v1.4h-1.4zM168.9 102.8h1.4v1.4h-1.4zM218.0 102.5h1.4v1.4h-1.4zM197.3 107.9h1.4v1.4h-1.4zM197.4 99.7h1.4v1.4h-1.4zM192.3 109.2h1.4v1.4h-1.4zM201.5 103.8h1.4v1.4h-1.4zM194.0 102.6h1.4v1.4h-1.4zM210.3 101.7h1.4v1.4h-1.4zM200.8 107.1h1.4v1.4h-1.4zM198.1 104.9h1.4v1.4h-1.4zM190.2 107.1h1.4v1.4h-1.4zM197.7 105.7h1.4v1.4h-1.4zM210.0 114.4h1.4v1.4h-1.4zM191.9 98.1h1.4v1.4h-1.4zM187.9 107.0h1.4v1.4h-1.4zM189.5 106.5h1.4v1.4h-1.4zM204.0 99.6h1.4v1.4h-1.4zM181.9 111.3h1.4v1.4h-1.4zM190.6 106.3h1.4v1.4h-1.4zM186.7 106.3h1.4v1.4h-1.4zM187.5 108.5h1.4v1.4h-1.4zM168.0 106.2h1.4v1.4h-1.4zM180.6 112.3h1.4v1.4h-1.4zM189.3 104.7h1.4v1.4h-1.4zM193.7 101.2h1.4v1.4h-1.4zM194.5 107.0h1.4v1.4h-1.4zM191.8 102.6h1.4v1.4h-1.4zM223.7 108.2h1.4v1.4h-1.4zM199.9 101.8h1.4v1.4h-1.4zM176.7 105.9h1.4v1.4h-1.4zM185.2 105.5h1.4v1.4h-1.4zM184.6 106.3h1.4v1.4h-1.4zM191.3 104.3h1.4v1.4h-1.4zM185.3 103.0h1.4v1.4h-1.4zM181.8 106.2h1.4v1.4h-1.4zM216.9 104.0h1.4v1.4h-1.4zM194.4 107.1h1.4v1.4h-1.4zM189.0 105.3h1.4v1.4h-1.4zM190.7 106.2h1.4v1.4h-1.4zM213.3 112.4h1.4v1.4h-1.4zM200.5 107.8h1.4v1.4h-1.4zM209.5 109.0h1.4v1.4h-1.4zM198.3 104.5h1.4v1.4h-1.4zM208.6 100.8h1.4v1.4h-1.4zM221.4 109.9h1.4v1.4h-1.4zM194.2 111.0h1.4v1.4h-1.4zM169.7 108.9h1.4v1.4h-1.4zM202.0 108.3h1.4v1.4h-1.4zM185.4 108.2h1.4v1.4h-1.4zM168.7 106.4h1.4v1.4h-1.4zM185.1 107.6h1.4v1.4h-1.4zM208.6 106.5h1.4v1.4h-1.4zM210.6 107.9h1.4v1.4h-1.4zM203.9 102.4h1.4v1.4h-1.4zM179.1 103.8h1.4v1.4h-1.4zM177.4 105.0h1.4v1.4h-1.4zM173.6 107.0h1.4v1.4h-1.4zM200.1 114.6h1.4v1.4h-1.4zM206.3 109.5h1.4v1.4h-1.4zM195.1 109.3h1.4v1.4h-1.4zM192.9 103.7h1.4v1.4h-1.4zM196.3 101.7h1.4v1.4h-1.4zM167.4 105.6h1.4v1.4h-1.4zM207.8 106.6h1.4v1.4h-1.4zM206.6 103.2h1.4v1.4h-1.4zM188.4 107.2h1.4v1.4h-1.4zM193.7 109.4h1.4v1.4h-1.4zM198.1 109.0h1.4v1.4h-1.4zM215.8 102.1h1.4v1.4h-1.4zM199.9 97.3h1.4v1.4h-1.4zM194.5 106.5h1.4v1.4h-1.4zM186.8 103.7h1.4v1.4h-1.4zM172.8 108.4h1.4v1.4h-1.4zM185.5 113.4h1.4v1.4h-1.4zM194.9 113.4h1.4v1.4h-1.4zM190.4 107.7h1.4v1.4h-1.4zM195.0 111.2h1.4v1.4h-1.4zM204.3 113.4h1.4v1.4h-1.4zM200.0 106.7h1.4v1.4h-1.4zM197.8 107.7h1.4v1.4h-1.4zM203.1 110.1h1.4v1.4h-1.4zM196.5 106.4h1.4v1.4h-1.4zM193.5 104.4h1.4v1.4h-1.4zM200.5 103.4h1.4v1.4h-1.4zM169.7 106.5h1.4v1.4h-1.4zM211.5 103.9h1.4v1.4h-1.4zM175.9 109.9h1.4v1.4h-1.4zM205.7 105.1h1.4v1.4h-1.4zM194.1 112.7h1.4v1.4h-1.4zM209.5 111.6h1.4v1.4h-1.4zM194.5 101.3h1.4v1.4h-1.4zM180.8 111.1h1.4v1.4h-1.4zM209.0 104.8h1.4v1.4h-1.4zM196.6 112.3h1.4v1.4h-1.4zM195.6 108.7h1.4v1.4h-1.4zM195.1 106.4h1.4v1.4h-1.4zM208.0 109.4h1.4v1.4h-1.4zM205.4 104.2h1.4v1.4h-1.4zM197.2 107.9h1.4v1.4h-1.4zM172.3 108.2h1.4v1.4h-1.4zM188.4 105.9h1.4v1.4h-1.4zM195.5 108.2h1.4v1.4h-1.4zM219.2 102.4h1.4v1.4h-1.4zM199.4 108.9h1.4v1.4h-1.4zM192.7 101.5h1.4v1.4h-1.4zM210.8 109.2h1.4v1.4h-1.4zM192.5 108.6h1.4v1.4h-1.4zM193.7 109.6h1.4v1.4h-1.4zM196.2 104.2h1.4v1.4h-1.4zM207.5 105.6h1.4v1.4h-1.4zM200.0 107.2h1.4v1.4h-1.4zM190.1 103.4h1.4v1.4h-1.4zM178.1 112.6h1.4v1.4h-1.4zM197.1 104.6h1.4v1.4h-1.4zM213.7 110.8h1.4v1.4h-1.4zM185.1 102.7h1.4v1.4h-1.4zM179.2 107.9h1.4v1.4h-1.4zM200.0 105.1h1.4v1.4h-1.4zM171.7 110.5h1.4v1.4h-1.4zM187.9 103.0h1.4v1.4h-1.4zM184.4 108.5h1.4v1.4h-1.4zM190.2 101.7h1.4v1.4h-1.4zM186.4 102.6h1.4v1.4h-1.4zM198.7 109.9h1.4v1.4h-1.4zM191.0 98.8h1.4v1.4h-1.4zM185.7 109.8h1.4v1.4h-1.4zM187.7 105.0h1.4v1.4h-1.4zM202.9 102.8h1.4v1.4h-1.4zM207.5 107.7h1.4v1.4h-1.4zM206.8 109.3h1.4v1.4h-1.4zM203.9 104.2h1.4v1.4h-1.4zM180.1 110.0h1.4v1.4h-1.4zM189.7 109.8h1.4v1.4h-1.4zM197.0 106.5h1.4v1.4h-1.4zM171.5 103.5h1.4v1.4h-1.4zM214.0 102.8h1.4v1.4h-1.4zM198.4 104.2h1.4v1.4h-1.4zM185.4 109.5h1.4v1.4h-1.4zM196.4 109.1h1.4v1.4h-1.4zM189.3 108.0h1.4v1.4h-1.4zM183.5 112.5h1.4v1.4h-1.4zM201.2 105.5h1.4v1.4h-1.4zM187.8 105.1h1.4v1.4h-1.4zM174.4 105.1h1.4v1.4h-1.4zM185.3 114.7h1.4v1.4h-1.4zM192.5 98.2h1.4v1.4h-1.4zM179.0 107.9h1.4v1.4h-1.4zM211.8 108.6h1.4v1.4h-1.4zM178.9 107.0h1.4v1.4h-1.4zM206.7 111.6h1.4v1.4h-1.4zM181.0 110.0h1.4v1.4h-1.4zM196.0 103.0h1.4v1.4h-1.4zM210.7 108.8h1.4v1.4h-1.4zM191.5 105.2h1.4v1.4h-1.4zM177.5 107.0h1.4v1.4h-1.4zM195.8 107.6h1.4v1.4h-1.4zM222.1 104.8h1.4v1.4h-1.4zM173.3 109.4h1.4v1.4h-1.4zM202.0 113.5h1.4v1.4h-1.4zM194.3 111.1h1.4v1.4h-1.4zM192.6 107.7h1.4v1.4h-1.4zM188.8 98.8h1.4v1.4h-1.4zM189.8 111.3h1.4v1.4h-1.4zM208.8 111.3h1.4v1.4h-1.4zM202.6 106.0h1.4v1.4h-1.4zM180.3 104.8h1.4v1.4h-1.4zM216.1 109.5h1.4v1.4h-1.4zM176.1 103.5h1.4v1.4h-1.4zM203.5 110.1h1.4v1.4h-1.4zM196.8 102.4h1.4v1.4h-1.4zM211.0 103.0h1.4v1.4h-1.4zM199.3 106.9h1.4v1.4h-1.4zM209.1 100.8h1.4v1.4h-1.4zM193.9 106.8h1.4v1.4h-1.4zM207.9 109.0h1.4v1.4h-1.4zM199.1 101.4h1.4v1.4h-1.4zM184.6 104.5h1.4v1.4h-1.4zM211.0 109.1h1.4v1.4h-1.4zM200.8 107.7h1.4v1.4h-1.4zM196.8 105.0h1.4v1.4h-1.4zM186.4 104.7h1.4v1.4h-1.4zM200.6 99.8h1.4v1.4h-1.4zM173.7 104.0h1.4v1.4h-1.4zM175.2 103.7h1.4v1.4h-1.4zM204.3 113.6h1.4v1.4h-1.4zM172.6 111.1h1.4v1.4h-1.4zM214.4 101.2h1.4v1.4h-1.4zM190.5 110.2h1.4v1.4h-1.4zM197.8 107.8h1.4v1.4h-1.4zM195.4 105.3h1.4v1.4h-1.4zM200.2 108.8h1.4v1.4h-1.4zM190.4 110.1h1.4v1.4h-1.4zM189.2 104.5h1.4v1.4h-1.4zM192.6 105.7h1.4v1.4h-1.4zM209.0 107.6h1.4v1.4h-1.4zM210.2 102.8h1.4v1.4h-1.4zM212.2 107.6h1.4v1.4h-1.4zM199.5 106.5h1.4v1.4h-1.4zM191.5 104.1h1.4v1.4h-1.4zM170.8 103.4h1.4v1.4h-1.4zM203.4 108.1h1.4v1.4h-1.4zM206.1 110.5h1.4v1.4h-1.4zM188.7 108.2h1.4v1.4h-1.4zM205.7 103.4h1.4v1.4h-1.4zM212.4 110.0h1.4v1.4h-1.4zM195.7 107.6h1.4v1.4h-1.4zM209.2 109.3h1.4v1.4h-1.4zM198.7 111.7h1.4v1.4h-1.4zM170.1 103.2h1.4v1.4h-1.4zM187.8 106.3h1.4v1.4h-1.4zM188.6 104.4h1.4v1.4h-1.4zM201.8 103.3h1.4v1.4h-1.4zM182.3 115.1h1.4v1.4h-1.4zM188.2 110.8h1.4v1.4h-1.4zM180.9 99.6h1.4v1.4h-1.4zM193.8 108.6h1.4v1.4h-1.4zM195.4 104.6h1.4v1.4h-1.4zM208.0 111.6h1.4v1.4h-1.4zM205.5 107.2h1.4v1.4h-1.4zM196.7 106.2h1.4v1.4h-1.4zM197.8 107.5h1.4v1.4h-1.4zM195.9 108.5h1.4v1.4h-1.4zM196.0 107.0h1.4v1.4h-1.4zM216.0 106.0h1.4v1.4h-1.4zM191.9 109.0h1.4v1.4h-1.4zM198.8 102.3h1.4v1.4h-1.4zM210.2 106.9h1.4v1.4h-1.4zM179.1 106.4h1.4v1.4h-1.4zM199.2 104.9h1.4v1.4h-1.4zM206.4 109.9h1.4v1.4h-1.4zM188.1 101.6h1.4v1.4h-1.4zM167.7 105.4h1.4v1.4h-1.4zM189.3 103.4h1.4v1.4h-1.4zM177.6 109.1h1.4v1.4h-1.4zM203.5 105.0h1.4v1.4h-1.4zM182.5 107.1h1.4v1.4h-1.4zM219.3 108.5h1.4v1.4h-1.4zM196.4 100.3h1.4v1.4h-1.4zM183.1 108.8h1.4v1.4h-1.4zM187.3 103.8h1.4v1.4h-1.4zM179.1 105.9h1.4v1.4h-1.4zM199.8 106.4h1.4v1.4h-1.4zM215.3 110.2h1.4v1.4h-1.4zM191.4 109.9h1.4v1.4h-1.4zM207.3 114.2h1.4v1.4h-1.4zM181.2 107.6h1.4v1.4h-1.4zM198.7 104.9h1.4v1.4h-1.4zM174.7 109.6h1.4v1.4h-1.4zM211.6 113.5h1.4v1.4h-1.4zM210.8 108.3h1.4v1.4h-1.4zM168.1 104.5h1.4v1.4h-1.4zM174.3 108.0h1.4v1.4h-1.4zM180.7 108.0h1.4v1.4h-1.4zM207.9 107.0h1.4v1.4h-1.4zM188.4 103.8h1.4v1.4h-1.4zM204.3 104.7h1.4v1.4h-1.4zM196.0 111.2h1.4v1.4h-1.4zM197.5 107.8h1.4v1.4h-1.4zM189.9 97.8h1.4v1.4h-1.4zM210.1 106.9h1.4v1.4h-1.4zM183.5 99.3h1.4v1.4h-1.4zM189.6 107.7h1.4v1.4h-1.4zM183.2 102.0h1.4v1.4h-1.4zM203.4 110.2h1.4v1.4h-1.4zM200.7 103.7h1.4v1.4h-1.4zM166.6 109.2h1.4v1.4h-1.4zM197.5 107.0h1.4v1.4h-1.4zM175.5 102.1h1.4v1.4h-1.4zM182.7 109.6h1.4v1.4h-1.4zM205.4 101.4h1.4v1.4h-1.4zM182.3 112.4h1.4v1.4h-1.4zM199.3 107.1h1.4v1.4h-1.4zM189.0 102.7h1.4v1.4h-1.4zM193.0 113.5h1.4v1.4h-1.4zM177.9 112.9h1.4v1.4h-1.4zM178.8 101.7h1.4v1.4h-1.4zM181.6 113.7h1.4v1.4h-1.4zM196.1 107.6h1.4v1.4h-1.4zM194.2 106.0h1.4v1.4h-1.4zM207.9 106.5h1.4v1.4h-1.4zM196.6 105.8h1.4v1.4h-1.4zM196.1 112.8h1.4v1.4h-1.4zM198.8 107.5h1.4v1.4h-1.4zM192.4 99.3h1.4v1.4h-1.4zM198.3 115.5h1.4v1.4h-1.4zM205.2 110.5h1.4v1.4h-1.4zM205.2 102.4h1.4v1.4h-1.4zM186.6 105.4h1.4v1.4h-1.4zM169.5 103.2h1.4v1.4h-1.4zM182.9 107.1h1.4v1.4h-1.4zM198.2 108.5h1.4v1.4h-1.4zM187.5 104.4h1.4v1.4h-1.4zM200.5 103.6h1.4v1.4h-1.4zM186.3 110.4h1.4v1.4h-1.4zM178.5 106.5h1.4v1.4h-1.4zM213.6 103.6h1.4v1.4h-1.4zM190.5 110.1h1.4v1.4h-1.4zM212.7 107.1h1.4v1.4h-1.4zM212.3 103.8h1.4v1.4h-1.4zM178.3 112.5h1.4v1.4h-1.4zM181.0 103.2h1.4v1.4h-1.4zM190.4 105.6h1.4v1.4h-1.4zM178.8 111.1h1.4v1.4h-1.4zM195.2 101.9h1.4v1.4h-1.4zM175.7 112.6h1.4v1.4h-1.4zM194.0 109.7h1.4v1.4h-1.4zM209.2 105.8h1.4v1.4h-1.4zM197.1 112.5h1.4v1.4h-1.4zM190.4 114.1h1.4v1.4h-1.4zM215.7 109.4h1.4v1.4h-1.4zM181.5 107.6h1.4v1.4h-1.4zM207.6 114.5h1.4v1.4h-1.4zM189.8 113.1h1.4v1.4h-1.4zM197.1 103.1h1.4v1.4h-1.4zM194.5 106.0h1.4v1.4h-1.4zM195.8 106.0h1.4v1.4h-1.4zM193.3 105.2h1.4v1.4h-1.4zM183.1 100.7h1.4v1.4h-1.4zM186.1 110.6h1.4v1.4h-1.4zM200.2 107.2h1.4v1.4h-1.4zM192.5 107.3h1.4v1.4h-1.4zM177.7 112.7h1.4v1.4h-1.4zM184.1 104.6h1.4v1.4h-1.4zM184.3 106.7h1.4v1.4h-1.4zM193.2 108.0h1.4v1.4h-1.4zM196.4 105.1h1.4v1.4h-1.4zM195.2 106.4h1.4v1.4h-1.4zM184.8 110.1h1.4v1.4h-1.4zM194.2 106.9h1.4v1.4h-1.4zM174.7 112.4h1.4v1.4h-1.4zM193.1 107.7h1.4v1.4h-1.4zM180.6 106.4h1.4v1.4h-1.4zM177.0 104.0h1.4v1.4h-1.4zM202.6 112.5h1.4v1.4h-1.4zM176.9 110.0h1.4v1.4h-1.4zM197.7 109.0h1.4v1.4h-1.4zM186.9 114.5h1.4v1.4h-1.4zM176.5 112.9h1.4v1.4h-1.4zM171.7 109.9h1.4v1.4h-1.4zM200.2 104.0h1.4v1.4h-1.4zM199.1 100.9h1.4v1.4h-1.4zM204.5 106.8h1.4v1.4h-1.4zM219.3 105.4h1.4v1.4h-1.4zM197.5 104.2h1.4v1.4h-1.4zM197.6 105.7h1.4v1.4h-1.4zM191.9 100.1h1.4v1.4h-1.4zM195.1 113.1h1.4v1.4h-1.4zM188.7 102.2h1.4v1.4h-1.4zM181.1 104.1h1.4v1.4h-1.4zM221.5 109.3h1.4v1.4h-1.4zM197.1 110.7h1.4v1.4h-1.4zM199.7 110.8h1.4v1.4h-1.4zM195.6 105.6h1.4v1.4h-1.4zM180.1 102.4h1.4v1.4h-1.4zM190.8 104.9h1.4v1.4h-1.4zM187.0 99.2h1.4v1.4h-1.4zM178.4 112.7h1.4v1.4h-1.4zM192.8 107.1h1.4v1.4h-1.4zM187.7 103.8h1.4v1.4h-1.4zM185.7 103.1h1.4v1.4h-1.4zM203.0 109.3h1.4v1.4h-1.4zM178.6 113.1h1.4v1.4h-1.4zM199.5 101.6h1.4v1.4h-1.4zM184.8 104.5h1.4v1.4h-1.4zM199.3 99.6h1.4v1.4h-1.4zM194.3 109.7h1.4v1.4h-1.4zM196.7 107.6h1.4v1.4h-1.4zM182.5 106.4h1.4v1.4h-1.4zM181.3 105.1h1.4v1.4h-1.4zM195.7 103.9h1.4v1.4h-1.4zM203.7 110.5h1.4v1.4h-1.4zM208.3 100.1h1.4v1.4h-1.4zM186.2 110.0h1.4v1.4h-1.4zM194.4 107.9h1.4v1.4h-1.4zM170.6 104.8h1.4v1.4h-1.4zM181.1 111.3h1.4v1.4h-1.4zM183.9 114.7h1.4v1.4h-1.4zM171.5 105.0h1.4v1.4h-1.4zM168.3 109.1h1.4v1.4h-1.4zM200.6 114.2h1.4v1.4h-1.4zM181.9 104.3h1.4v1.4h-1.4zM169.7 105.8h1.4v1.4h-1.4zM195.5 106.3h1.4v1.4h-1.4zM188.7 106.6h1.4v1.4h-1.4zM202.6 105.2h1.4v1.4h-1.4zM182.5 103.8h1.4v1.4h-1.4zM215.2 100.3h1.4v1.4h-1.4zM171.6 101.3h1.4v1.4h-1.4zM174.8 102.8h1.4v1.4h-1.4zM191.1 109.6h1.4v1.4h-1.4zM182.3 104.8h1.4v1.4h-1.4zM212.7 103.3h1.4v1.4h-1.4zM170.6 109.6h1.4v1.4h-1.4zM182.8 109.3h1.4v1.4h-1.4zM196.3 103.7h1.4v1.4h-1.4zM200.8 104.3h1.4v1.4h-1.4zM206.9 109.7h1.4v1.4h-1.4zM197.7 108.4h1.4v1.4h-1.4zM186.3 107.9h1.4v1.4h-1.4zM195.3 106.8h1.4v1.4h-1.4zM204.8 111.6h1.4v1.4h-1.4zM188.5 103.3h1.4v1.4h-1.4zM188.8 110.6h1.4v1.4h-1.4zM186.4 108.7h1.4v1.4h-1.4zM183.8 102.7h1.4v1.4h-1.4zM177.1 111.3h1.4v1.4h-1.4zM185.1 110.7h1.4v1.4h-1.4zM171.2 101.4h1.4v1.4h-1.4zM198.1 115.2h1.4v1.4h-1.4zM170.6 102.1h1.4v1.4h-1.4zM221.6 103.0h1.4v1.4h-1.4zM216.5 105.5h1.4v1.4h-1.4zM208.2 110.1h1.4v1.4h-1.4zM189.8 109.3h1.4v1.4h-1.4zM184.5 106.5h1.4v1.4h-1.4zM209.8 112.6h1.4v1.4h-1.4zM195.2 108.6h1.4v1.4h-1.4zM200.5 112.8h1.4v1.4h-1.4zM207.6 107.7h1.4v1.4h-1.4zM194.2 105.0h1.4v1.4h-1.4zM168.5 102.4h1.4v1.4h-1.4zM183.5 107.3h1.4v1.4h-1.4zM199.6 107.3h1.4v1.4h-1.4zM186.4 101.7h1.4v1.4h-1.4zM186.4 102.0h1.4v1.4h-1.4zM203.6 105.8h1.4v1.4h-1.4zM191.6 106.1h1.4v1.4h-1.4zM200.5 107.0h1.4v1.4h-1.4zM199.7 106.9h1.4v1.4h-1.4zM171.1 108.2h1.4v1.4h-1.4zM174.5 102.6h1.4v1.4h-1.4zM204.8 106.7h1.4v1.4h-1.4zM177.7 111.3h1.4v1.4h-1.4zM183.7 111.5h1.4v1.4h-1.4zM200.9 108.9h1.4v1.4h-1.4zM187.9 105.7h1.4v1.4h-1.4zM199.2 103.4h1.4v1.4h-1.4zM180.5 112.5h1.4v1.4h-1.4zM196.7 109.1h1.4v1.4h-1.4zM207.7 105.1h1.4v1.4h-1.4zM197.1 97.7h1.4v1.4h-1.4zM201.6 98.7h1.4v1.4h-1.4zM193.4 112.2h1.4v1.4h-1.4zM179.9 107.7h1.4v1.4h-1.4zM212.0 103.7h1.4v1.4h-1.4zM168.2 105.7h1.4v1.4h-1.4zM183.7 112.1h1.4v1.4h-1.4zM214.5 101.1h1.4v1.4h-1.4zM191.9 106.3h1.4v1.4h-1.4zM174.0 101.6h1.4v1.4h-1.4zM193.9 99.5h1.4v1.4h-1.4zM197.2 107.6h1.4v1.4h-1.4zM207.3 113.6h1.4v1.4h-1.4zM180.0 107.1h1.4v1.4h-1.4zM199.4 105.3h1.4v1.4h-1.4zM202.8 107.8h1.4v1.4h-1.4zM188.8 111.4h1.4v1.4h-1.4zM179.5 100.6h1.4v1.4h-1.4zM179.2 98.8h1.4v1.4h-1.4zM203.0 115.0h1.4v1.4h-1.4zM203.7 108.1h1.4v1.4h-1.4zM181.0 113.8h1.4v1.4h-1.4zM173.9 107.9h1.4v1.4h-1.4zM209.8 113.3h1.4v1.4h-1.4zM170.9 104.3h1.4v1.4h-1.4zM194.8 109.1h1.4v1.4h-1.4zM181.3 113.6h1.4v1.4h-1.4zM194.3 104.9h1.4v1.4h-1.4zM189.9 110.8h1.4v1.4h-1.4zM212.6 104.0h1.4v1.4h-1.4zM189.9 109.2h1.4v1.4h-1.4zM206.8 113.0h1.4v1.4h-1.4zM207.1 110.6h1.4v1.4h-1.4zM185.2 101.4h1.4v1.4h-1.4zM180.4 110.7h1.4v1.4h-1.4zM215.0 109.9h1.4v1.4h-1.4zM187.4 104.9h1.4v1.4h-1.4zM188.5 111.3h1.4v1.4h-1.4zM190.7 110.8h1.4v1.4h-1.4zM184.1 109.1h1.4v1.4h-1.4zM202.9 99.4h1.4v1.4h-1.4zM210.0 100.4h1.4v1.4h-1.4zM187.3 111.3h1.4v1.4h-1.4zM173.3 110.4h1.4v1.4h-1.4zM193.2 109.1h1.4v1.4h-1.4zM171.8 105.8h1.4v1.4h-1.4zM183.6 108.6h1.4v1.4h-1.4zM209.7 104.5h1.4v1.4h-1.4zM197.8 103.1h1.4v1.4h-1.4zM177.7 108.0h1.4v1.4h-1.4zM203.4 105.1h1.4v1.4h-1.4zM182.8 110.0h1.4v1.4h-1.4zM213.7 103.3h1.4v1.4h-1.4zM202.9 114.9h1.4v1.4h-1.4zM173.3 102.0h1.4v1.4h-1.4zM169.3 108.9h1.4v1.4h-1.4zM204.4 111.6h1.4v1.4h-1.4zM191.9 112.5h1.4v1.4h-1.4zM198.3 111.3h1.4v1.4h-1.4zM184.5 112.2h1.4v1.4h-1.4zM183.5 103.9h1.4v1.4h-1.4zM178.5 106.5h1.4v1.4h-1.4zM173.9 104.9h1.4v1.4h-1.4zM196.0 112.8h1.4v1.4h-1.4zM181.3 103.9h1.4v1.4h-1.4zM201.2 112.3h1.4v1.4h-1.4zM188.8 109.4h1.4v1.4h-1.4zM207.6 100.5h1.4v1.4h-1.4zM187.1 102.5h1.4v1.4h-1.4zM183.4 104.8h1.4v1.4h-1.4zM177.2 111.3h1.4v1.4h-1.4zM202.6 106.1h1.4v1.4h-1.4zM175.1 100.0h1.4v1.4h-1.4zM197.2 105.4h1.4v1.4h-1.4zM199.2 108.9h1.4v1.4h-1.4zM183.1 105.3h1.4v1.4h-1.4zM193.6 102.5h1.4v1.4h-1.4zM170.1 108.8h1.4v1.4h-1.4zM188.4 115.4h1.4v1.4h-1.4zM205.1 106.4h1.4v1.4h-1.4zM215.3 103.7h1.4v1.4h-1.4zM190.2 103.2h1.4v1.4h-1.4zM188.9 115.6h1.4v1.4h-1.4zM198.8 106.7h1.4v1.4h-1.4zM207.9 109.6h1.4v1.4h-1.4zM199.3 112.3h1.4v1.4h-1.4zM182.1 111.6h1.4v1.4h-1.4zM197.5 102.8h1.4v1.4h-1.4zM206.0 111.1h1.4v1.4h-1.4zM182.6 110.6h1.4v1.4h-1.4zM173.9 109.1h1.4v1.4h-1.4zM199.6 111.3h1.4v1.4h-1.4zM197.6 104.4h1.4v1.4h-1.4zM206.0 106.6h1.4v1.4h-1.4zM193.8 104.6h1.4v1.4h-1.4zM183.6 110.2h1.4v1.4h-1.4zM186.5 104.0h1.4v1.4h-1.4zM178.2 108.6h1.4v1.4h-1.4zM179.4 102.1h1.4v1.4h-1.4zM184.7 106.4h1.4v1.4h-1.4zM185.8 105.3h1.4v1.4h-1.4zM208.1 106.4h1.4v1.4h-1.4zM175.5 107.5h1.4v1.4h-1.4zM191.9 106.1h1.4v1.4h-1.4zM184.4 105.9h1.4v1.4h-1.4zM196.2 111.8h1.4v1.4h-1.4zM187.4 104.2h1.4v1.4h-1.4zM203.9 105.8h1.4v1.4h-1.4zM193.5 103.3h1.4v1.4h-1.4zM186.0 111.3h1.4v1.4h-1.4zM214.0 102.9h1.4v1.4h-1.4zM202.5 109.1h1.4v1.4h-1.4zM216.7 112.1h1.4v1.4h-1.4zM208.7 114.1h1.4v1.4h-1.4zM203.4 112.1h1.4v1.4h-1.4zM194.5 109.6h1.4v1.4h-1.4zM177.5 101.6h1.4v1.4h-1.4zM202.5 112.6h1.4v1.4h-1.4zM193.7 112.1h1.4v1.4h-1.4zM202.1 110.6h1.4v1.4h-1.4zM192.5 110.4h1.4v1.4h-1.4zM183.1 107.2h1.4v1.4h-1.4zM178.7 104.7h1.4v1.4h-1.4zM202.4 111.7h1.4v1.4h-1.4zM210.7 112.5h1.4v1.4h-1.4zM188.7 102.4h1.4v1.4h-1.4zM199.0 110.9h1.4v1.4h-1.4zM211.9 108.0h1.4v1.4h-1.4zM181.1 110.8h1.4v1.4h-1.4zM188.0 108.1h1.4v1.4h-1.4zM177.1 111.8h1.4v1.4h-1.4zM209.1 111.4h1.4v1.4h-1.4zM196.3 110.8h1.4v1.4h-1.4zM186.3 100.9h1.4v1.4h-1.4zM169.7 110.6h1.4v1.4h-1.4zM190.2 107.2h1.4v1.4h-1.4zM206.6 102.0h1.4v1.4h-1.4zM188.6 110.1h1.4v1.4h-1.4zM186.8 101.0h1.4v1.4h-1.4zM201.6 110.9h1.4v1.4h-1.4zM193.5 104.8h1.4v1.4h-1.4zM201.1 111.0h1.4v1.4h-1.4zM181.9 108.9h1.4v1.4h-1.4zM181.2 109.8h1.4v1.4h-1.4zM196.2 101.1h1.4v1.4h-1.4zM191.4 109.6h1.4v1.4h-1.4zM189.5 107.6h1.4v1.4h-1.4zM195.6 110.2h1.4v1.4h-1.4zM195.8 107.0h1.4v1.4h-1.4zM179.9 111.8h1.4v1.4h-1.4zM183.5 108.2h1.4v1.4h-1.4zM199.0 110.0h1.4v1.4h-1.4zM208.4 113.0h1.4v1.4h-1.4zM211.6 107.8h1.4v1.4h-1.4zM181.0 111.3h1.4v1.4h-1.4zM208.0 108.0h1.4v1.4h-1.4zM203.3 109.3h1.4v1.4h-1.4zM192.4 104.7h1.4v1.4h-1.4zM199.6 110.4h1.4v1.4h-1.4zM204.3 112.4h1.4v1.4h-1.4zM217.6 106.7h1.4v1.4h-1.4zM178.1 110.5h1.4v1.4h-1.4zM201.2 108.9h1.4v1.4h-1.4zM190.9 102.2h1.4v1.4h-1.4zM189.9 108.6h1.4v1.4h-1.4zM208.7 112.8h1.4v1.4h-1.4zM204.2 104.9h1.4v1.4h-1.4zM178.7 99.3h1.4v1.4h-1.4zM188.9 107.9h1.4v1.4h-1.4zM196.0 104.2h1.4v1.4h-1.4zM204.8 106.9h1.4v1.4h-1.4zM191.8 107.0h1.4v1.4h-1.4zM195.1 104.3h1.4v1.4h-1.4zM197.5 108.1h1.4v1.4h-1.4zM217.9 104.6h1.4v1.4h-1.4zM193.4 103.1h1.4v1.4h-1.4zM187.9 106.8h1.4v1.4h-1.4zM217.0 103.5h1.4v1.4h-1.4zM185.9 112.8h1.4v1.4h-1.4zM185.6 102.0h1.4v1.4h-1.4zM173.6 106.7h1.4v1.4h-1.4zM207.9 104.1h1.4v1.4h-1.4zM196.6 101.1h1.4v1.4h-1.4zM199.4 114.2h1.4v1.4h-1.4zM195.2 98.0h1.4v1.4h-1.4zM191.0 113.3h1.4v1.4h-1.4zM182.0 101.0h1.4v1.4h-1.4zM182.1 107.4h1.4v1.4h-1.4zM194.6 97.9h1.4v1.4h-1.4zM215.5 101.1h1.4v1.4h-1.4zM182.4 112.7h1.4v1.4h-1.4zM186.1 107.8h1.4v1.4h-1.4zM178.8 104.7h1.4v1.4h-1.4zM212.0 106.9h1.4v1.4h-1.4zM175.8 102.9h1.4v1.4h-1.4zM203.6 107.6h1.4v1.4h-1.4zM212.8 113.5h1.4v1.4h-1.4zM191.0 105.4h1.4v1.4h-1.4zM202.9 107.7h1.4v1.4h-1.4zM187.6 115.6h1.4v1.4h-1.4zM169.9 104.5h1.4v1.4h-1.4zM195.3 108.4h1.4v1.4h-1.4zM193.0 104.6h1.4v1.4h-1.4zM182.3 104.3h1.4v1.4h-1.4zM206.0 105.3h1.4v1.4h-1.4zM197.8 104.3h1.4v1.4h-1.4zM185.7 99.6h1.4v1.4h-1.4zM185.8 98.5h1.4v1.4h-1.4zM172.6 103.9h1.4v1.4h-1.4zM190.4 107.6h1.4v1.4h-1.4zM183.1 104.8h1.4v1.4h-1.4zM198.8 106.3h1.4v1.4h-1.4zM185.3 109.9h1.4v1.4h-1.4zM204.1 110.2h1.4v1.4h-1.4zM199.0 106.6h1.4v1.4h-1.4zM189.7 106.8h1.4v1.4h-1.4zM185.8 105.6h1.4v1.4h-1.4zM209.6 104.9h1.4v1.4h-1.4zM189.6 100.0h1.4v1.4h-1.4zM201.7 108.9h1.4v1.4h-1.4zM186.3 105.9h1.4v1.4h-1.4zM198.8 105.6h1.4v1.4h-1.4zM197.4 110.6h1.4v1.4h-1.4zM184.9 111.1h1.4v1.4h-1.4zM187.8 114.2h1.4v1.4h-1.4zM197.0 101.4h1.4v1.4h-1.4zM184.8 113.8h1.4v1.4h-1.4zM197.7 107.1h1.4v1.4h-1.4zM190.1 106.6h1.4v1.4h-1.4zM191.0 105.4h1.4v1.4h-1.4zM184.7 105.6h1.4v1.4h-1.4zM198.5 109.3h1.4v1.4h-1.4zM186.2 107.3h1.4v1.4h-1.4zM200.4 103.0h1.4v1.4h-1.4zM208.1 106.8h1.4v1.4h-1.4zM171.6 108.7h1.4v1.4h-1.4zM182.9 105.4h1.4v1.4h-1.4zM205.6 114.4h1.4v1.4h-1.4zM189.4 103.6h1.4v1.4h-1.4zM181.8 106.4h1.4v1.4h-1.4zM191.7 104.7h1.4v1.4h-1.4zM200.0 106.0h1.4v1.4h-1.4zM196.6 110.2h1.4v1.4h-1.4zM201.9 109.5h1.4v1.4h-1.4zM181.6 103.9h1.4v1.4h-1.4zM189.2 106.5h1.4v1.4h-1.4zM189.5 107.4h1.4v1.4h-1.4zM192.7 105.3h1.4v1.4h-1.4zM189.7 104.0h1.4v1.4h-1.4zM174.4 103.9h1.4v1.4h-1.4zM212.2 107.2h1.4v1.4h-1.4zM214.5 102.6h1.4v1.4h-1.4zM216.3 108.8h1.4v1.4h-1.4zM204.2 106.2h1.4v1.4h-1.4zM186.3 103.1h1.4v1.4h-1.4zM206.3 104.4h1.4v1.4h-1.4zM190.3 105.0h1.4v1.4h-1.4zM201.5 106.4h1.4v1.4h-1.4zM180.5 107.5h1.4v1.4h-1.4zM184.9 106.1h1.4v1.4h-1.4zM199.5 103.3h1.4v1.4h-1.4zM217.6 113.2h1.4v1.4h-1.4zM192.7 110.9h1.4v1.4h-1.4zM224.2 107.5h1.4v1.4h-1.4zM175.3 108.4h1.4v1.4h-1.4zM192.7 105.9h1.4v1.4h-1.4zM179.9 107.4h1.4v1.4h-1.4zM185.7 111.3h1.4v1.4h-1.4zM192.1 111.5h1.4v1.4h-1.4zM206.4 105.3h1.4v1.4h-1.4zM206.1 109.6h1.4v1.4h-1.4zM193.1 108.9h1.4v1.4h-1.4zM194.7 111.6h1.4v1.4h-1.4zM194.8 112.4h1.4v1.4h-1.4zM201.0 109.8h1.4v1.4h-1.4zM193.2 113.8h1.4v1.4h-1.4zM200.0 108.0h1.4v1.4h-1.4zM175.0 109.2h1.4v1.4h-1.4zM204.1 104.3h1.4v1.4h-1.4zM195.6 108.3h1.4v1.4h-1.4zM173.5 107.5h1.4v1.4h-1.4zM211.8 113.0h1.4v1.4h-1.4zM188.5 104.9h1.4v1.4h-1.4zM190.1 103.7h1.4v1.4h-1.4zM201.5 107.1h1.4v1.4h-1.4zM198.4 105.4h1.4v1.4h-1.4zM210.3 109.3h1.4v1.4h-1.4zM201.7 106.5h1.4v1.4h-1.4zM194.8 104.5h1.4v1.4h-1.4zM177.7 106.5h1.4v1.4h-1.4zM195.6 104.8h1.4v1.4h-1.4zM202.5 111.0h1.4v1.4h-1.4zM178.9 109.9h1.4v1.4h-1.4zM184.6 107.6h1.4v1.4h-1.4zM199.6 102.0h1.4v1.4h-1.4zM166.7 109.2h1.4v1.4h-1.4zM189.9 107.8h1.4v1.4h-1.4zM196.6 107.2h1.4v1.4h-1.4zM186.5 104.5h1.4v1.4h-1.4zM193.4 104.1h1.4v1.4h-1.4zM202.2 105.9h1.4v1.4h-1.4zM191.7 106.1h1.4v1.4h-1.4zM196.8 111.1h1.4v1.4h-1.4zM202.0 108.8h1.4v1.4h-1.4zM185.8 111.5h1.4v1.4h-1.4zM204.6 101.8h1.4v1.4h-1.4zM210.4 102.4h1.4v1.4h-1.4zM211.6 106.8h1.4v1.4h-1.4zM184.4 105.8h1.4v1.4h-1.4zM205.8 107.7h1.4v1.4h-1.4zM196.9 111.2h1.4v1.4h-1.4zM179.5 102.0h1.4v1.4h-1.4zM192.0 108.2h1.4v1.4h-1.4zM185.8 106.9h1.4v1.4h-1.4zM185.5 109.9h1.4v1.4h-1.4zM194.3 107.8h1.4v1.4h-1.4zM207.9 104.8h1.4v1.4h-1.4zM188.7 103.3h1.4v1.4h-1.4zM172.8 111.2h1.4v1.4h-1.4zM194.6 100.8h1.4v1.4h-1.4zM209.1 105.3h1.4v1.4h-1.4zM204.4 114.1h1.4v1.4h-1.4zM199.7 105.2h1.4v1.4h-1.4zM185.8 109.6h1.4v1.4h-1.4zM179.6 106.1h1.4v1.4h-1.4zM191.8 110.0h1.4v1.4h-1.4zM174.6 107.1h1.4v1.4h-1.4zM176.0 104.9h1.4v1.4h-1.4zM206.2 112.7h1.4v1.4h-1.4zM180.4 105.9h1.4v1.4h-1.4zM218.0 101.3h1.4v1.4h-1.4zM173.3 105.6h1.4v1.4h-1.4zM199.1 109.3h1.4v1.4h-1.4zM176.9 102.3h1.4v1.4h-1.4zM195.6 110.3h1.4v1.4h-1.4zM178.7 110.3h1.4v1.4h-1.4zM193.7 116.0h1.4v1.4h-1.4zM191.0 104.3h1.4v1.4h-1.4zM186.9 109.8h1.4v1.4h-1.4zM200.2 99.9h1.4v1.4h-1.4zM214.1 105.2h1.4v1.4h-1.4zM184.9 107.5h1.4v1.4h-1.4zM205.4 108.7h1.4v1.4h-1.4zM194.3 106.8h1.4v1.4h-1.4zM192.7 106.6h1.4v1.4h-1.4zM223.5 104.4h1.4v1.4h-1.4zM183.7 108.3h1.4v1.4h-1.4zM168.0 109.4h1.4v1.4h-1.4zM188.8 109.7h1.4v1.4h-1.4zM190.0 111.2h1.4v1.4h-1.4zM197.9 99.4h1.4v1.4h-1.4zM218.0 104.8h1.4v1.4h-1.4zM211.1 106.3h1.4v1.4h-1.4zM187.0 104.3h1.4v1.4h-1.4zM199.8 111.4h1.4v1.4h-1.4zM216.3 110.2h1.4v1.4h-1.4zM195.5 106.6h1.4v1.4h-1.4zM196.0 107.5h1.4v1.4h-1.4zM200.1 112.3h1.4v1.4h-1.4zM172.3 105.5h1.4v1.4h-1.4zM181.9 105.7h1.4v1.4h-1.4zM197.8 110.8h1.4v1.4h-1.4zM200.7 109.0h1.4v1.4h-1.4zM180.4 113.0h1.4v1.4h-1.4zM188.6 108.6h1.4v1.4h-1.4zM191.4 110.2h1.4v1.4h-1.4zM191.0 104.7h1.4v1.4h-1.4zM202.7 103.0h1.4v1.4h-1.4zM194.6 107.0h1.4v1.4h-1.4zM173.5 108.7h1.4v1.4h-1.4zM178.5 111.1h1.4v1.4h-1.4zM197.6 107.3h1.4v1.4h-1.4zM171.0 106.1h1.4v1.4h-1.4zM196.9 111.6h1.4v1.4h-1.4zM183.9 106.8h1.4v1.4h-1.4zM181.8 111.1h1.4v1.4h-1.4zM183.7 110.1h1.4v1.4h-1.4zM181.2 111.0h1.4v1.4h-1.4zM183.7 109.1h1.4v1.4h-1.4zM193.9 108.1h1.4v1.4h-1.4zM192.8 111.6h1.4v1.4h-1.4zM189.7 100.2h1.4v1.4h-1.4zM206.3 105.9h1.4v1.4h-1.4zM187.9 109.8h1.4v1.4h-1.4zM211.5 106.6h1.4v1.4h-1.4zM177.9 104.1h1.4v1.4h-1.4zM192.2 108.9h1.4v1.4h-1.4zM174.0 110.7h1.4v1.4h-1.4zM177.8 113.1h1.4v1.4h-1.4zM186.1 109.1h1.4v1.4h-1.4zM204.9 104.0h1.4v1.4h-1.4zM204.7 108.1h1.4v1.4h-1.4zM184.7 109.4h1.4v1.4h-1.4zM200.0 113.0h1.4v1.4h-1.4zM187.8 98.0h1.4v1.4h-1.4zM194.5 108.6h1.4v1.4h-1.4zM195.1 99.3h1.4v1.4h-1.4zM201.6 110.0h1.4v1.4h-1.4zM184.4 108.9h1.4v1.4h-1.4zM191.1 109.1h1.4v1.4h-1.4zM196.0 110.7h1.4v1.4h-1.4zM194.2 108.6h1.4v1.4h-1.4zM181.9 104.3h1.4v1.4h-1.4zM216.9 108.5h1.4v1.4h-1.4zM186.5 112.1h1.4v1.4h-1.4zM203.5 106.5h1.4v1.4h-1.4zM195.8 107.1h1.4v1.4h-1.4zM209.9 101.9h1.4v1.4h-1.4zM221.4 104.9h1.4v1.4h-1.4zM189.9 103.9h1.4v1.4h-1.4zM175.8 105.1h1.4v1.4h-1.4zM194.7 103.4h1.4v1.4h-1.4zM224.3 106.0h1.4v1.4h-1.4zM199.9 112.4h1.4v1.4h-1.4zM175.8 110.3h1.4v1.4h-1.4zM186.5 113.0h1.4v1.4h-1.4zM211.5 113.3h1.4v1.4h-1.4zM173.4 103.3h1.4v1.4h-1.4zM190.4 109.0h1.4v1.4h-1.4zM188.8 113.3h1.4v1.4h-1.4zM188.8 101.1h1.4v1.4h-1.4zM211.2 101.0h1.4v1.4h-1.4zM183.5 109.0h1.4v1.4h-1.4zM181.7 105.6h1.4v1.4h-1.4zM206.8 102.8h1.4v1.4h-1.4zM201.5 108.6h1.4v1.4h-1.4zM168.8 103.7h1.4v1.4h-1.4zM201.8 97.5h1.4v1.4h-1.4zM201.8 106.9h1.4v1.4h-1.4zM184.3 107.5h1.4v1.4h-1.4zM195.9 109.7h1.4v1.4h-1.4zM196.6 111.0h1.4v1.4h-1.4zM186.1 107.8h1.4v1.4h-1.4zM184.7 106.0h1.4v1.4h-1.4zM183.5 104.2h1.4v1.4h-1.4zM189.1 100.1h1.4v1.4h-1.4zM174.4 105.2h1.4v1.4h-1.4zM192.3 111.2h1.4v1.4h-1.4zM172.1 109.7h1.4v1.4h-1.4zM193.9 115.6h1.4v1.4h-1.4zM191.7 106.4h1.4v1.4h-1.4zM178.4 99.5h1.4v1.4h-1.4zM204.7 110.5h1.4v1.4h-1.4zM219.8 111.4h1.4v1.4h-1.4zM211.3 102.1h1.4v1.4h-1.4zM173.8 100.2h1.4v1.4h-1.4zM210.5 107.6h1.4v1.4h-1.4zM195.9 110.0h1.4v1.4h-1.4zM192.1 102.3h1.4v1.4h-1.4zM184.6 105.6h1.4v1.4h-1.4zM192.7 103.7h1.4v1.4h-1.4zM212.1 102.0h1.4v1.4h-1.4zM200.4 101.5h1.4v1.4h-1.4zM187.1 107.6h1.4v1.4h-1.4zM183.5 105.4h1.4v1.4h-1.4zM187.0 104.2h1.4v1.4h-1.4zM178.1 103.0h1.4v1.4h-1.4zM192.8 106.4h1.4v1.4h-1.4zM187.5 102.2h1.4v1.4h-1.4zM182.4 108.6h1.4v1.4h-1.4zM198.4 100.6h1.4v1.4h-1.4zM200.5 107.4h1.4v1.4h-1.4zM173.1 106.2h1.4v1.4h-1.4zM178.4 110.8h1.4v1.4h-1.4zM209.4 102.4h1.4v1.4h-1.4zM197.2 104.2h1.4v1.4h-1.4zM200.1 106.0h1.4v1.4h-1.4zM185.9 115.8h1.4v1.4h-1.4zM187.5 100.8h1.4v1.4h-1.4zM199.2 108.2h1.4v1.4h-1.4zM185.9 104.2h1.4v1.4h-1.4zM177.4 108.3h1.4v1.4h-1.4zM192.8 109.7h1.4v1.4h-1.4zM205.4 107.5h1.4v1.4h-1.4zM178.5 108.1h1.4v1.4h-1.4zM207.5 108.1h1.4v1.4h-1.4zM202.6 104.5h1.4v1.4h-1.4zM180.8 106.0h1.4v1.4h-1.4zM192.9 100.0h1.4v1.4h-1.4zM192.2 105.5h1.4v1.4h-1.4zM201.6 103.7h1.4v1.4h-1.4zM202.1 105.9h1.4v1.4h-1.4zM174.8 110.0h1.4v1.4h-1.4zM174.1 108.5h1.4v1.4h-1.4zM207.1 108.9h1.4v1.4h-1.4zM194.4 111.6h1.4v1.4h-1.4zM198.6 96.9h1.4v1.4h-1.4zM197.5 108.7h1.4v1.4h-1.4zM214.1 106.8h1.4v1.4h-1.4zM176.1 106.5h1.4v1.4h-1.4zM207.9 101.4h1.4v1.4h-1.4zM181.5 109.2h1.4v1.4h-1.4zM202.9 111.8h1.4v1.4h-1.4zM211.4 111.2h1.4v1.4h-1.4zM173.7 106.6h1.4v1.4h-1.4zM198.4 109.6h1.4v1.4h-1.4zM189.0 110.8h1.4v1.4h-1.4zM188.8 114.6h1.4v1.4h-1.4zM193.4 112.1h1.4v1.4h-1.4zM178.3 107.5h1.4v1.4h-1.4zM179.5 107.3h1.4v1.4h-1.4zM201.9 107.6h1.4v1.4h-1.4zM204.5 107.9h1.4v1.4h-1.4zM185.0 104.8h1.4v1.4h-1.4zM172.7 110.2h1.4v1.4h-1.4zM208.0 103.6h1.4v1.4h-1.4zM197.8 108.4h1.4v1.4h-1.4zM178.6 104.5h1.4v1.4h-1.4zM184.8 105.9h1.4v1.4h-1.4zM196.2 98.2h1.4v1.4h-1.4zM179.5 110.3h1.4v1.4h-1.4zM215.0 106.9h1.4v1.4h-1.4zM194.7 106.4h1.4v1.4h-1.4zM198.3 108.9h1.4v1.4h-1.4zM178.6 107.8h1.4v1.4h-1.4zM180.3 104.0h1.4v1.4h-1.4zM181.9 115.3h1.4v1.4h-1.4zM196.6 105.0h1.4v1.4h-1.4zM189.2 111.0h1.4v1.4h-1.4zM188.8 114.6h1.4v1.4h-1.4zM197.2 104.3h1.4v1.4h-1.4zM195.9 107.3h1.4v1.4h-1.4zM213.3 103.5h1.4v1.4h-1.4zM190.1 111.3h1.4v1.4h-1.4zM178.8 105.5h1.4v1.4h-1.4zM192.7 102.3h1.4v1.4h-1.4zM213.0 112.4h1.4v1.4h-1.4zM185.2 110.8h1.4v1.4h-1.4zM193.5 103.2h1.4v1.4h-1.4zM187.9 111.9h1.4v1.4h-1.4zM198.4 107.7h1.4v1.4h-1.4zM181.6 114.1h1.4v1.4h-1.4zM189.7 104.6h1.4v1.4h-1.4zM205.8 105.8h1.4v1.4h-1.4zM207.9 103.2h1.4v1.4h-1.4zM205.5 107.5h1.4v1.4h-1.4zM204.7 107.1h1.4v1.4h-1.4zM188.2 110.0h1.4v1.4h-1.4zM187.8 107.3h1.4v1.4h-1.4zM205.6 100.7h1.4v1.4h-1.4zM176.7 103.5h1.4v1.4h-1.4zM192.0 112.8h1.4v1.4h-1.4zM187.6 106.2h1.4v1.4h-1.4zM183.1 106.3h1.4v1.4h-1.4zM176.2 106.2h1.4v1.4h-1.4zM200.8 107.0h1.4v1.4h-1.4zM182.7 99.9h1.4v1.4h-1.4zM187.8 110.7h1.4v1.4h-1.4zM189.3 104.1h1.4v1.4h-1.4zM182.7 107.5h1.4v1.4h-1.4zM186.0 107.9h1.4v1.4h-1.4zM195.5 112.5h1.4v1.4h-1.4zM186.3 113.3h1.4v1.4h-1.4zM188.4 108.9h1.4v1.4h-1.4zM188.6 103.8h1.4v1.4h-1.4zM184.8 100.2h1.4v1.4h-1.4zM194.8 111.8h1.4v1.4h-1.4zM214.3 108.0h1.4v1.4h-1.4zM191.0 109.4h1.4v1.4h-1.4zM190.9 105.8h1.4v1.4h-1.4zM187.5 103.6h1.4v1.4h-1.4zM215.0 102.9h1.4v1.4h-1.4zM200.5 110.7h1.4v1.4h-1.4zM202.5 99.9h1.4v1.4h-1.4zM183.1 103.0h1.4v1.4h-1.4zM190.8 100.8h1.4v1.4h-1.4zM195.7 112.4h1.4v1.4h-1.4zM194.5 99.5h1.4v1.4h-1.4zM181.1 102.1h1.4v1.4h-1.4zM182.1 109.7h1.4v1.4h-1.4zM199.9 107.9h1.4v1.4h-1.4zM194.1 109.5h1.4v1.4h-1.4zM210.3 109.8h1.4v1.4h-1.4zM184.0 99.2h1.4v1.4h-1.4zM196.2 103.2h1.4v1.4h-1.4zM172.9 105.5h1.4v1.4h-1.4zM204.3 106.2h1.4v1.4h-1.4zM177.6 101.1h1.4v1.4h-1.4zM175.7 103.0h1.4v1.4h-1.4zM188.5 103.3h1.4v1.4h-1.4zM184.5 108.7h1.4v1.4h-1.4zM175.5 105.5h1.4v1.4h-1.4zM199.2 105.7h1.4v1.4h-1.4zM196.0 108.1h1.4v1.4h-1.4zM215.6 104.0h1.4v1.4h-1.4zM175.5 105.8h1.4v1.4h-1.4zM188.5 109.7h1.4v1.4h-1.4zM198.1 110.9h1.4v1.4h-1.4zM197.8 108.4h1.4v1.4h-1.4zM207.8 108.9h1.4v1.4h-1.4zM172.4 108.4h1.4v1.4h-1.4zM181.5 115.5h1.4v1.4h-1.4zM191.1 107.8h1.4v1.4h-1.4zM204.4 101.3h1.4v1.4h-1.4zM199.4 102.5h1.4v1.4h-1.4zM187.1 109.9h1.4v1.4h-1.4zM178.9 111.4h1.4v1.4h-1.4zM205.0 110.1h1.4v1.4h-1.4zM205.9 110.4h1.4v1.4h-1.4zM190.4 100.6h1.4v1.4h-1.4zM215.2 103.9h1.4v1.4h-1.4zM176.3 99.3h1.4v1.4h-1.4zM185.4 105.3h1.4v1.4h-1.4zM183.6 101.1h1.4v1.4h-1.4zM186.5 107.3h1.4v1.4h-1.4zM180.9 106.2h1.4v1.4h-1.4zM185.4 98.7h1.4v1.4h-1.4zM192.1 110.0h1.4v1.4h-1.4zM186.7 110.1h1.4v1.4h-1.4zM201.9 101.0h1.4v1.4h-1.4zM191.7 107.5h1.4v1.4h-1.4zM192.9 109.9h1.4v1.4h-1.4zM213.1 105.7h1.4v1.4h-1.4zM197.2 110.5h1.4v1.4h-1.4zM195.0 107.7h1.4v1.4h-1.4zM192.6 111.4h1.4v1.4h-1.4zM193.7 107.7h1.4v1.4h-1.4zM200.8 106.2h1.4v1.4h-1.4zM181.9 109.0h1.4v1.4h-1.4zM208.6 110.2h1.4v1.4h-1.4zM214.4 107.9h1.4v1.4h-1.4zM208.7 105.0h1.4v1.4h-1.4zM186.1 103.5h1.4v1.4h-1.4zM171.0 105.3h1.4v1.4h-1.4zM186.9 104.4h1.4v1.4h-1.4zM195.0 107.7h1.4v1.4h-1.4zM204.2 107.6h1.4v1.4h-1.4zM190.4 106.5h1.4v1.4h-1.4zM188.7 106.8h1.4v1.4h-1.4zM213.8 107.6h1.4v1.4h-1.4zM215.3 94.0h1.4v1.4h-1.4zM191.2 92.1h1.4v1.4h-1.4zM206.2 98.2h1.4v1.4h-1.4zM178.3 90.6h1.4v1.4h-1.4zM216.5 98.0h1.4v1.4h-1.4zM206.9 96.0h1.4v1.4h-1.4zM217.0 94.7h1.4v1.4h-1.4zM186.6 94.6h1.4v1.4h-1.4zM199.2 96.7h1.4v1.4h-1.4zM210.0 91.4h1.4v1.4h-1.4zM178.4 96.9h1.4v1.4h-1.4zM214.3 97.0h1.4v1.4h-1.4zM208.4 95.7h1.4v1.4h-1.4zM212.0 81.4h1.4v1.4h-1.4zM184.5 92.6h1.4v1.4h-1.4zM211.5 89.2h1.4v1.4h-1.4zM202.2 78.3h1.4v1.4h-1.4zM183.9 92.9h1.4v1.4h-1.4zM183.1 92.4h1.4v1.4h-1.4zM215.0 96.2h1.4v1.4h-1.4zM194.8 93.0h1.4v1.4h-1.4zM189.3 96.3h1.4v1.4h-1.4zM193.5 83.9h1.4v1.4h-1.4zM207.4 97.3h1.4v1.4h-1.4zM183.3 96.0h1.4v1.4h-1.4zM184.4 93.7h1.4v1.4h-1.4zM205.9 96.5h1.4v1.4h-1.4zM216.6 91.1h1.4v1.4h-1.4zM206.9 91.0h1.4v1.4h-1.4zM218.9 87.5h1.4v1.4h-1.4zM189.8 98.0h1.4v1.4h-1.4zM192.9 97.3h1.4v1.4h-1.4zM193.7 98.2h1.4v1.4h-1.4zM193.1 97.2h1.4v1.4h-1.4zM189.1 96.5h1.4v1.4h-1.4zM212.2 89.9h1.4v1.4h-1.4zM189.8 97.5h1.4v1.4h-1.4zM195.6 94.3h1.4v1.4h-1.4zM198.1 93.5h1.4v1.4h-1.4zM221.1 89.5h1.4v1.4h-1.4zM191.8 91.0h1.4v1.4h-1.4zM207.7 92.3h1.4v1.4h-1.4zM191.7 94.1h1.4v1.4h-1.4zM212.5 79.8h1.4v1.4h-1.4zM194.4 95.5h1.4v1.4h-1.4zM178.2 87.9h1.4v1.4h-1.4zM200.3 97.9h1.4v1.4h-1.4zM192.2 94.2h1.4v1.4h-1.4zM188.9 97.1h1.4v1.4h-1.4zM190.2 97.6h1.4v1.4h-1.4zM177.4 89.5h1.4v1.4h-1.4zM209.5 97.6h1.4v1.4h-1.4zM201.4 95.9h1.4v1.4h-1.4zM205.3 97.4h1.4v1.4h-1.4zM202.4 95.6h1.4v1.4h-1.4zM194.1 93.7h1.4v1.4h-1.4zM197.5 96.6h1.4v1.4h-1.4zM198.3 84.8h1.4v1.4h-1.4zM217.7 94.5h1.4v1.4h-1.4zM192.6 90.3h1.4v1.4h-1.4zM184.0 94.8h1.4v1.4h-1.4zM181.0 98.1h1.4v1.4h-1.4zM192.1 94.0h1.4v1.4h-1.4zM202.5 87.1h1.4v1.4h-1.4zM202.9 88.7h1.4v1.4h-1.4zM209.3 76.6h1.4v1.4h-1.4zM206.3 97.3h1.4v1.4h-1.4zM181.0 94.2h1.4v1.4h-1.4zM194.4 96.4h1.4v1.4h-1.4zM193.6 90.4h1.4v1.4h-1.4zM182.3 95.1h1.4v1.4h-1.4zM203.2 97.7h1.4v1.4h-1.4zM211.4 95.2h1.4v1.4h-1.4zM179.2 96.7h1.4v1.4h-1.4zM200.6 91.3h1.4v1.4h-1.4zM182.6 95.9h1.4v1.4h-1.4zM211.5 97.6h1.4v1.4h-1.4zM201.9 94.2h1.4v1.4h-1.4zM180.2 98.2h1.4v1.4h-1.4zM200.0 97.4h1.4v1.4h-1.4zM187.9 93.4h1.4v1.4h-1.4zM186.4 95.5h1.4v1.4h-1.4zM206.7 97.9h1.4v1.4h-1.4zM195.1 96.6h1.4v1.4h-1.4zM218.1 89.5h1.4v1.4h-1.4zM217.6 95.7h1.4v1.4h-1.4zM214.8 95.5h1.4v1.4h-1.4zM195.4 98.0h1.4v1.4h-1.4zM217.1 98.3h1.4v1.4h-1.4zM180.5 97.5h1.4v1.4h-1.4zM211.4 94.6h1.4v1.4h-1.4zM193.1 94.3h1.4v1.4h-1.4zM215.4 95.4h1.4v1.4h-1.4zM178.6 98.2h1.4v1.4h-1.4zM202.6 96.1h1.4v1.4h-1.4zM180.4 94.6h1.4v1.4h-1.4zM190.3 88.4h1.4v1.4h-1.4zM202.1 90.7h1.4v1.4h-1.4zM183.4 97.4h1.4v1.4h-1.4zM207.8 96.2h1.4v1.4h-1.4zM199.9 95.8h1.4v1.4h-1.4zM187.1 97.7h1.4v1.4h-1.4zM201.0 90.7h1.4v1.4h-1.4zM196.9 95.5h1.4v1.4h-1.4zM178.8 88.8h1.4v1.4h-1.4zM208.5 94.1h1.4v1.4h-1.4zM208.7 95.3h1.4v1.4h-1.4zM217.3 97.9h1.4v1.4h-1.4zM218.7 95.7h1.4v1.4h-1.4zM193.6 94.3h1.4v1.4h-1.4zM230.3 105.5h1.4v1.4h-1.4zM240.3 107.2h1.4v1.4h-1.4zM197.0 88.9h1.4v1.4h-1.4zM213.1 87.8h1.4v1.4h-1.4zM211.3 90.8h1.4v1.4h-1.4zM202.3 90.1h1.4v1.4h-1.4zM185.3 90.3h1.4v1.4h-1.4zM179.3 91.3h1.4v1.4h-1.4z" fill="#0000ff"/>
<path d="M186.5 107.3h1.5v1.5h-1.5zM168.4 105.5h1.5v1.5h-1.5zM182.1 103.2h1.5v1.5h-1.5zM198.2 106.6h1.5v1.5h-1.5zM199.4 106.6h1.5v1.5h-1.5zM201.6 110.2h1.5v1.5h-1.5zM184.9 103.3h1.5v1.5h-1.5zM187.2 111.3h1.5v1.5h-1.5zM188.7 107.0h1.5v1.5h-1.5zM193.3 110.5h1.5v1.5h-1.5zM181.1 104.0h1.5v1.5h-1.5zM199.1 108.0h1.5v1.5h-1.5zM189.8 110.6h1.5v1.5h-1.5zM199.7 107.3h1.5v1.5h-1.5zM191.7 102.5h1.5v1.5h-1.5zM194.1 105.9h1.5v1.5h-1.5zM177.2 108.5h1.5v1.5h-1.5zM180.9 102.7h1.5v1.5h-1.5zM170.4 102.6h1.5v1.5h-1.5zM182.4 107.6h1.5v1.5h-1.5zM183.8 104.1h1.5v1.5h-1.5zM196.0 109.0h1.5v1.5h-1.5zM170.8 103.4h1.5v1.5h-1.5zM184.5 104.6h1.5v1.5h-1.5zM201.0 111.4h1.5v1.5h-1.5zM198.4 104.3h1.5v1.5h-1.5zM182.8 107.7h1.5v1.5h-1.5zM203.6 104.1h1.5v1.5h-1.5zM195.2 107.5h1.5v1.5h-1.5zM174.9 108.3h1.5v1.5h-1.5zM180.3 101.9h1.5v1.5h-1.5zM188.6 101.7h1.5v1.5h-1.5zM188.3 106.4h1.5v1.5h-1.5zM178.2 106.2h1.5v1.5h-1.5zM176.9 109.1h1.5v1.5h-1.5zM194.3 111.4h1.5v1.5h-1.5zM190.0 106.1h1.5v1.5h-1.5zM192.6 108.3h1.5v1.5h-1.5zM185.3 111.5h1.5v1.5h-1.5zM177.2 104.5h1.5v1.5h-1.5zM189.0 108.8h1.5v1.5h-1.5zM204.1 106.2h1.5v1.5h-1.5zM188.2 105.9h1.5v1.5h-1.5zM196.6 109.4h1.5v1.5h-1.5zM183.2 104.6h1.5v1.5h-1.5zM216.1 103.7h1.5v1.5h-1.5zM192.9 106.9h1.5v1.5h-1.5zM192.4 106.1h1.5v1.5h-1.5zM189.1 106.5h1.5v1.5h-1.5zM172.5 108.4h1.5v1.5h-1.5zM172.2 105.8h1.5v1.5h-1.5zM183.1 109.2h1.5v1.5h-1.5zM187.1 108.2h1.5v1.5h-1.5zM171.3 111.4h1.5v1.5h-1.5zM173.1 110.7h1.5v1.5h-1.5zM192.6 109.5h1.5v1.5h-1.5zM198.2 106.3h1.5v1.5h-1.5zM179.1 107.3h1.5v1.5h-1.5zM177.5 105.2h1.5v1.5h-1.5zM215.6 106.3h1.5v1.5h-1.5zM191.7 108.6h1.5v1.5h-1.5zM185.0 111.0h1.5v1.5h-1.5zM197.9 102.9h1.5v1.5h-1.5zM213.4 104.5h1.5v1.5h-1.5zM199.9 105.8h1.5v1.5h-1.5zM168.7 104.0h1.5v1.5h-1.5zM184.8 103.1h1.5v1.5h-1.5zM181.0 105.4h1.5v1.5h-1.5zM181.7 110.8h1.5v1.5h-1.5zM171.2 109.1h1.5v1.5h-1.5zM181.1 107.1h1.5v1.5h-1.5zM172.8 107.0h1.5v1.5h-1.5zM189.9 102.0h1.5v1.5h-1.5zM186.3 109.0h1.5v1.5h-1.5zM168.8 108.2h1.5v1.5h-1.5zM180.0 107.6h1.5v1.5h-1.5zM193.6 106.4h1.5v1.5h-1.5zM191.7 105.4h1.5v1.5h-1.5zM185.0 104.0h1.5v1.5h-1.5zM179.8 104.1h1.5v1.5h-1.5zM176.9 108.3h1.5v1.5h-1.5zM181.7 108.1h1.5v1.5h-1.5zM171.1 107.9h1.5v1.5h-1.5zM180.6 106.4h1.5v1.5h-1.5zM177.8 105.7h1.5v1.5h-1.5zM218.4 113.1h1.5v1.5h-1.5zM194.2 101.4h1.5v1.5h-1.5zM183.4 110.5h1.5v1.5h-1.5zM185.2 108.0h1.5v1.5h-1.5zM184.3 107.2h1.5v1.5h-1.5zM188.0 105.4h1.5v1.5h-1.5zM180.9 106.3h1.5v1.5h-1.5zM185.6 103.4h1.5v1.5h-1.5zM198.1 102.8h1.5v1.5h-1.5zM195.8 106.6h1.5v1.5h-1.5zM189.5 102.0h1.5v1.5h-1.5zM201.8 109.5h1.5v1.5h-1.5zM188.5 110.3h1.5v1.5h-1.5zM177.4 107.8h1.5v1.5h-1.5zM185.0 107.6h1.5v1.5h-1.5zM190.6 107.3h1.5v1.5h-1.5zM198.7 108.2h1.5v1.5h-1.5zM178.9 109.2h1.5v1.5h-1.5zM176.1 109.6h1.5v1.5h-1.5zM195.0 112.3h1.5v1.5h-1.5zM199.9 107.0h1.5v1.5h-1.5zM180.0 109.6h1.5v1.5h-1.5zM189.8 102.1h1.5v1.5h-1.5zM202.3 106.6h1.5v1.5h-1.5zM189.6 103.3h1.5v1.5h-1.5zM185.1 111.1h1.5v1.5h-1.5zM201.7 108.6h1.5v1.5h-1.5z" fill="#ffe600"/>
<path d="M175.3 110.0h1.5v1.5h-1.5zM181.8 106.1h1.5v1.5h-1.5zM176.3 103.5h1.5v1.5h-1.5zM176.7 103.6h1.5v1.5h-1.5zM205.0 106.8h1.5v1.5h-1.5zM209.3 108.8h1.5v1.5h-1.5zM211.0 110.1h1.5v1.5h-1.5zM193.6 106.3h1.5v1.5h-1.5zM193.9 105.6h1.5v1.5h-1.5zM173.6 110.4h1.5v1.5h-1.5z" fill="#ff1a00"/>
<rect x="200.40" y="82.90" width="34.30" height="37.80" stroke="#6c6c6c" stroke-width="1.05" fill="none"/>
<text transform="translate(138.00,94.20) rotate(-90)" font-size="10.4" text-anchor="middle" fill="#000" color="#000">SSC-A</text>
<text x="160.60" y="143.80" font-size="9.75" text-anchor="start" font-weight="normal" fill="#000" color="#000" >HA probe</text>
<text x="246.90" y="47.25" font-size="9.6" text-anchor="end" font-weight="normal" fill="#000" color="#000" >34.2%</text>
<rect x="291.60" y="31.50" width="94.90" height="94.75" stroke="#959595" stroke-width="1.15" fill="none"/>
<line x1="289.40" y1="40.50" x2="291.60" y2="40.50" stroke="#222" stroke-width="0.9" />
<line x1="289.40" y1="61.80" x2="291.60" y2="61.80" stroke="#222" stroke-width="0.9" />
<line x1="289.40" y1="84.90" x2="291.60" y2="84.90" stroke="#222" stroke-width="0.9" />
<line x1="290.40" y1="77.95" x2="291.60" y2="77.95" stroke="#444" stroke-width="0.6" />
<line x1="290.40" y1="73.88" x2="291.60" y2="73.88" stroke="#444" stroke-width="0.6" />
<line x1="290.40" y1="70.99" x2="291.60" y2="70.99" stroke="#444" stroke-width="0.6" />
<line x1="290.40" y1="68.75" x2="291.60" y2="68.75" stroke="#444" stroke-width="0.6" />
<line x1="290.40" y1="66.92" x2="291.60" y2="66.92" stroke="#444" stroke-width="0.6" />
<line x1="290.40" y1="65.38" x2="291.60" y2="65.38" stroke="#444" stroke-width="0.6" />
<line x1="290.40" y1="64.04" x2="291.60" y2="64.04" stroke="#444" stroke-width="0.6" />
<line x1="290.40" y1="62.86" x2="291.60" y2="62.86" stroke="#444" stroke-width="0.6" />
<line x1="290.40" y1="55.39" x2="291.60" y2="55.39" stroke="#444" stroke-width="0.6" />
<line x1="290.40" y1="51.64" x2="291.60" y2="51.64" stroke="#444" stroke-width="0.6" />
<line x1="290.40" y1="48.98" x2="291.60" y2="48.98" stroke="#444" stroke-width="0.6" />
<line x1="290.40" y1="46.91" x2="291.60" y2="46.91" stroke="#444" stroke-width="0.6" />
<line x1="290.40" y1="45.23" x2="291.60" y2="45.23" stroke="#444" stroke-width="0.6" />
<line x1="290.40" y1="43.80" x2="291.60" y2="43.80" stroke="#444" stroke-width="0.6" />
<line x1="290.40" y1="42.56" x2="291.60" y2="42.56" stroke="#444" stroke-width="0.6" />
<line x1="290.40" y1="41.47" x2="291.60" y2="41.47" stroke="#444" stroke-width="0.6" />
<line x1="290.40" y1="34.09" x2="291.60" y2="34.09" stroke="#444" stroke-width="0.6" />
<line x1="290.40" y1="30.34" x2="291.60" y2="30.34" stroke="#444" stroke-width="0.6" />
<line x1="290.40" y1="90.90" x2="291.60" y2="90.90" stroke="#444" stroke-width="0.6" />
<line x1="290.40" y1="94.94" x2="291.60" y2="94.94" stroke="#444" stroke-width="0.6" />
<line x1="290.40" y1="98.99" x2="291.60" y2="98.99" stroke="#444" stroke-width="0.6" />
<line x1="290.40" y1="103.03" x2="291.60" y2="103.03" stroke="#444" stroke-width="0.6" />
<line x1="290.40" y1="107.08" x2="291.60" y2="107.08" stroke="#444" stroke-width="0.6" />
<line x1="290.40" y1="111.12" x2="291.60" y2="111.12" stroke="#444" stroke-width="0.6" />
<line x1="290.40" y1="115.16" x2="291.60" y2="115.16" stroke="#444" stroke-width="0.6" />
<line x1="290.40" y1="119.21" x2="291.60" y2="119.21" stroke="#444" stroke-width="0.6" />
<line x1="290.40" y1="123.25" x2="291.60" y2="123.25" stroke="#444" stroke-width="0.6" />
<line x1="289.40" y1="112.80" x2="291.60" y2="112.80" stroke="#000" stroke-width="1.6" />
<rect x="289.4" y="111.3" width="2.2" height="3" fill="#111"/>
<text x="288.1" y="42.1" font-size="4.5" text-anchor="end" fill="#444" style="stroke:none">10<tspan dy="-1.6" font-size="3.2">5</tspan></text>
<text x="288.1" y="63.4" font-size="4.5" text-anchor="end" fill="#444" style="stroke:none">10<tspan dy="-1.6" font-size="3.2">4</tspan></text>
<text x="288.1" y="86.5" font-size="4.5" text-anchor="end" fill="#444" style="stroke:none">10<tspan dy="-1.6" font-size="3.2">3</tspan></text>
<text x="287.1" y="114.4" font-size="4.5" text-anchor="end" fill="#444" style="stroke:none">0</text>
<line x1="300.20" y1="126.25" x2="300.20" y2="128.45" stroke="#222" stroke-width="0.9" />
<line x1="314.20" y1="126.25" x2="314.20" y2="128.45" stroke="#222" stroke-width="0.9" />
<line x1="330.80" y1="126.25" x2="330.80" y2="128.45" stroke="#222" stroke-width="0.9" />
<line x1="357.20" y1="126.25" x2="357.20" y2="128.45" stroke="#222" stroke-width="0.9" />
<line x1="380.20" y1="126.25" x2="380.20" y2="128.45" stroke="#222" stroke-width="0.9" />
<line x1="338.75" y1="126.25" x2="338.75" y2="127.45" stroke="#444" stroke-width="0.6" />
<line x1="343.40" y1="126.25" x2="343.40" y2="127.45" stroke="#444" stroke-width="0.6" />
<line x1="346.69" y1="126.25" x2="346.69" y2="127.45" stroke="#444" stroke-width="0.6" />
<line x1="349.25" y1="126.25" x2="349.25" y2="127.45" stroke="#444" stroke-width="0.6" />
<line x1="351.34" y1="126.25" x2="351.34" y2="127.45" stroke="#444" stroke-width="0.6" />
<line x1="353.11" y1="126.25" x2="353.11" y2="127.45" stroke="#444" stroke-width="0.6" />
<line x1="354.64" y1="126.25" x2="354.64" y2="127.45" stroke="#444" stroke-width="0.6" />
<line x1="355.99" y1="126.25" x2="355.99" y2="127.45" stroke="#444" stroke-width="0.6" />
<line x1="364.12" y1="126.25" x2="364.12" y2="127.45" stroke="#444" stroke-width="0.6" />
<line x1="368.17" y1="126.25" x2="368.17" y2="127.45" stroke="#444" stroke-width="0.6" />
<line x1="371.05" y1="126.25" x2="371.05" y2="127.45" stroke="#444" stroke-width="0.6" />
<line x1="373.28" y1="126.25" x2="373.28" y2="127.45" stroke="#444" stroke-width="0.6" />
<line x1="375.10" y1="126.25" x2="375.10" y2="127.45" stroke="#444" stroke-width="0.6" />
<line x1="376.64" y1="126.25" x2="376.64" y2="127.45" stroke="#444" stroke-width="0.6" />
<line x1="377.97" y1="126.25" x2="377.97" y2="127.45" stroke="#444" stroke-width="0.6" />
<line x1="379.15" y1="126.25" x2="379.15" y2="127.45" stroke="#444" stroke-width="0.6" />
<line x1="303.20" y1="126.25" x2="303.20" y2="127.45" stroke="#444" stroke-width="0.6" />
<line x1="306.27" y1="126.25" x2="306.27" y2="127.45" stroke="#444" stroke-width="0.6" />
<line x1="309.35" y1="126.25" x2="309.35" y2="127.45" stroke="#444" stroke-width="0.6" />
<line x1="312.42" y1="126.25" x2="312.42" y2="127.45" stroke="#444" stroke-width="0.6" />
<line x1="315.50" y1="126.25" x2="315.50" y2="127.45" stroke="#444" stroke-width="0.6" />
<line x1="318.57" y1="126.25" x2="318.57" y2="127.45" stroke="#444" stroke-width="0.6" />
<line x1="321.65" y1="126.25" x2="321.65" y2="127.45" stroke="#444" stroke-width="0.6" />
<line x1="324.72" y1="126.25" x2="324.72" y2="127.45" stroke="#444" stroke-width="0.6" />
<line x1="327.80" y1="126.25" x2="327.80" y2="127.45" stroke="#444" stroke-width="0.6" />
<rect x="311.0" y="126.2" width="4.0" height="1.9" fill="#111"/>
<text x="300.2" y="135.4" font-size="4.5" text-anchor="middle" fill="#444" style="stroke:none">-10<tspan dy="-1.6" font-size="3.2">3</tspan></text>
<text x="314.2" y="135.4" font-size="4.5" text-anchor="middle" fill="#444" style="stroke:none">0</text>
<text x="330.8" y="135.4" font-size="4.5" text-anchor="middle" fill="#444" style="stroke:none">10<tspan dy="-1.6" font-size="3.2">3</tspan></text>
<text x="357.2" y="135.4" font-size="4.5" text-anchor="middle" fill="#444" style="stroke:none">10<tspan dy="-1.6" font-size="3.2">4</tspan></text>
<text x="380.2" y="135.4" font-size="4.5" text-anchor="middle" fill="#444" style="stroke:none">10<tspan dy="-1.6" font-size="3.2">5</tspan></text>
<path d="M337.9 102.4h1.4v1.4h-1.4zM341.1 107.8h1.4v1.4h-1.4zM329.5 104.8h1.4v1.4h-1.4zM329.5 108.4h1.4v1.4h-1.4zM303.5 103.0h1.4v1.4h-1.4zM329.2 105.9h1.4v1.4h-1.4zM330.8 105.5h1.4v1.4h-1.4zM340.4 104.0h1.4v1.4h-1.4zM339.6 105.4h1.4v1.4h-1.4zM307.8 102.7h1.4v1.4h-1.4zM313.6 104.4h1.4v1.4h-1.4zM324.7 103.6h1.4v1.4h-1.4zM336.9 106.6h1.4v1.4h-1.4zM315.1 104.4h1.4v1.4h-1.4zM336.8 101.1h1.4v1.4h-1.4zM331.7 103.7h1.4v1.4h-1.4zM339.4 104.4h1.4v1.4h-1.4zM323.2 102.3h1.4v1.4h-1.4zM325.5 108.0h1.4v1.4h-1.4zM307.6 105.6h1.4v1.4h-1.4zM329.4 106.8h1.4v1.4h-1.4zM336.8 102.7h1.4v1.4h-1.4zM329.3 103.6h1.4v1.4h-1.4zM329.5 107.2h1.4v1.4h-1.4zM340.3 101.0h1.4v1.4h-1.4zM336.6 105.6h1.4v1.4h-1.4zM322.1 104.8h1.4v1.4h-1.4zM341.0 103.3h1.4v1.4h-1.4zM335.5 104.8h1.4v1.4h-1.4zM321.5 101.9h1.4v1.4h-1.4zM317.4 105.2h1.4v1.4h-1.4zM334.1 101.5h1.4v1.4h-1.4zM329.1 101.4h1.4v1.4h-1.4zM331.9 108.2h1.4v1.4h-1.4zM312.8 102.8h1.4v1.4h-1.4zM336.6 99.2h1.4v1.4h-1.4zM339.0 107.1h1.4v1.4h-1.4zM326.1 102.6h1.4v1.4h-1.4zM321.7 95.6h1.4v1.4h-1.4zM341.7 104.5h1.4v1.4h-1.4zM341.7 107.0h1.4v1.4h-1.4zM312.5 105.5h1.4v1.4h-1.4zM330.1 109.0h1.4v1.4h-1.4zM326.7 104.3h1.4v1.4h-1.4zM320.6 106.1h1.4v1.4h-1.4zM329.4 102.0h1.4v1.4h-1.4zM333.9 105.0h1.4v1.4h-1.4zM324.2 108.5h1.4v1.4h-1.4zM321.8 105.9h1.4v1.4h-1.4zM339.0 105.0h1.4v1.4h-1.4zM333.6 99.6h1.4v1.4h-1.4zM321.7 103.7h1.4v1.4h-1.4zM314.5 101.3h1.4v1.4h-1.4zM324.8 106.6h1.4v1.4h-1.4zM340.9 102.7h1.4v1.4h-1.4zM338.2 105.5h1.4v1.4h-1.4zM317.4 102.1h1.4v1.4h-1.4zM332.1 109.4h1.4v1.4h-1.4zM299.6 101.6h1.4v1.4h-1.4zM340.1 105.0h1.4v1.4h-1.4zM340.9 111.3h1.4v1.4h-1.4zM317.7 105.2h1.4v1.4h-1.4zM323.2 102.4h1.4v1.4h-1.4zM321.5 106.2h1.4v1.4h-1.4zM316.1 107.2h1.4v1.4h-1.4zM334.3 106.8h1.4v1.4h-1.4zM324.5 99.6h1.4v1.4h-1.4zM299.6 105.2h1.4v1.4h-1.4zM317.9 99.2h1.4v1.4h-1.4zM333.7 109.5h1.4v1.4h-1.4zM334.8 104.8h1.4v1.4h-1.4zM302.2 103.4h1.4v1.4h-1.4zM330.4 106.3h1.4v1.4h-1.4zM333.1 105.9h1.4v1.4h-1.4zM333.0 101.6h1.4v1.4h-1.4zM333.4 108.8h1.4v1.4h-1.4zM336.9 104.0h1.4v1.4h-1.4zM322.9 100.1h1.4v1.4h-1.4zM338.7 108.2h1.4v1.4h-1.4zM326.9 108.6h1.4v1.4h-1.4zM307.6 107.8h1.4v1.4h-1.4zM333.4 106.0h1.4v1.4h-1.4zM323.2 102.3h1.4v1.4h-1.4zM333.0 107.0h1.4v1.4h-1.4zM324.4 109.4h1.4v1.4h-1.4zM328.8 106.7h1.4v1.4h-1.4zM330.6 108.7h1.4v1.4h-1.4zM335.0 102.6h1.4v1.4h-1.4zM321.3 107.2h1.4v1.4h-1.4zM333.9 107.0h1.4v1.4h-1.4zM318.5 100.8h1.4v1.4h-1.4zM337.2 100.4h1.4v1.4h-1.4zM318.4 102.8h1.4v1.4h-1.4zM308.6 104.8h1.4v1.4h-1.4zM305.3 105.8h1.4v1.4h-1.4zM331.9 104.1h1.4v1.4h-1.4zM322.4 104.5h1.4v1.4h-1.4zM331.2 104.3h1.4v1.4h-1.4zM321.9 104.9h1.4v1.4h-1.4zM326.8 106.1h1.4v1.4h-1.4zM339.2 105.9h1.4v1.4h-1.4zM340.5 104.5h1.4v1.4h-1.4zM305.8 105.3h1.4v1.4h-1.4zM341.1 103.5h1.4v1.4h-1.4zM329.0 106.7h1.4v1.4h-1.4zM335.9 103.3h1.4v1.4h-1.4zM340.6 108.9h1.4v1.4h-1.4zM316.3 104.6h1.4v1.4h-1.4zM324.7 105.3h1.4v1.4h-1.4zM339.6 102.7h1.4v1.4h-1.4zM329.5 103.7h1.4v1.4h-1.4zM339.9 105.1h1.4v1.4h-1.4zM338.4 104.7h1.4v1.4h-1.4zM342.3 103.0h1.4v1.4h-1.4zM333.7 101.6h1.4v1.4h-1.4zM308.2 104.7h1.4v1.4h-1.4zM340.0 105.0h1.4v1.4h-1.4zM316.1 106.1h1.4v1.4h-1.4zM314.5 107.9h1.4v1.4h-1.4zM324.2 103.8h1.4v1.4h-1.4zM317.2 99.5h1.4v1.4h-1.4zM313.5 104.3h1.4v1.4h-1.4zM333.0 99.9h1.4v1.4h-1.4zM340.2 101.3h1.4v1.4h-1.4zM319.9 107.3h1.4v1.4h-1.4zM324.4 106.1h1.4v1.4h-1.4zM333.1 103.0h1.4v1.4h-1.4zM321.5 103.0h1.4v1.4h-1.4zM328.6 104.4h1.4v1.4h-1.4zM340.2 100.1h1.4v1.4h-1.4zM312.0 105.9h1.4v1.4h-1.4zM329.9 103.7h1.4v1.4h-1.4zM317.5 109.4h1.4v1.4h-1.4zM336.8 101.9h1.4v1.4h-1.4zM317.3 107.2h1.4v1.4h-1.4zM337.7 102.9h1.4v1.4h-1.4zM325.5 107.3h1.4v1.4h-1.4zM340.7 102.1h1.4v1.4h-1.4zM324.0 106.5h1.4v1.4h-1.4zM328.6 103.5h1.4v1.4h-1.4zM311.3 102.5h1.4v1.4h-1.4zM320.5 104.3h1.4v1.4h-1.4zM326.0 105.9h1.4v1.4h-1.4zM339.8 105.7h1.4v1.4h-1.4zM331.5 108.7h1.4v1.4h-1.4zM337.7 106.8h1.4v1.4h-1.4zM338.8 97.8h1.4v1.4h-1.4zM310.1 103.6h1.4v1.4h-1.4zM322.1 99.5h1.4v1.4h-1.4zM338.3 103.7h1.4v1.4h-1.4zM336.3 106.3h1.4v1.4h-1.4zM330.8 101.2h1.4v1.4h-1.4zM325.5 101.6h1.4v1.4h-1.4zM328.8 105.0h1.4v1.4h-1.4zM301.9 103.9h1.4v1.4h-1.4zM312.8 108.7h1.4v1.4h-1.4zM323.7 105.5h1.4v1.4h-1.4zM313.5 106.0h1.4v1.4h-1.4zM318.4 109.2h1.4v1.4h-1.4zM337.6 103.3h1.4v1.4h-1.4zM336.6 104.6h1.4v1.4h-1.4zM335.6 102.1h1.4v1.4h-1.4zM330.9 105.3h1.4v1.4h-1.4zM340.5 107.3h1.4v1.4h-1.4zM318.3 108.2h1.4v1.4h-1.4zM332.5 104.6h1.4v1.4h-1.4zM326.1 102.8h1.4v1.4h-1.4zM340.9 102.7h1.4v1.4h-1.4zM323.3 101.0h1.4v1.4h-1.4zM318.8 105.0h1.4v1.4h-1.4zM336.6 108.2h1.4v1.4h-1.4zM337.7 98.5h1.4v1.4h-1.4zM335.3 99.0h1.4v1.4h-1.4zM337.0 108.3h1.4v1.4h-1.4zM316.5 100.5h1.4v1.4h-1.4zM332.1 105.5h1.4v1.4h-1.4zM330.0 101.4h1.4v1.4h-1.4zM340.2 106.7h1.4v1.4h-1.4zM325.3 106.7h1.4v1.4h-1.4zM319.1 105.1h1.4v1.4h-1.4zM321.8 106.8h1.4v1.4h-1.4zM329.2 104.8h1.4v1.4h-1.4zM341.9 106.1h1.4v1.4h-1.4zM334.7 109.4h1.4v1.4h-1.4zM335.3 107.5h1.4v1.4h-1.4zM327.7 103.0h1.4v1.4h-1.4zM325.3 102.6h1.4v1.4h-1.4zM340.7 104.0h1.4v1.4h-1.4zM327.2 104.1h1.4v1.4h-1.4zM312.6 104.9h1.4v1.4h-1.4zM336.9 103.1h1.4v1.4h-1.4zM317.0 106.4h1.4v1.4h-1.4zM325.0 104.8h1.4v1.4h-1.4zM332.3 105.6h1.4v1.4h-1.4zM338.3 104.7h1.4v1.4h-1.4zM300.1 106.3h1.4v1.4h-1.4zM333.4 101.6h1.4v1.4h-1.4zM313.3 108.8h1.4v1.4h-1.4zM332.8 105.6h1.4v1.4h-1.4zM332.1 105.8h1.4v1.4h-1.4zM329.4 106.3h1.4v1.4h-1.4zM326.3 107.5h1.4v1.4h-1.4zM330.1 106.6h1.4v1.4h-1.4zM341.3 105.3h1.4v1.4h-1.4zM323.6 104.2h1.4v1.4h-1.4zM327.9 100.4h1.4v1.4h-1.4zM314.0 105.2h1.4v1.4h-1.4zM325.0 103.9h1.4v1.4h-1.4zM306.8 103.9h1.4v1.4h-1.4zM340.2 110.9h1.4v1.4h-1.4zM323.3 99.9h1.4v1.4h-1.4zM340.8 104.8h1.4v1.4h-1.4zM313.2 107.8h1.4v1.4h-1.4zM333.7 107.2h1.4v1.4h-1.4zM332.0 107.9h1.4v1.4h-1.4zM333.7 101.4h1.4v1.4h-1.4zM337.3 102.2h1.4v1.4h-1.4zM308.9 106.3h1.4v1.4h-1.4zM335.9 103.9h1.4v1.4h-1.4zM303.7 109.1h1.4v1.4h-1.4zM321.6 105.3h1.4v1.4h-1.4zM338.6 105.2h1.4v1.4h-1.4zM331.0 105.8h1.4v1.4h-1.4zM340.7 104.0h1.4v1.4h-1.4zM339.0 105.0h1.4v1.4h-1.4zM326.2 103.0h1.4v1.4h-1.4zM320.7 104.6h1.4v1.4h-1.4zM317.1 103.5h1.4v1.4h-1.4zM305.8 105.4h1.4v1.4h-1.4zM335.2 101.0h1.4v1.4h-1.4zM337.6 100.8h1.4v1.4h-1.4zM306.3 105.9h1.4v1.4h-1.4zM328.6 105.3h1.4v1.4h-1.4zM338.2 102.2h1.4v1.4h-1.4zM333.1 104.1h1.4v1.4h-1.4zM326.0 102.0h1.4v1.4h-1.4zM341.1 110.0h1.4v1.4h-1.4zM326.2 100.7h1.4v1.4h-1.4zM322.0 109.2h1.4v1.4h-1.4zM328.7 102.6h1.4v1.4h-1.4zM323.4 105.8h1.4v1.4h-1.4zM325.1 104.0h1.4v1.4h-1.4zM328.7 103.7h1.4v1.4h-1.4zM309.1 107.2h1.4v1.4h-1.4zM332.0 106.8h1.4v1.4h-1.4zM331.4 104.0h1.4v1.4h-1.4zM335.1 102.4h1.4v1.4h-1.4zM319.0 110.1h1.4v1.4h-1.4zM305.6 108.4h1.4v1.4h-1.4zM335.0 105.1h1.4v1.4h-1.4zM324.2 104.0h1.4v1.4h-1.4zM331.9 105.5h1.4v1.4h-1.4zM320.2 104.9h1.4v1.4h-1.4zM323.5 107.8h1.4v1.4h-1.4zM319.9 102.2h1.4v1.4h-1.4zM328.6 104.8h1.4v1.4h-1.4zM333.3 102.7h1.4v1.4h-1.4zM318.6 108.1h1.4v1.4h-1.4zM322.2 109.4h1.4v1.4h-1.4zM327.6 104.5h1.4v1.4h-1.4zM334.7 106.1h1.4v1.4h-1.4zM324.2 108.4h1.4v1.4h-1.4zM307.8 104.0h1.4v1.4h-1.4zM329.4 102.3h1.4v1.4h-1.4zM327.3 107.4h1.4v1.4h-1.4zM342.2 106.1h1.4v1.4h-1.4zM331.3 104.2h1.4v1.4h-1.4zM306.2 108.5h1.4v1.4h-1.4zM333.2 105.3h1.4v1.4h-1.4zM309.5 100.1h1.4v1.4h-1.4zM324.4 105.6h1.4v1.4h-1.4zM304.9 104.6h1.4v1.4h-1.4zM332.0 109.6h1.4v1.4h-1.4zM315.4 104.7h1.4v1.4h-1.4zM341.0 104.2h1.4v1.4h-1.4zM316.5 105.9h1.4v1.4h-1.4zM341.6 105.4h1.4v1.4h-1.4zM340.3 101.1h1.4v1.4h-1.4zM329.4 105.0h1.4v1.4h-1.4zM327.6 103.9h1.4v1.4h-1.4zM325.0 108.4h1.4v1.4h-1.4zM336.1 111.0h1.4v1.4h-1.4zM316.2 101.8h1.4v1.4h-1.4zM323.7 102.2h1.4v1.4h-1.4zM307.4 102.5h1.4v1.4h-1.4zM326.4 103.0h1.4v1.4h-1.4zM316.4 102.9h1.4v1.4h-1.4zM340.4 104.9h1.4v1.4h-1.4zM327.2 107.6h1.4v1.4h-1.4zM318.0 101.4h1.4v1.4h-1.4zM320.4 100.7h1.4v1.4h-1.4zM315.7 100.0h1.4v1.4h-1.4zM310.0 107.6h1.4v1.4h-1.4zM306.9 108.2h1.4v1.4h-1.4zM335.2 100.8h1.4v1.4h-1.4zM311.2 100.5h1.4v1.4h-1.4zM338.5 105.1h1.4v1.4h-1.4zM341.6 107.6h1.4v1.4h-1.4zM340.3 107.4h1.4v1.4h-1.4zM315.6 105.2h1.4v1.4h-1.4zM337.3 106.5h1.4v1.4h-1.4zM331.9 105.6h1.4v1.4h-1.4zM341.0 103.3h1.4v1.4h-1.4zM321.2 109.7h1.4v1.4h-1.4zM332.1 104.7h1.4v1.4h-1.4zM332.4 101.9h1.4v1.4h-1.4zM316.3 103.5h1.4v1.4h-1.4zM331.9 100.7h1.4v1.4h-1.4zM335.5 104.8h1.4v1.4h-1.4zM337.6 107.6h1.4v1.4h-1.4zM338.9 101.5h1.4v1.4h-1.4zM303.8 107.7h1.4v1.4h-1.4zM336.4 110.2h1.4v1.4h-1.4zM322.5 105.7h1.4v1.4h-1.4zM336.5 101.7h1.4v1.4h-1.4zM314.2 102.5h1.4v1.4h-1.4zM324.5 103.9h1.4v1.4h-1.4zM325.6 101.4h1.4v1.4h-1.4zM334.7 101.5h1.4v1.4h-1.4zM332.4 104.1h1.4v1.4h-1.4zM337.8 104.3h1.4v1.4h-1.4zM299.9 106.3h1.4v1.4h-1.4zM320.8 101.6h1.4v1.4h-1.4zM335.8 109.6h1.4v1.4h-1.4zM318.8 107.5h1.4v1.4h-1.4zM338.6 107.1h1.4v1.4h-1.4zM321.9 103.1h1.4v1.4h-1.4zM333.9 109.3h1.4v1.4h-1.4zM307.1 103.9h1.4v1.4h-1.4zM340.3 109.5h1.4v1.4h-1.4zM311.7 107.5h1.4v1.4h-1.4zM325.8 102.4h1.4v1.4h-1.4zM325.0 103.6h1.4v1.4h-1.4zM321.6 109.6h1.4v1.4h-1.4zM330.0 107.4h1.4v1.4h-1.4zM329.6 104.3h1.4v1.4h-1.4zM337.3 105.3h1.4v1.4h-1.4zM341.7 105.3h1.4v1.4h-1.4zM337.5 102.7h1.4v1.4h-1.4zM335.4 104.2h1.4v1.4h-1.4zM351.3 110.4h1.4v1.4h-1.4zM352.7 102.7h1.4v1.4h-1.4zM358.3 105.2h1.4v1.4h-1.4zM349.4 95.1h1.4v1.4h-1.4zM359.9 90.8h1.4v1.4h-1.4zM356.1 99.9h1.4v1.4h-1.4zM360.1 101.4h1.4v1.4h-1.4zM360.9 94.8h1.4v1.4h-1.4zM363.1 103.3h1.4v1.4h-1.4zM359.3 104.5h1.4v1.4h-1.4zM359.8 106.2h1.4v1.4h-1.4zM354.3 111.1h1.4v1.4h-1.4zM358.9 107.1h1.4v1.4h-1.4zM349.8 100.9h1.4v1.4h-1.4zM353.9 103.4h1.4v1.4h-1.4zM360.0 106.0h1.4v1.4h-1.4zM355.1 97.2h1.4v1.4h-1.4zM358.2 109.9h1.4v1.4h-1.4zM348.8 107.6h1.4v1.4h-1.4zM363.9 101.6h1.4v1.4h-1.4zM351.8 99.4h1.4v1.4h-1.4zM355.2 107.3h1.4v1.4h-1.4zM361.2 107.8h1.4v1.4h-1.4zM353.0 112.4h1.4v1.4h-1.4zM349.2 108.0h1.4v1.4h-1.4zM343.6 103.9h1.4v1.4h-1.4zM353.5 106.6h1.4v1.4h-1.4zM348.0 98.0h1.4v1.4h-1.4zM358.7 106.6h1.4v1.4h-1.4zM364.3 94.6h1.4v1.4h-1.4zM341.6 105.1h1.4v1.4h-1.4zM347.4 105.8h1.4v1.4h-1.4zM357.3 94.5h1.4v1.4h-1.4zM363.1 113.0h1.4v1.4h-1.4zM357.3 96.7h1.4v1.4h-1.4zM357.4 108.4h1.4v1.4h-1.4zM358.5 100.0h1.4v1.4h-1.4zM359.0 104.5h1.4v1.4h-1.4zM365.6 99.3h1.4v1.4h-1.4zM347.7 108.3h1.4v1.4h-1.4zM352.4 112.5h1.4v1.4h-1.4zM356.7 107.0h1.4v1.4h-1.4zM350.3 106.6h1.4v1.4h-1.4zM353.8 103.7h1.4v1.4h-1.4zM352.1 101.6h1.4v1.4h-1.4zM351.0 106.1h1.4v1.4h-1.4zM359.7 103.7h1.4v1.4h-1.4zM353.0 102.1h1.4v1.4h-1.4zM348.6 95.6h1.4v1.4h-1.4zM350.9 101.3h1.4v1.4h-1.4zM355.6 106.1h1.4v1.4h-1.4zM368.5 100.4h1.4v1.4h-1.4zM357.0 104.8h1.4v1.4h-1.4zM364.6 102.1h1.4v1.4h-1.4zM358.5 97.4h1.4v1.4h-1.4zM342.0 98.1h1.4v1.4h-1.4zM357.7 99.0h1.4v1.4h-1.4zM350.1 101.4h1.4v1.4h-1.4zM346.9 101.5h1.4v1.4h-1.4zM348.7 108.9h1.4v1.4h-1.4zM366.5 97.1h1.4v1.4h-1.4zM345.5 92.0h1.4v1.4h-1.4zM351.5 106.6h1.4v1.4h-1.4zM362.6 100.5h1.4v1.4h-1.4zM359.5 102.3h1.4v1.4h-1.4zM354.7 110.7h1.4v1.4h-1.4zM352.2 106.1h1.4v1.4h-1.4zM354.2 108.0h1.4v1.4h-1.4zM360.1 103.6h1.4v1.4h-1.4zM351.8 108.0h1.4v1.4h-1.4zM353.4 99.7h1.4v1.4h-1.4zM364.5 99.1h1.4v1.4h-1.4zM343.9 100.5h1.4v1.4h-1.4zM353.1 111.4h1.4v1.4h-1.4zM358.3 111.2h1.4v1.4h-1.4zM347.6 99.7h1.4v1.4h-1.4zM351.4 109.1h1.4v1.4h-1.4zM347.2 102.1h1.4v1.4h-1.4zM356.3 108.7h1.4v1.4h-1.4zM351.5 101.3h1.4v1.4h-1.4zM360.3 108.1h1.4v1.4h-1.4zM361.7 102.4h1.4v1.4h-1.4zM355.7 101.4h1.4v1.4h-1.4zM353.0 102.8h1.4v1.4h-1.4zM357.0 103.8h1.4v1.4h-1.4zM355.7 99.9h1.4v1.4h-1.4zM347.8 95.7h1.4v1.4h-1.4zM362.1 112.0h1.4v1.4h-1.4zM356.8 100.9h1.4v1.4h-1.4zM360.3 93.3h1.4v1.4h-1.4zM346.9 90.9h1.4v1.4h-1.4zM360.8 88.0h1.4v1.4h-1.4zM368.5 99.7h1.4v1.4h-1.4zM359.2 110.2h1.4v1.4h-1.4zM346.3 94.3h1.4v1.4h-1.4zM355.6 101.3h1.4v1.4h-1.4zM355.0 93.2h1.4v1.4h-1.4zM356.7 108.9h1.4v1.4h-1.4zM353.9 104.9h1.4v1.4h-1.4zM358.5 104.7h1.4v1.4h-1.4zM352.4 110.2h1.4v1.4h-1.4zM356.8 111.8h1.4v1.4h-1.4zM351.0 108.5h1.4v1.4h-1.4zM356.0 99.9h1.4v1.4h-1.4zM361.6 95.9h1.4v1.4h-1.4zM352.3 97.4h1.4v1.4h-1.4zM359.5 93.6h1.4v1.4h-1.4zM349.8 112.7h1.4v1.4h-1.4zM353.0 102.0h1.4v1.4h-1.4zM353.9 103.7h1.4v1.4h-1.4zM363.1 104.1h1.4v1.4h-1.4zM363.0 100.0h1.4v1.4h-1.4zM346.2 109.3h1.4v1.4h-1.4zM354.4 104.6h1.4v1.4h-1.4zM361.0 102.2h1.4v1.4h-1.4zM359.7 92.7h1.4v1.4h-1.4zM349.0 107.9h1.4v1.4h-1.4zM347.7 99.0h1.4v1.4h-1.4zM360.8 100.6h1.4v1.4h-1.4zM347.4 104.2h1.4v1.4h-1.4zM359.0 103.5h1.4v1.4h-1.4zM352.1 109.0h1.4v1.4h-1.4zM355.3 99.4h1.4v1.4h-1.4zM365.0 104.5h1.4v1.4h-1.4zM360.6 103.2h1.4v1.4h-1.4zM346.7 106.7h1.4v1.4h-1.4zM357.3 101.7h1.4v1.4h-1.4zM355.7 109.5h1.4v1.4h-1.4zM354.7 99.2h1.4v1.4h-1.4zM363.7 95.3h1.4v1.4h-1.4zM344.6 102.8h1.4v1.4h-1.4zM357.3 109.3h1.4v1.4h-1.4zM356.1 100.3h1.4v1.4h-1.4zM350.6 99.7h1.4v1.4h-1.4zM366.1 101.2h1.4v1.4h-1.4zM347.4 103.9h1.4v1.4h-1.4zM355.5 102.1h1.4v1.4h-1.4zM355.8 104.7h1.4v1.4h-1.4zM341.6 93.8h1.4v1.4h-1.4zM346.3 111.0h1.4v1.4h-1.4zM349.2 106.1h1.4v1.4h-1.4zM360.2 98.4h1.4v1.4h-1.4zM361.2 110.4h1.4v1.4h-1.4zM359.0 105.4h1.4v1.4h-1.4zM356.8 110.9h1.4v1.4h-1.4zM341.5 96.7h1.4v1.4h-1.4zM356.7 111.9h1.4v1.4h-1.4zM352.1 103.3h1.4v1.4h-1.4zM362.6 92.0h1.4v1.4h-1.4zM363.7 107.1h1.4v1.4h-1.4zM359.7 97.6h1.4v1.4h-1.4zM360.4 101.9h1.4v1.4h-1.4zM348.8 92.6h1.4v1.4h-1.4zM355.8 106.1h1.4v1.4h-1.4zM347.5 101.9h1.4v1.4h-1.4zM360.9 101.6h1.4v1.4h-1.4zM347.8 110.6h1.4v1.4h-1.4zM353.9 103.2h1.4v1.4h-1.4zM350.1 99.5h1.4v1.4h-1.4zM352.3 97.9h1.4v1.4h-1.4zM358.2 102.7h1.4v1.4h-1.4zM351.7 108.7h1.4v1.4h-1.4zM356.7 99.9h1.4v1.4h-1.4zM349.0 97.5h1.4v1.4h-1.4zM364.1 108.0h1.4v1.4h-1.4zM351.2 103.3h1.4v1.4h-1.4zM361.6 102.9h1.4v1.4h-1.4zM340.0 96.5h1.4v1.4h-1.4zM349.0 104.1h1.4v1.4h-1.4zM354.0 93.5h1.4v1.4h-1.4zM362.6 101.4h1.4v1.4h-1.4zM352.2 106.2h1.4v1.4h-1.4zM357.7 109.0h1.4v1.4h-1.4zM350.7 96.2h1.4v1.4h-1.4zM358.8 107.5h1.4v1.4h-1.4zM347.6 107.2h1.4v1.4h-1.4zM360.5 102.4h1.4v1.4h-1.4zM343.4 103.0h1.4v1.4h-1.4zM366.7 98.3h1.4v1.4h-1.4zM356.3 105.3h1.4v1.4h-1.4zM349.6 93.0h1.4v1.4h-1.4zM361.9 108.3h1.4v1.4h-1.4zM362.4 100.9h1.4v1.4h-1.4zM352.6 106.3h1.4v1.4h-1.4zM359.2 105.9h1.4v1.4h-1.4zM358.4 113.4h1.4v1.4h-1.4zM344.8 99.7h1.4v1.4h-1.4zM359.0 96.1h1.4v1.4h-1.4zM354.1 92.1h1.4v1.4h-1.4zM363.4 101.4h1.4v1.4h-1.4zM363.5 94.6h1.4v1.4h-1.4zM351.2 102.1h1.4v1.4h-1.4zM351.4 105.2h1.4v1.4h-1.4zM356.5 100.6h1.4v1.4h-1.4zM359.4 98.0h1.4v1.4h-1.4zM352.6 109.4h1.4v1.4h-1.4zM354.5 101.9h1.4v1.4h-1.4zM359.1 104.3h1.4v1.4h-1.4zM357.9 108.1h1.4v1.4h-1.4zM362.6 96.0h1.4v1.4h-1.4zM356.7 98.1h1.4v1.4h-1.4zM344.1 102.2h1.4v1.4h-1.4zM360.4 97.4h1.4v1.4h-1.4zM353.1 101.7h1.4v1.4h-1.4zM353.0 99.9h1.4v1.4h-1.4zM353.4 96.4h1.4v1.4h-1.4zM345.3 100.8h1.4v1.4h-1.4zM352.8 102.9h1.4v1.4h-1.4zM338.7 102.9h1.4v1.4h-1.4zM352.7 105.9h1.4v1.4h-1.4zM349.5 93.7h1.4v1.4h-1.4zM366.9 95.0h1.4v1.4h-1.4zM358.1 107.2h1.4v1.4h-1.4zM353.9 100.6h1.4v1.4h-1.4zM356.2 109.5h1.4v1.4h-1.4zM359.8 104.6h1.4v1.4h-1.4zM350.4 95.5h1.4v1.4h-1.4zM353.8 105.9h1.4v1.4h-1.4zM353.0 97.6h1.4v1.4h-1.4zM355.7 109.6h1.4v1.4h-1.4zM360.3 102.6h1.4v1.4h-1.4zM349.1 104.6h1.4v1.4h-1.4zM354.8 89.4h1.4v1.4h-1.4zM361.6 100.9h1.4v1.4h-1.4zM351.6 104.6h1.4v1.4h-1.4zM353.5 105.5h1.4v1.4h-1.4zM347.4 99.0h1.4v1.4h-1.4zM348.5 107.4h1.4v1.4h-1.4zM341.6 108.9h1.4v1.4h-1.4zM362.5 103.4h1.4v1.4h-1.4zM347.9 101.8h1.4v1.4h-1.4zM357.6 101.1h1.4v1.4h-1.4zM357.3 103.8h1.4v1.4h-1.4zM351.1 109.3h1.4v1.4h-1.4zM355.5 111.0h1.4v1.4h-1.4zM354.6 100.5h1.4v1.4h-1.4zM352.0 98.0h1.4v1.4h-1.4zM355.5 98.8h1.4v1.4h-1.4zM355.5 108.3h1.4v1.4h-1.4zM348.7 104.2h1.4v1.4h-1.4zM346.9 104.6h1.4v1.4h-1.4zM349.8 105.6h1.4v1.4h-1.4zM356.0 105.0h1.4v1.4h-1.4zM364.0 102.4h1.4v1.4h-1.4zM364.6 97.5h1.4v1.4h-1.4zM357.2 99.7h1.4v1.4h-1.4zM361.2 103.7h1.4v1.4h-1.4zM356.0 105.1h1.4v1.4h-1.4zM362.2 101.0h1.4v1.4h-1.4zM356.0 100.8h1.4v1.4h-1.4zM357.7 110.3h1.4v1.4h-1.4zM353.4 100.5h1.4v1.4h-1.4zM355.1 104.2h1.4v1.4h-1.4zM367.3 101.3h1.4v1.4h-1.4zM347.5 98.4h1.4v1.4h-1.4zM355.2 94.9h1.4v1.4h-1.4zM351.4 100.2h1.4v1.4h-1.4zM361.3 98.6h1.4v1.4h-1.4zM366.8 107.5h1.4v1.4h-1.4zM353.2 96.9h1.4v1.4h-1.4zM337.4 100.8h1.4v1.4h-1.4zM359.1 106.5h1.4v1.4h-1.4zM359.1 102.4h1.4v1.4h-1.4zM344.4 105.7h1.4v1.4h-1.4zM353.6 107.5h1.4v1.4h-1.4zM354.7 94.2h1.4v1.4h-1.4zM340.3 100.8h1.4v1.4h-1.4zM359.5 97.9h1.4v1.4h-1.4zM358.0 110.2h1.4v1.4h-1.4zM356.7 102.4h1.4v1.4h-1.4zM348.3 105.7h1.4v1.4h-1.4zM350.6 112.1h1.4v1.4h-1.4zM351.1 101.1h1.4v1.4h-1.4zM358.2 103.4h1.4v1.4h-1.4zM348.8 105.2h1.4v1.4h-1.4zM364.5 101.6h1.4v1.4h-1.4zM357.6 109.7h1.4v1.4h-1.4zM341.1 107.4h1.4v1.4h-1.4zM365.9 108.3h1.4v1.4h-1.4zM356.1 103.3h1.4v1.4h-1.4zM351.6 101.2h1.4v1.4h-1.4zM355.8 101.1h1.4v1.4h-1.4zM343.4 101.1h1.4v1.4h-1.4zM356.3 94.3h1.4v1.4h-1.4zM339.3 104.9h1.4v1.4h-1.4zM348.5 107.3h1.4v1.4h-1.4zM363.8 103.0h1.4v1.4h-1.4zM363.2 100.4h1.4v1.4h-1.4zM352.9 103.2h1.4v1.4h-1.4zM348.9 104.2h1.4v1.4h-1.4zM361.1 104.7h1.4v1.4h-1.4zM354.8 112.5h1.4v1.4h-1.4zM356.5 98.5h1.4v1.4h-1.4zM359.1 104.9h1.4v1.4h-1.4zM348.2 106.7h1.4v1.4h-1.4zM360.2 103.4h1.4v1.4h-1.4zM341.5 101.8h1.4v1.4h-1.4zM364.5 97.6h1.4v1.4h-1.4zM345.0 99.9h1.4v1.4h-1.4zM351.0 106.7h1.4v1.4h-1.4zM350.8 110.7h1.4v1.4h-1.4zM359.8 99.5h1.4v1.4h-1.4zM359.9 105.5h1.4v1.4h-1.4zM357.4 105.8h1.4v1.4h-1.4zM358.6 108.3h1.4v1.4h-1.4zM358.1 104.3h1.4v1.4h-1.4zM354.6 105.3h1.4v1.4h-1.4zM342.7 107.7h1.4v1.4h-1.4zM340.2 96.9h1.4v1.4h-1.4zM340.2 103.2h1.4v1.4h-1.4zM354.8 93.7h1.4v1.4h-1.4zM353.6 92.6h1.4v1.4h-1.4zM354.2 98.7h1.4v1.4h-1.4zM356.5 94.9h1.4v1.4h-1.4zM353.5 105.7h1.4v1.4h-1.4zM348.6 108.2h1.4v1.4h-1.4zM345.3 101.4h1.4v1.4h-1.4zM342.8 102.3h1.4v1.4h-1.4zM362.9 101.8h1.4v1.4h-1.4zM360.9 101.6h1.4v1.4h-1.4zM346.3 103.7h1.4v1.4h-1.4zM353.3 104.8h1.4v1.4h-1.4zM357.9 100.6h1.4v1.4h-1.4zM365.3 98.9h1.4v1.4h-1.4zM351.1 100.3h1.4v1.4h-1.4zM356.2 107.2h1.4v1.4h-1.4zM362.5 100.8h1.4v1.4h-1.4zM343.8 110.6h1.4v1.4h-1.4zM350.3 101.7h1.4v1.4h-1.4zM354.8 110.2h1.4v1.4h-1.4zM350.3 96.7h1.4v1.4h-1.4zM368.7 99.3h1.4v1.4h-1.4zM360.6 105.5h1.4v1.4h-1.4zM356.3 105.6h1.4v1.4h-1.4zM348.8 102.2h1.4v1.4h-1.4zM359.1 103.4h1.4v1.4h-1.4zM351.7 104.5h1.4v1.4h-1.4zM352.2 100.0h1.4v1.4h-1.4zM345.5 111.7h1.4v1.4h-1.4zM354.5 107.5h1.4v1.4h-1.4zM360.6 105.1h1.4v1.4h-1.4zM361.5 94.4h1.4v1.4h-1.4zM358.7 104.9h1.4v1.4h-1.4zM360.3 100.5h1.4v1.4h-1.4zM351.2 105.0h1.4v1.4h-1.4zM351.9 107.8h1.4v1.4h-1.4zM362.8 99.1h1.4v1.4h-1.4zM357.9 104.1h1.4v1.4h-1.4zM349.8 107.6h1.4v1.4h-1.4zM358.2 103.8h1.4v1.4h-1.4zM360.4 101.3h1.4v1.4h-1.4zM359.6 97.4h1.4v1.4h-1.4zM355.7 99.5h1.4v1.4h-1.4zM351.6 96.3h1.4v1.4h-1.4zM357.6 108.1h1.4v1.4h-1.4zM365.9 103.5h1.4v1.4h-1.4zM355.9 96.6h1.4v1.4h-1.4zM350.6 102.9h1.4v1.4h-1.4zM357.2 96.2h1.4v1.4h-1.4zM347.0 85.8h1.4v1.4h-1.4zM356.5 109.3h1.4v1.4h-1.4zM353.0 109.1h1.4v1.4h-1.4zM361.2 95.3h1.4v1.4h-1.4zM355.6 99.2h1.4v1.4h-1.4zM361.8 104.0h1.4v1.4h-1.4zM353.6 98.5h1.4v1.4h-1.4zM349.6 100.3h1.4v1.4h-1.4zM357.9 101.7h1.4v1.4h-1.4zM354.4 100.1h1.4v1.4h-1.4zM355.9 104.1h1.4v1.4h-1.4zM351.1 101.8h1.4v1.4h-1.4zM358.5 99.0h1.4v1.4h-1.4zM355.4 103.1h1.4v1.4h-1.4zM341.0 94.3h1.4v1.4h-1.4zM353.4 110.5h1.4v1.4h-1.4zM357.1 93.9h1.4v1.4h-1.4zM362.6 102.5h1.4v1.4h-1.4zM351.2 104.7h1.4v1.4h-1.4zM349.8 105.1h1.4v1.4h-1.4zM362.4 104.3h1.4v1.4h-1.4zM351.0 109.5h1.4v1.4h-1.4zM355.6 97.1h1.4v1.4h-1.4zM358.0 102.6h1.4v1.4h-1.4zM359.7 103.7h1.4v1.4h-1.4zM355.0 100.4h1.4v1.4h-1.4zM347.8 99.9h1.4v1.4h-1.4zM361.5 109.7h1.4v1.4h-1.4zM352.1 99.2h1.4v1.4h-1.4zM351.6 100.5h1.4v1.4h-1.4zM367.9 101.5h1.4v1.4h-1.4zM360.6 101.8h1.4v1.4h-1.4zM348.1 103.8h1.4v1.4h-1.4zM351.8 101.9h1.4v1.4h-1.4zM353.4 104.9h1.4v1.4h-1.4zM350.1 103.6h1.4v1.4h-1.4zM342.6 105.4h1.4v1.4h-1.4zM360.1 110.1h1.4v1.4h-1.4zM359.9 98.5h1.4v1.4h-1.4zM356.5 111.5h1.4v1.4h-1.4zM352.3 100.6h1.4v1.4h-1.4zM356.3 106.4h1.4v1.4h-1.4zM359.0 103.8h1.4v1.4h-1.4zM348.2 101.4h1.4v1.4h-1.4zM352.8 92.7h1.4v1.4h-1.4zM351.3 111.3h1.4v1.4h-1.4zM359.4 99.0h1.4v1.4h-1.4zM356.6 98.8h1.4v1.4h-1.4zM346.6 108.4h1.4v1.4h-1.4zM351.0 103.3h1.4v1.4h-1.4zM366.3 112.8h1.4v1.4h-1.4zM348.7 111.7h1.4v1.4h-1.4zM355.9 106.6h1.4v1.4h-1.4zM350.9 104.2h1.4v1.4h-1.4zM362.9 106.9h1.4v1.4h-1.4zM354.5 96.1h1.4v1.4h-1.4zM352.1 103.8h1.4v1.4h-1.4zM347.4 103.7h1.4v1.4h-1.4zM353.3 100.5h1.4v1.4h-1.4zM360.2 104.2h1.4v1.4h-1.4zM359.2 95.3h1.4v1.4h-1.4zM346.4 107.6h1.4v1.4h-1.4zM364.9 109.6h1.4v1.4h-1.4zM353.3 96.2h1.4v1.4h-1.4zM348.1 103.7h1.4v1.4h-1.4zM355.7 110.9h1.4v1.4h-1.4zM350.9 105.1h1.4v1.4h-1.4zM351.2 97.6h1.4v1.4h-1.4zM350.8 97.8h1.4v1.4h-1.4zM354.3 107.3h1.4v1.4h-1.4zM351.7 112.4h1.4v1.4h-1.4zM343.9 97.3h1.4v1.4h-1.4zM358.2 103.1h1.4v1.4h-1.4zM351.5 98.9h1.4v1.4h-1.4zM362.6 101.4h1.4v1.4h-1.4zM358.3 104.5h1.4v1.4h-1.4zM358.8 102.7h1.4v1.4h-1.4zM356.0 99.4h1.4v1.4h-1.4zM352.8 102.1h1.4v1.4h-1.4zM348.5 102.0h1.4v1.4h-1.4zM357.1 108.6h1.4v1.4h-1.4zM337.4 103.0h1.4v1.4h-1.4zM352.5 101.9h1.4v1.4h-1.4zM356.2 107.8h1.4v1.4h-1.4zM352.2 97.6h1.4v1.4h-1.4zM362.9 106.8h1.4v1.4h-1.4zM359.4 108.2h1.4v1.4h-1.4zM355.6 106.3h1.4v1.4h-1.4zM352.3 102.0h1.4v1.4h-1.4zM361.9 102.9h1.4v1.4h-1.4zM350.5 94.0h1.4v1.4h-1.4zM352.2 102.2h1.4v1.4h-1.4zM359.6 104.4h1.4v1.4h-1.4zM358.7 107.4h1.4v1.4h-1.4zM367.9 103.6h1.4v1.4h-1.4zM353.5 100.9h1.4v1.4h-1.4zM342.8 98.6h1.4v1.4h-1.4zM359.1 102.7h1.4v1.4h-1.4zM362.9 103.6h1.4v1.4h-1.4zM353.8 109.1h1.4v1.4h-1.4zM364.8 102.9h1.4v1.4h-1.4zM366.3 100.3h1.4v1.4h-1.4zM350.6 102.3h1.4v1.4h-1.4zM351.8 100.4h1.4v1.4h-1.4zM346.8 101.7h1.4v1.4h-1.4zM358.3 91.5h1.4v1.4h-1.4zM359.4 94.7h1.4v1.4h-1.4zM358.7 96.7h1.4v1.4h-1.4zM346.9 105.3h1.4v1.4h-1.4zM350.0 102.5h1.4v1.4h-1.4zM345.7 103.7h1.4v1.4h-1.4zM344.5 108.9h1.4v1.4h-1.4zM346.2 97.5h1.4v1.4h-1.4zM344.7 108.8h1.4v1.4h-1.4zM353.7 104.9h1.4v1.4h-1.4zM357.5 99.2h1.4v1.4h-1.4zM358.8 110.6h1.4v1.4h-1.4zM354.7 95.6h1.4v1.4h-1.4zM350.5 97.1h1.4v1.4h-1.4zM354.8 101.8h1.4v1.4h-1.4zM358.5 105.0h1.4v1.4h-1.4zM352.9 101.9h1.4v1.4h-1.4zM355.2 91.9h1.4v1.4h-1.4zM352.9 101.4h1.4v1.4h-1.4zM351.5 102.5h1.4v1.4h-1.4zM347.7 110.0h1.4v1.4h-1.4zM361.5 103.5h1.4v1.4h-1.4zM344.8 97.3h1.4v1.4h-1.4zM357.8 104.6h1.4v1.4h-1.4zM346.1 96.9h1.4v1.4h-1.4zM364.5 103.9h1.4v1.4h-1.4zM360.4 104.8h1.4v1.4h-1.4zM349.6 100.8h1.4v1.4h-1.4zM351.9 104.2h1.4v1.4h-1.4zM347.6 101.2h1.4v1.4h-1.4zM354.4 100.0h1.4v1.4h-1.4zM357.4 110.8h1.4v1.4h-1.4zM346.1 101.3h1.4v1.4h-1.4zM362.7 98.9h1.4v1.4h-1.4zM351.1 103.8h1.4v1.4h-1.4zM356.6 105.8h1.4v1.4h-1.4zM360.4 107.3h1.4v1.4h-1.4zM358.3 110.5h1.4v1.4h-1.4zM357.5 105.3h1.4v1.4h-1.4zM353.5 97.1h1.4v1.4h-1.4zM354.7 113.3h1.4v1.4h-1.4zM355.8 108.8h1.4v1.4h-1.4zM362.4 107.1h1.4v1.4h-1.4zM345.4 109.7h1.4v1.4h-1.4zM351.7 95.2h1.4v1.4h-1.4zM346.8 101.0h1.4v1.4h-1.4zM348.7 100.3h1.4v1.4h-1.4zM349.7 109.0h1.4v1.4h-1.4zM361.8 96.8h1.4v1.4h-1.4zM368.5 101.2h1.4v1.4h-1.4zM363.4 110.7h1.4v1.4h-1.4zM347.2 106.2h1.4v1.4h-1.4zM355.3 100.9h1.4v1.4h-1.4zM347.6 112.5h1.4v1.4h-1.4zM357.6 96.1h1.4v1.4h-1.4zM362.9 105.2h1.4v1.4h-1.4zM358.5 101.7h1.4v1.4h-1.4zM360.4 105.5h1.4v1.4h-1.4zM353.9 101.5h1.4v1.4h-1.4zM342.2 98.6h1.4v1.4h-1.4zM342.2 104.0h1.4v1.4h-1.4zM354.2 96.1h1.4v1.4h-1.4zM358.5 105.6h1.4v1.4h-1.4zM362.9 101.2h1.4v1.4h-1.4zM352.6 107.6h1.4v1.4h-1.4zM355.3 100.6h1.4v1.4h-1.4zM356.4 99.4h1.4v1.4h-1.4zM361.6 104.9h1.4v1.4h-1.4zM354.4 109.2h1.4v1.4h-1.4zM347.8 92.2h1.4v1.4h-1.4zM361.7 103.5h1.4v1.4h-1.4zM357.4 106.1h1.4v1.4h-1.4zM357.2 95.6h1.4v1.4h-1.4zM346.7 98.3h1.4v1.4h-1.4zM354.8 106.2h1.4v1.4h-1.4zM343.8 98.6h1.4v1.4h-1.4zM342.0 99.6h1.4v1.4h-1.4zM353.3 111.7h1.4v1.4h-1.4zM352.0 98.0h1.4v1.4h-1.4zM358.4 98.4h1.4v1.4h-1.4zM364.0 91.0h1.4v1.4h-1.4zM354.6 97.2h1.4v1.4h-1.4zM366.2 96.5h1.4v1.4h-1.4zM351.1 111.6h1.4v1.4h-1.4zM359.7 109.1h1.4v1.4h-1.4zM346.7 96.4h1.4v1.4h-1.4zM355.6 112.9h1.4v1.4h-1.4zM352.8 106.8h1.4v1.4h-1.4zM353.5 101.9h1.4v1.4h-1.4zM358.5 107.0h1.4v1.4h-1.4zM342.8 104.8h1.4v1.4h-1.4zM355.5 98.9h1.4v1.4h-1.4zM349.6 93.8h1.4v1.4h-1.4zM355.5 98.2h1.4v1.4h-1.4zM357.3 102.8h1.4v1.4h-1.4zM352.4 101.0h1.4v1.4h-1.4zM352.4 99.1h1.4v1.4h-1.4zM347.5 107.8h1.4v1.4h-1.4zM358.3 97.4h1.4v1.4h-1.4zM350.5 107.4h1.4v1.4h-1.4zM357.6 100.4h1.4v1.4h-1.4zM345.7 103.4h1.4v1.4h-1.4zM363.5 97.1h1.4v1.4h-1.4zM348.3 102.8h1.4v1.4h-1.4zM362.2 98.8h1.4v1.4h-1.4zM351.9 93.9h1.4v1.4h-1.4zM358.3 102.7h1.4v1.4h-1.4zM353.9 102.6h1.4v1.4h-1.4zM359.1 107.1h1.4v1.4h-1.4zM354.8 104.3h1.4v1.4h-1.4zM362.9 97.6h1.4v1.4h-1.4zM359.1 99.7h1.4v1.4h-1.4zM359.1 90.1h1.4v1.4h-1.4zM365.4 97.1h1.4v1.4h-1.4zM350.4 109.5h1.4v1.4h-1.4zM363.1 110.6h1.4v1.4h-1.4zM355.3 106.7h1.4v1.4h-1.4zM345.4 104.4h1.4v1.4h-1.4zM357.8 105.8h1.4v1.4h-1.4zM353.5 105.3h1.4v1.4h-1.4zM365.5 93.9h1.4v1.4h-1.4zM351.7 98.4h1.4v1.4h-1.4zM355.1 108.9h1.4v1.4h-1.4zM356.3 108.9h1.4v1.4h-1.4zM342.7 104.1h1.4v1.4h-1.4zM358.0 101.2h1.4v1.4h-1.4zM348.5 100.9h1.4v1.4h-1.4zM363.8 100.0h1.4v1.4h-1.4zM365.4 98.1h1.4v1.4h-1.4zM354.7 92.9h1.4v1.4h-1.4zM344.7 103.6h1.4v1.4h-1.4zM356.0 100.5h1.4v1.4h-1.4zM355.9 101.7h1.4v1.4h-1.4zM359.4 111.6h1.4v1.4h-1.4zM352.9 105.9h1.4v1.4h-1.4zM347.2 99.2h1.4v1.4h-1.4zM353.9 105.8h1.4v1.4h-1.4zM348.9 95.1h1.4v1.4h-1.4zM366.1 108.2h1.4v1.4h-1.4zM350.3 104.2h1.4v1.4h-1.4zM350.7 101.8h1.4v1.4h-1.4zM354.5 105.8h1.4v1.4h-1.4zM346.9 110.3h1.4v1.4h-1.4zM352.0 100.4h1.4v1.4h-1.4zM353.9 97.8h1.4v1.4h-1.4zM353.2 102.9h1.4v1.4h-1.4zM362.7 110.5h1.4v1.4h-1.4zM357.6 99.4h1.4v1.4h-1.4zM346.3 104.8h1.4v1.4h-1.4zM352.1 99.5h1.4v1.4h-1.4zM359.5 106.1h1.4v1.4h-1.4zM350.7 101.4h1.4v1.4h-1.4zM355.3 99.4h1.4v1.4h-1.4zM354.6 110.8h1.4v1.4h-1.4zM358.2 104.6h1.4v1.4h-1.4zM353.7 92.4h1.4v1.4h-1.4zM353.9 101.6h1.4v1.4h-1.4zM349.3 98.1h1.4v1.4h-1.4zM357.1 96.6h1.4v1.4h-1.4zM348.9 99.8h1.4v1.4h-1.4zM365.8 100.4h1.4v1.4h-1.4zM354.7 103.0h1.4v1.4h-1.4zM353.4 98.7h1.4v1.4h-1.4zM359.8 93.2h1.4v1.4h-1.4zM354.3 100.1h1.4v1.4h-1.4zM355.4 107.3h1.4v1.4h-1.4zM354.5 95.8h1.4v1.4h-1.4zM350.2 106.0h1.4v1.4h-1.4zM348.9 105.2h1.4v1.4h-1.4zM350.4 100.5h1.4v1.4h-1.4zM362.0 104.4h1.4v1.4h-1.4zM350.8 99.0h1.4v1.4h-1.4zM352.2 100.8h1.4v1.4h-1.4zM351.9 97.5h1.4v1.4h-1.4zM359.2 105.2h1.4v1.4h-1.4zM367.4 109.9h1.4v1.4h-1.4zM348.9 99.3h1.4v1.4h-1.4zM358.3 109.0h1.4v1.4h-1.4zM355.6 91.8h1.4v1.4h-1.4zM352.9 98.2h1.4v1.4h-1.4zM358.0 97.6h1.4v1.4h-1.4zM346.7 111.7h1.4v1.4h-1.4zM360.1 99.8h1.4v1.4h-1.4zM356.2 106.8h1.4v1.4h-1.4zM348.5 92.2h1.4v1.4h-1.4zM364.9 103.4h1.4v1.4h-1.4zM360.2 105.7h1.4v1.4h-1.4zM362.2 102.6h1.4v1.4h-1.4zM345.6 88.7h1.4v1.4h-1.4zM353.1 103.7h1.4v1.4h-1.4zM351.5 107.0h1.4v1.4h-1.4zM358.8 109.6h1.4v1.4h-1.4zM363.4 104.9h1.4v1.4h-1.4zM342.7 94.1h1.4v1.4h-1.4zM354.9 101.7h1.4v1.4h-1.4zM354.0 107.5h1.4v1.4h-1.4zM361.1 98.6h1.4v1.4h-1.4zM354.5 105.7h1.4v1.4h-1.4zM346.7 100.3h1.4v1.4h-1.4zM353.6 103.3h1.4v1.4h-1.4zM348.2 106.7h1.4v1.4h-1.4zM349.9 99.1h1.4v1.4h-1.4zM351.7 103.6h1.4v1.4h-1.4zM356.6 104.6h1.4v1.4h-1.4zM345.2 99.0h1.4v1.4h-1.4zM362.8 101.4h1.4v1.4h-1.4zM359.4 95.2h1.4v1.4h-1.4zM346.6 94.9h1.4v1.4h-1.4zM341.1 104.3h1.4v1.4h-1.4zM349.3 102.3h1.4v1.4h-1.4zM353.3 89.2h1.4v1.4h-1.4zM363.1 101.2h1.4v1.4h-1.4zM351.5 102.4h1.4v1.4h-1.4zM362.5 106.0h1.4v1.4h-1.4zM362.6 96.4h1.4v1.4h-1.4zM354.9 105.9h1.4v1.4h-1.4zM362.5 101.2h1.4v1.4h-1.4zM356.9 100.2h1.4v1.4h-1.4zM350.6 102.1h1.4v1.4h-1.4zM347.4 107.9h1.4v1.4h-1.4zM354.0 105.7h1.4v1.4h-1.4zM361.1 107.4h1.4v1.4h-1.4zM346.2 99.2h1.4v1.4h-1.4zM344.6 101.3h1.4v1.4h-1.4zM358.3 96.8h1.4v1.4h-1.4zM337.6 99.9h1.4v1.4h-1.4zM366.4 100.7h1.4v1.4h-1.4zM352.0 100.4h1.4v1.4h-1.4zM359.4 106.5h1.4v1.4h-1.4zM366.6 105.0h1.4v1.4h-1.4zM345.6 106.7h1.4v1.4h-1.4zM348.1 103.5h1.4v1.4h-1.4zM353.0 103.4h1.4v1.4h-1.4zM354.0 107.8h1.4v1.4h-1.4zM356.2 105.4h1.4v1.4h-1.4zM361.5 106.6h1.4v1.4h-1.4zM363.2 102.5h1.4v1.4h-1.4zM355.5 96.4h1.4v1.4h-1.4zM352.7 95.3h1.4v1.4h-1.4zM354.6 113.0h1.4v1.4h-1.4zM356.7 104.8h1.4v1.4h-1.4zM363.1 105.1h1.4v1.4h-1.4zM355.7 101.9h1.4v1.4h-1.4zM366.3 100.4h1.4v1.4h-1.4zM358.2 97.0h1.4v1.4h-1.4zM365.9 102.5h1.4v1.4h-1.4zM363.0 102.5h1.4v1.4h-1.4zM356.9 96.9h1.4v1.4h-1.4zM349.2 96.2h1.4v1.4h-1.4zM350.3 99.1h1.4v1.4h-1.4zM353.8 101.0h1.4v1.4h-1.4zM356.8 100.3h1.4v1.4h-1.4zM353.2 107.0h1.4v1.4h-1.4zM345.6 96.7h1.4v1.4h-1.4zM350.1 104.9h1.4v1.4h-1.4zM358.1 110.4h1.4v1.4h-1.4zM360.1 107.4h1.4v1.4h-1.4zM345.9 96.9h1.4v1.4h-1.4zM352.5 87.4h1.4v1.4h-1.4zM344.2 107.2h1.4v1.4h-1.4zM351.2 105.4h1.4v1.4h-1.4zM355.2 109.5h1.4v1.4h-1.4zM352.6 100.7h1.4v1.4h-1.4zM351.1 103.4h1.4v1.4h-1.4zM347.1 97.4h1.4v1.4h-1.4zM343.0 104.5h1.4v1.4h-1.4zM354.5 100.6h1.4v1.4h-1.4zM353.0 100.2h1.4v1.4h-1.4zM364.2 108.4h1.4v1.4h-1.4zM344.4 103.9h1.4v1.4h-1.4zM357.6 95.0h1.4v1.4h-1.4zM363.3 106.4h1.4v1.4h-1.4zM342.4 107.2h1.4v1.4h-1.4zM359.0 98.5h1.4v1.4h-1.4zM344.6 100.8h1.4v1.4h-1.4zM358.1 103.1h1.4v1.4h-1.4zM364.2 101.5h1.4v1.4h-1.4zM354.8 103.4h1.4v1.4h-1.4zM356.6 106.2h1.4v1.4h-1.4zM350.4 100.2h1.4v1.4h-1.4zM362.0 99.1h1.4v1.4h-1.4zM353.6 100.0h1.4v1.4h-1.4zM353.9 113.0h1.4v1.4h-1.4zM360.0 103.0h1.4v1.4h-1.4zM344.4 101.8h1.4v1.4h-1.4zM355.2 97.2h1.4v1.4h-1.4zM350.5 108.7h1.4v1.4h-1.4zM357.9 103.7h1.4v1.4h-1.4zM361.4 98.4h1.4v1.4h-1.4zM356.8 104.9h1.4v1.4h-1.4zM363.0 109.9h1.4v1.4h-1.4zM348.5 106.4h1.4v1.4h-1.4zM348.5 108.8h1.4v1.4h-1.4zM355.2 105.1h1.4v1.4h-1.4zM355.4 102.6h1.4v1.4h-1.4zM353.5 105.7h1.4v1.4h-1.4zM347.1 109.1h1.4v1.4h-1.4zM354.3 107.3h1.4v1.4h-1.4zM352.0 108.3h1.4v1.4h-1.4zM358.6 104.0h1.4v1.4h-1.4zM353.1 106.8h1.4v1.4h-1.4zM362.2 109.1h1.4v1.4h-1.4zM356.3 101.9h1.4v1.4h-1.4zM343.0 96.1h1.4v1.4h-1.4zM353.7 111.8h1.4v1.4h-1.4zM345.7 105.8h1.4v1.4h-1.4zM360.9 100.5h1.4v1.4h-1.4zM351.4 80.0h1.4v1.4h-1.4zM348.1 90.0h1.4v1.4h-1.4zM359.9 92.0h1.4v1.4h-1.4zM354.3 71.2h1.4v1.4h-1.4zM361.7 69.7h1.4v1.4h-1.4zM356.4 91.0h1.4v1.4h-1.4zM353.6 91.5h1.4v1.4h-1.4zM358.4 92.6h1.4v1.4h-1.4zM355.4 89.6h1.4v1.4h-1.4zM356.4 92.1h1.4v1.4h-1.4zM353.0 92.6h1.4v1.4h-1.4zM358.6 89.9h1.4v1.4h-1.4zM360.3 88.9h1.4v1.4h-1.4zM354.5 92.1h1.4v1.4h-1.4zM362.8 84.9h1.4v1.4h-1.4zM354.3 91.0h1.4v1.4h-1.4zM357.2 93.6h1.4v1.4h-1.4zM350.5 81.8h1.4v1.4h-1.4zM349.4 92.8h1.4v1.4h-1.4zM363.9 90.1h1.4v1.4h-1.4zM361.5 83.9h1.4v1.4h-1.4zM360.5 85.3h1.4v1.4h-1.4zM350.2 85.9h1.4v1.4h-1.4zM357.2 93.5h1.4v1.4h-1.4zM357.9 87.5h1.4v1.4h-1.4zM356.6 87.1h1.4v1.4h-1.4zM357.4 89.9h1.4v1.4h-1.4zM353.0 86.4h1.4v1.4h-1.4zM355.8 77.4h1.4v1.4h-1.4zM352.2 79.3h1.4v1.4h-1.4zM355.1 90.5h1.4v1.4h-1.4zM357.7 76.6h1.4v1.4h-1.4zM353.5 71.8h1.4v1.4h-1.4zM355.3 92.9h1.4v1.4h-1.4zM354.8 88.8h1.4v1.4h-1.4zM356.4 79.7h1.4v1.4h-1.4zM359.7 91.9h1.4v1.4h-1.4zM357.2 91.0h1.4v1.4h-1.4zM357.8 74.2h1.4v1.4h-1.4zM351.2 91.9h1.4v1.4h-1.4zM355.0 87.9h1.4v1.4h-1.4zM359.3 94.0h1.4v1.4h-1.4zM353.2 78.4h1.4v1.4h-1.4zM354.8 92.9h1.4v1.4h-1.4zM352.9 86.1h1.4v1.4h-1.4zM361.1 82.3h1.4v1.4h-1.4zM354.7 88.6h1.4v1.4h-1.4zM353.7 89.9h1.4v1.4h-1.4zM358.6 89.4h1.4v1.4h-1.4zM360.3 88.7h1.4v1.4h-1.4zM358.1 87.5h1.4v1.4h-1.4zM359.9 92.7h1.4v1.4h-1.4zM357.1 90.1h1.4v1.4h-1.4zM355.9 86.5h1.4v1.4h-1.4zM354.8 92.8h1.4v1.4h-1.4zM354.5 83.0h1.4v1.4h-1.4zM354.2 72.1h1.4v1.4h-1.4zM357.7 88.8h1.4v1.4h-1.4zM355.9 91.6h1.4v1.4h-1.4zM356.6 89.9h1.4v1.4h-1.4zM358.5 88.0h1.4v1.4h-1.4zM356.1 66.5h1.4v1.4h-1.4zM351.4 82.9h1.4v1.4h-1.4zM353.5 93.6h1.4v1.4h-1.4zM352.3 69.9h1.4v1.4h-1.4zM349.5 93.9h1.4v1.4h-1.4zM356.7 93.5h1.4v1.4h-1.4zM352.0 90.8h1.4v1.4h-1.4zM351.7 91.8h1.4v1.4h-1.4zM352.5 92.0h1.4v1.4h-1.4zM359.5 87.0h1.4v1.4h-1.4zM355.2 92.2h1.4v1.4h-1.4zM359.9 70.7h1.4v1.4h-1.4zM356.0 88.7h1.4v1.4h-1.4zM354.8 90.2h1.4v1.4h-1.4zM358.4 92.7h1.4v1.4h-1.4zM358.5 94.2h1.4v1.4h-1.4zM356.7 87.9h1.4v1.4h-1.4zM352.6 81.4h1.4v1.4h-1.4zM354.7 90.4h1.4v1.4h-1.4zM352.1 81.1h1.4v1.4h-1.4zM355.4 90.5h1.4v1.4h-1.4zM356.7 91.6h1.4v1.4h-1.4zM361.7 93.9h1.4v1.4h-1.4zM361.4 92.1h1.4v1.4h-1.4zM358.8 79.7h1.4v1.4h-1.4zM359.7 92.5h1.4v1.4h-1.4zM357.1 87.9h1.4v1.4h-1.4zM366.3 93.6h1.4v1.4h-1.4zM361.8 93.9h1.4v1.4h-1.4zM365.8 92.8h1.4v1.4h-1.4zM357.7 87.0h1.4v1.4h-1.4zM357.8 83.1h1.4v1.4h-1.4zM360.1 70.6h1.4v1.4h-1.4zM357.0 90.3h1.4v1.4h-1.4zM357.4 92.0h1.4v1.4h-1.4zM352.8 83.2h1.4v1.4h-1.4zM359.7 91.3h1.4v1.4h-1.4zM356.8 82.0h1.4v1.4h-1.4zM359.2 92.0h1.4v1.4h-1.4zM355.5 91.2h1.4v1.4h-1.4zM349.9 87.7h1.4v1.4h-1.4zM358.1 87.5h1.4v1.4h-1.4zM360.5 83.7h1.4v1.4h-1.4zM351.7 89.4h1.4v1.4h-1.4zM352.8 94.0h1.4v1.4h-1.4zM355.2 93.4h1.4v1.4h-1.4zM355.4 82.7h1.4v1.4h-1.4zM350.2 94.1h1.4v1.4h-1.4zM362.6 88.9h1.4v1.4h-1.4zM359.9 87.9h1.4v1.4h-1.4zM354.1 84.3h1.4v1.4h-1.4zM349.8 83.7h1.4v1.4h-1.4zM357.6 87.4h1.4v1.4h-1.4zM363.4 77.2h1.4v1.4h-1.4zM359.3 93.7h1.4v1.4h-1.4zM360.5 93.5h1.4v1.4h-1.4zM352.9 89.6h1.4v1.4h-1.4zM357.1 91.4h1.4v1.4h-1.4zM350.9 92.8h1.4v1.4h-1.4zM363.4 90.9h1.4v1.4h-1.4zM358.4 84.0h1.4v1.4h-1.4zM348.7 91.4h1.4v1.4h-1.4zM349.6 86.5h1.4v1.4h-1.4zM358.0 90.8h1.4v1.4h-1.4zM356.8 85.3h1.4v1.4h-1.4zM355.2 84.5h1.4v1.4h-1.4zM358.5 85.8h1.4v1.4h-1.4zM363.5 93.2h1.4v1.4h-1.4zM357.6 92.9h1.4v1.4h-1.4zM349.8 93.9h1.4v1.4h-1.4zM355.7 81.5h1.4v1.4h-1.4zM351.6 94.2h1.4v1.4h-1.4zM353.4 92.8h1.4v1.4h-1.4zM357.5 93.1h1.4v1.4h-1.4zM355.7 91.1h1.4v1.4h-1.4zM352.5 92.0h1.4v1.4h-1.4zM356.2 89.8h1.4v1.4h-1.4zM353.3 94.2h1.4v1.4h-1.4zM358.2 93.9h1.4v1.4h-1.4zM355.4 83.6h1.4v1.4h-1.4zM357.7 89.9h1.4v1.4h-1.4zM355.3 94.0h1.4v1.4h-1.4zM359.0 91.5h1.4v1.4h-1.4zM355.8 87.1h1.4v1.4h-1.4zM356.2 93.3h1.4v1.4h-1.4zM354.2 92.2h1.4v1.4h-1.4zM356.8 87.4h1.4v1.4h-1.4zM349.9 92.4h1.4v1.4h-1.4zM365.9 89.7h1.4v1.4h-1.4zM353.8 92.0h1.4v1.4h-1.4zM356.6 93.3h1.4v1.4h-1.4zM354.6 85.6h1.4v1.4h-1.4zM354.5 82.1h1.4v1.4h-1.4zM357.7 92.2h1.4v1.4h-1.4zM354.4 88.4h1.4v1.4h-1.4zM354.7 90.9h1.4v1.4h-1.4zM351.3 91.2h1.4v1.4h-1.4zM352.9 92.1h1.4v1.4h-1.4zM352.0 89.2h1.4v1.4h-1.4zM362.7 92.2h1.4v1.4h-1.4zM351.5 92.0h1.4v1.4h-1.4zM352.4 93.8h1.4v1.4h-1.4zM356.9 84.7h1.4v1.4h-1.4zM361.4 64.2h1.4v1.4h-1.4zM350.2 93.9h1.4v1.4h-1.4zM350.7 85.4h1.4v1.4h-1.4zM356.7 92.2h1.4v1.4h-1.4zM357.5 89.1h1.4v1.4h-1.4zM351.2 82.2h1.4v1.4h-1.4zM349.8 91.7h1.4v1.4h-1.4zM352.8 89.4h1.4v1.4h-1.4zM358.9 72.7h1.4v1.4h-1.4zM356.1 48.1h1.4v1.4h-1.4zM358.9 94.1h1.4v1.4h-1.4zM355.9 85.8h1.4v1.4h-1.4zM356.1 65.9h1.4v1.4h-1.4zM358.4 88.0h1.4v1.4h-1.4zM355.8 77.3h1.4v1.4h-1.4zM357.1 71.7h1.4v1.4h-1.4zM353.0 92.4h1.4v1.4h-1.4zM354.1 90.8h1.4v1.4h-1.4zM357.9 78.5h1.4v1.4h-1.4zM355.4 91.9h1.4v1.4h-1.4zM353.5 83.6h1.4v1.4h-1.4zM358.6 75.6h1.4v1.4h-1.4zM358.2 82.9h1.4v1.4h-1.4zM356.2 85.3h1.4v1.4h-1.4zM353.5 91.4h1.4v1.4h-1.4zM359.5 93.5h1.4v1.4h-1.4zM314.4 45.8h1.4v1.4h-1.4zM303.8 53.9h1.4v1.4h-1.4zM311.6 58.9h1.4v1.4h-1.4zM313.8 58.2h1.4v1.4h-1.4zM317.6 58.5h1.4v1.4h-1.4zM320.1 53.8h1.4v1.4h-1.4zM308.1 59.1h1.4v1.4h-1.4zM328.2 53.5h1.4v1.4h-1.4zM330.2 54.4h1.4v1.4h-1.4zM307.6 65.5h1.4v1.4h-1.4zM314.3 66.6h1.4v1.4h-1.4zM318.3 68.2h1.4v1.4h-1.4zM326.6 63.4h1.4v1.4h-1.4zM336.8 66.3h1.4v1.4h-1.4zM332.0 68.1h1.4v1.4h-1.4zM301.7 75.1h1.4v1.4h-1.4zM315.2 79.9h1.4v1.4h-1.4zM320.1 79.8h1.4v1.4h-1.4zM329.2 79.4h1.4v1.4h-1.4zM324.3 85.3h1.4v1.4h-1.4zM339.8 86.3h1.4v1.4h-1.4zM319.3 84.6h1.4v1.4h-1.4zM309.3 72.3h1.4v1.4h-1.4zM349.9 40.9h1.4v1.4h-1.4zM359.0 33.9h1.4v1.4h-1.4zM352.8 48.6h1.4v1.4h-1.4zM361.6 48.2h1.4v1.4h-1.4zM356.1 54.7h1.4v1.4h-1.4zM351.1 55.1h1.4v1.4h-1.4zM371.1 99.9h1.4v1.4h-1.4z" fill="#0000ff"/>
<path d="M361.2 99.8h1.5v1.5h-1.5zM350.1 103.3h1.5v1.5h-1.5zM351.8 96.3h1.5v1.5h-1.5zM346.5 98.6h1.5v1.5h-1.5zM362.1 103.6h1.5v1.5h-1.5zM360.7 99.3h1.5v1.5h-1.5zM351.1 100.4h1.5v1.5h-1.5zM352.1 101.6h1.5v1.5h-1.5zM354.3 103.9h1.5v1.5h-1.5zM355.4 106.5h1.5v1.5h-1.5zM359.6 106.5h1.5v1.5h-1.5zM354.5 107.8h1.5v1.5h-1.5zM356.7 103.7h1.5v1.5h-1.5zM344.3 99.9h1.5v1.5h-1.5zM352.1 94.6h1.5v1.5h-1.5zM342.4 100.9h1.5v1.5h-1.5zM365.7 98.6h1.5v1.5h-1.5zM363.1 93.5h1.5v1.5h-1.5zM358.7 110.9h1.5v1.5h-1.5zM361.3 93.3h1.5v1.5h-1.5zM360.2 105.4h1.5v1.5h-1.5zM343.7 101.5h1.5v1.5h-1.5zM338.8 102.7h1.5v1.5h-1.5zM348.8 98.8h1.5v1.5h-1.5zM354.0 98.6h1.5v1.5h-1.5zM356.6 95.4h1.5v1.5h-1.5zM348.0 97.6h1.5v1.5h-1.5zM352.2 99.4h1.5v1.5h-1.5zM355.9 102.9h1.5v1.5h-1.5zM353.0 104.3h1.5v1.5h-1.5zM352.9 94.9h1.5v1.5h-1.5zM359.2 99.0h1.5v1.5h-1.5zM355.7 102.0h1.5v1.5h-1.5zM344.4 106.2h1.5v1.5h-1.5zM352.3 108.7h1.5v1.5h-1.5zM355.8 99.3h1.5v1.5h-1.5zM347.7 97.8h1.5v1.5h-1.5zM358.4 97.5h1.5v1.5h-1.5zM348.8 108.2h1.5v1.5h-1.5zM351.9 107.2h1.5v1.5h-1.5zM353.3 91.7h1.5v1.5h-1.5zM351.9 96.4h1.5v1.5h-1.5zM350.3 95.0h1.5v1.5h-1.5zM358.7 104.7h1.5v1.5h-1.5zM351.0 103.8h1.5v1.5h-1.5zM339.4 106.7h1.5v1.5h-1.5zM355.9 103.3h1.5v1.5h-1.5zM353.9 108.6h1.5v1.5h-1.5zM345.6 98.1h1.5v1.5h-1.5zM362.8 95.5h1.5v1.5h-1.5zM352.5 102.8h1.5v1.5h-1.5zM352.7 107.4h1.5v1.5h-1.5zM345.5 94.4h1.5v1.5h-1.5zM343.4 107.2h1.5v1.5h-1.5zM350.3 107.0h1.5v1.5h-1.5zM344.1 100.1h1.5v1.5h-1.5zM357.2 103.5h1.5v1.5h-1.5zM359.7 101.2h1.5v1.5h-1.5zM349.9 103.1h1.5v1.5h-1.5zM343.5 106.7h1.5v1.5h-1.5zM351.4 98.6h1.5v1.5h-1.5zM347.1 107.9h1.5v1.5h-1.5zM355.1 107.1h1.5v1.5h-1.5zM355.2 107.2h1.5v1.5h-1.5zM351.2 92.6h1.5v1.5h-1.5zM354.5 93.2h1.5v1.5h-1.5zM360.8 106.2h1.5v1.5h-1.5zM365.1 99.7h1.5v1.5h-1.5zM350.6 99.1h1.5v1.5h-1.5zM358.7 98.8h1.5v1.5h-1.5zM352.4 95.8h1.5v1.5h-1.5zM347.1 101.2h1.5v1.5h-1.5zM362.3 99.0h1.5v1.5h-1.5zM356.5 99.3h1.5v1.5h-1.5zM354.9 105.1h1.5v1.5h-1.5zM356.3 96.6h1.5v1.5h-1.5zM352.9 108.4h1.5v1.5h-1.5zM347.1 91.3h1.5v1.5h-1.5zM359.8 95.7h1.5v1.5h-1.5zM355.7 105.6h1.5v1.5h-1.5zM360.3 107.3h1.5v1.5h-1.5zM362.3 102.6h1.5v1.5h-1.5zM352.7 106.4h1.5v1.5h-1.5zM357.8 102.1h1.5v1.5h-1.5zM351.9 93.7h1.5v1.5h-1.5zM358.2 104.4h1.5v1.5h-1.5zM352.3 108.5h1.5v1.5h-1.5zM351.7 94.0h1.5v1.5h-1.5zM357.3 99.6h1.5v1.5h-1.5zM357.0 104.3h1.5v1.5h-1.5zM351.8 104.2h1.5v1.5h-1.5zM360.1 108.3h1.5v1.5h-1.5zM353.4 105.5h1.5v1.5h-1.5zM351.3 105.2h1.5v1.5h-1.5zM354.0 92.4h1.5v1.5h-1.5zM361.8 102.9h1.5v1.5h-1.5zM358.0 107.0h1.5v1.5h-1.5zM360.4 100.9h1.5v1.5h-1.5zM345.2 101.9h1.5v1.5h-1.5zM355.7 102.9h1.5v1.5h-1.5zM349.0 110.7h1.5v1.5h-1.5zM354.5 110.4h1.5v1.5h-1.5zM362.3 105.8h1.5v1.5h-1.5zM352.8 100.6h1.5v1.5h-1.5zM361.3 105.3h1.5v1.5h-1.5zM360.5 100.3h1.5v1.5h-1.5zM366.0 109.3h1.5v1.5h-1.5zM341.9 102.8h1.5v1.5h-1.5zM356.1 107.6h1.5v1.5h-1.5zM348.3 92.1h1.5v1.5h-1.5zM346.4 104.3h1.5v1.5h-1.5zM339.5 101.0h1.5v1.5h-1.5zM348.1 92.9h1.5v1.5h-1.5zM352.3 101.1h1.5v1.5h-1.5zM366.1 90.9h1.5v1.5h-1.5zM349.3 103.1h1.5v1.5h-1.5zM346.4 101.8h1.5v1.5h-1.5zM351.7 101.0h1.5v1.5h-1.5zM352.4 108.2h1.5v1.5h-1.5zM354.9 108.6h1.5v1.5h-1.5zM349.0 101.4h1.5v1.5h-1.5zM339.2 106.6h1.5v1.5h-1.5zM355.1 94.9h1.5v1.5h-1.5zM343.8 97.0h1.5v1.5h-1.5zM361.5 102.6h1.5v1.5h-1.5zM357.3 96.5h1.5v1.5h-1.5zM356.3 100.6h1.5v1.5h-1.5zM356.3 106.3h1.5v1.5h-1.5zM347.3 100.4h1.5v1.5h-1.5zM361.0 101.9h1.5v1.5h-1.5zM347.2 98.1h1.5v1.5h-1.5zM342.0 103.8h1.5v1.5h-1.5zM359.6 102.1h1.5v1.5h-1.5zM352.3 105.2h1.5v1.5h-1.5zM360.9 99.3h1.5v1.5h-1.5zM352.6 95.8h1.5v1.5h-1.5zM349.9 99.7h1.5v1.5h-1.5zM362.0 99.7h1.5v1.5h-1.5zM356.5 102.7h1.5v1.5h-1.5zM346.6 101.6h1.5v1.5h-1.5zM348.1 109.5h1.5v1.5h-1.5zM361.3 101.5h1.5v1.5h-1.5zM351.5 104.7h1.5v1.5h-1.5zM351.4 97.4h1.5v1.5h-1.5zM345.8 96.3h1.5v1.5h-1.5zM355.4 98.9h1.5v1.5h-1.5zM359.1 103.9h1.5v1.5h-1.5zM351.0 99.3h1.5v1.5h-1.5zM352.8 92.7h1.5v1.5h-1.5zM346.1 105.2h1.5v1.5h-1.5zM363.1 101.9h1.5v1.5h-1.5zM350.0 101.3h1.5v1.5h-1.5zM353.0 99.6h1.5v1.5h-1.5zM365.0 91.2h1.5v1.5h-1.5zM352.5 110.9h1.5v1.5h-1.5zM343.9 100.3h1.5v1.5h-1.5zM348.0 105.4h1.5v1.5h-1.5zM351.7 109.9h1.5v1.5h-1.5zM365.6 108.5h1.5v1.5h-1.5zM355.5 103.8h1.5v1.5h-1.5zM352.6 102.8h1.5v1.5h-1.5zM359.4 104.3h1.5v1.5h-1.5zM362.5 107.4h1.5v1.5h-1.5zM349.1 105.7h1.5v1.5h-1.5zM363.4 100.4h1.5v1.5h-1.5zM359.6 105.0h1.5v1.5h-1.5zM357.0 104.7h1.5v1.5h-1.5zM355.3 103.8h1.5v1.5h-1.5zM363.1 109.8h1.5v1.5h-1.5zM352.3 103.8h1.5v1.5h-1.5zM354.5 103.0h1.5v1.5h-1.5zM347.4 99.8h1.5v1.5h-1.5zM357.9 97.9h1.5v1.5h-1.5zM356.0 101.9h1.5v1.5h-1.5zM359.5 105.5h1.5v1.5h-1.5zM352.6 109.2h1.5v1.5h-1.5zM362.6 102.3h1.5v1.5h-1.5zM330.3 108.9h1.5v1.5h-1.5zM330.3 104.0h1.5v1.5h-1.5zM332.7 103.0h1.5v1.5h-1.5zM304.5 104.7h1.5v1.5h-1.5zM305.5 108.5h1.5v1.5h-1.5zM319.6 104.9h1.5v1.5h-1.5zM327.9 105.2h1.5v1.5h-1.5zM318.1 108.0h1.5v1.5h-1.5zM316.8 100.8h1.5v1.5h-1.5zM304.9 100.7h1.5v1.5h-1.5zM324.3 106.4h1.5v1.5h-1.5zM335.8 106.2h1.5v1.5h-1.5zM324.6 102.2h1.5v1.5h-1.5zM312.3 105.7h1.5v1.5h-1.5zM325.2 104.8h1.5v1.5h-1.5zM316.5 105.2h1.5v1.5h-1.5z" fill="#ffe600"/>
<path d="M352.3 107.2h1.5v1.5h-1.5zM353.6 104.6h1.5v1.5h-1.5zM352.0 102.6h1.5v1.5h-1.5zM355.4 104.2h1.5v1.5h-1.5zM354.4 108.6h1.5v1.5h-1.5zM361.5 105.0h1.5v1.5h-1.5zM357.6 107.4h1.5v1.5h-1.5zM349.4 103.8h1.5v1.5h-1.5zM356.8 106.9h1.5v1.5h-1.5zM360.5 103.9h1.5v1.5h-1.5zM356.3 103.5h1.5v1.5h-1.5zM359.3 106.0h1.5v1.5h-1.5zM355.1 105.9h1.5v1.5h-1.5zM357.9 109.7h1.5v1.5h-1.5zM351.8 101.4h1.5v1.5h-1.5zM358.2 107.1h1.5v1.5h-1.5zM350.2 110.0h1.5v1.5h-1.5zM360.0 109.4h1.5v1.5h-1.5zM349.7 104.7h1.5v1.5h-1.5zM347.4 103.9h1.5v1.5h-1.5zM357.2 104.4h1.5v1.5h-1.5zM354.6 106.6h1.5v1.5h-1.5zM355.7 106.3h1.5v1.5h-1.5zM356.8 106.7h1.5v1.5h-1.5zM355.1 107.3h1.5v1.5h-1.5zM352.0 102.9h1.5v1.5h-1.5zM356.0 102.7h1.5v1.5h-1.5zM356.5 102.5h1.5v1.5h-1.5zM357.1 102.2h1.5v1.5h-1.5zM362.6 105.5h1.5v1.5h-1.5zM352.5 106.6h1.5v1.5h-1.5zM355.5 112.5h1.5v1.5h-1.5zM316.2 104.8h1.5v1.5h-1.5zM317.2 105.8h1.5v1.5h-1.5zM347.2 103.8h1.5v1.5h-1.5z" fill="#ff1a00"/>
<rect x="298.40" y="36.50" width="45.20" height="51.70" stroke="#6c6c6c" stroke-width="1.05" fill="none"/>
<rect x="339.30" y="93.40" width="33.40" height="22.80" stroke="#6c6c6c" stroke-width="1.05" fill="none"/>
<text transform="translate(275.00,101.00) rotate(-90)" font-size="9.7" text-anchor="middle" fill="#000" color="#000">GL7</text>
<text x="297.20" y="145.80" font-size="10.0" text-anchor="start" font-weight="normal" fill="#000" color="#000" >CD38</text>
<rect x="426.60" y="32.50" width="92.80" height="92.50" stroke="#959595" stroke-width="1.15" fill="none"/>
<line x1="424.40" y1="124.10" x2="426.60" y2="124.10" stroke="#222" stroke-width="0.9" />
<line x1="425.40" y1="120.60" x2="426.60" y2="120.60" stroke="#444" stroke-width="0.6" />
<line x1="425.40" y1="117.10" x2="426.60" y2="117.10" stroke="#444" stroke-width="0.6" />
<line x1="425.40" y1="113.60" x2="426.60" y2="113.60" stroke="#444" stroke-width="0.6" />
<line x1="425.40" y1="110.10" x2="426.60" y2="110.10" stroke="#444" stroke-width="0.6" />
<line x1="424.40" y1="106.60" x2="426.60" y2="106.60" stroke="#222" stroke-width="0.9" />
<line x1="425.40" y1="103.10" x2="426.60" y2="103.10" stroke="#444" stroke-width="0.6" />
<line x1="425.40" y1="99.60" x2="426.60" y2="99.60" stroke="#444" stroke-width="0.6" />
<line x1="425.40" y1="96.10" x2="426.60" y2="96.10" stroke="#444" stroke-width="0.6" />
<line x1="425.40" y1="92.60" x2="426.60" y2="92.60" stroke="#444" stroke-width="0.6" />
<line x1="424.40" y1="89.10" x2="426.60" y2="89.10" stroke="#222" stroke-width="0.9" />
<line x1="425.40" y1="85.60" x2="426.60" y2="85.60" stroke="#444" stroke-width="0.6" />
<line x1="425.40" y1="82.10" x2="426.60" y2="82.10" stroke="#444" stroke-width="0.6" />
<line x1="425.40" y1="78.60" x2="426.60" y2="78.60" stroke="#444" stroke-width="0.6" />
<line x1="425.40" y1="75.10" x2="426.60" y2="75.10" stroke="#444" stroke-width="0.6" />
<line x1="424.40" y1="71.60" x2="426.60" y2="71.60" stroke="#222" stroke-width="0.9" />
<line x1="425.40" y1="68.10" x2="426.60" y2="68.10" stroke="#444" stroke-width="0.6" />
<line x1="425.40" y1="64.60" x2="426.60" y2="64.60" stroke="#444" stroke-width="0.6" />
<line x1="425.40" y1="61.10" x2="426.60" y2="61.10" stroke="#444" stroke-width="0.6" />
<line x1="425.40" y1="57.60" x2="426.60" y2="57.60" stroke="#444" stroke-width="0.6" />
<line x1="424.40" y1="54.10" x2="426.60" y2="54.10" stroke="#222" stroke-width="0.9" />
<line x1="425.40" y1="50.60" x2="426.60" y2="50.60" stroke="#444" stroke-width="0.6" />
<line x1="425.40" y1="47.10" x2="426.60" y2="47.10" stroke="#444" stroke-width="0.6" />
<line x1="425.40" y1="43.60" x2="426.60" y2="43.60" stroke="#444" stroke-width="0.6" />
<line x1="425.40" y1="40.10" x2="426.60" y2="40.10" stroke="#444" stroke-width="0.6" />
<line x1="424.40" y1="36.60" x2="426.60" y2="36.60" stroke="#222" stroke-width="0.9" />
<text x="423.1" y="125.8" font-size="4.5" text-anchor="end" fill="#444" style="stroke:none">0</text>
<text x="423.1" y="108.3" font-size="4.5" text-anchor="end" fill="#444" style="stroke:none">50K</text>
<text x="423.1" y="90.8" font-size="4.5" text-anchor="end" fill="#444" style="stroke:none">100K</text>
<text x="423.1" y="73.3" font-size="4.5" text-anchor="end" fill="#444" style="stroke:none">150K</text>
<text x="423.1" y="55.8" font-size="4.5" text-anchor="end" fill="#444" style="stroke:none">200K</text>
<text x="423.1" y="38.3" font-size="4.5" text-anchor="end" fill="#444" style="stroke:none">250K</text>
<line x1="439.80" y1="125.00" x2="439.80" y2="127.20" stroke="#222" stroke-width="0.9" />
<line x1="467.25" y1="125.00" x2="467.25" y2="127.20" stroke="#222" stroke-width="0.9" />
<line x1="489.10" y1="125.00" x2="489.10" y2="127.20" stroke="#222" stroke-width="0.9" />
<line x1="510.00" y1="125.00" x2="510.00" y2="127.20" stroke="#222" stroke-width="0.9" />
<line x1="473.83" y1="125.00" x2="473.83" y2="126.20" stroke="#444" stroke-width="0.6" />
<line x1="477.68" y1="125.00" x2="477.68" y2="126.20" stroke="#444" stroke-width="0.6" />
<line x1="480.41" y1="125.00" x2="480.41" y2="126.20" stroke="#444" stroke-width="0.6" />
<line x1="482.52" y1="125.00" x2="482.52" y2="126.20" stroke="#444" stroke-width="0.6" />
<line x1="484.25" y1="125.00" x2="484.25" y2="126.20" stroke="#444" stroke-width="0.6" />
<line x1="485.72" y1="125.00" x2="485.72" y2="126.20" stroke="#444" stroke-width="0.6" />
<line x1="486.98" y1="125.00" x2="486.98" y2="126.20" stroke="#444" stroke-width="0.6" />
<line x1="488.10" y1="125.00" x2="488.10" y2="126.20" stroke="#444" stroke-width="0.6" />
<line x1="495.39" y1="125.00" x2="495.39" y2="126.20" stroke="#444" stroke-width="0.6" />
<line x1="499.07" y1="125.00" x2="499.07" y2="126.20" stroke="#444" stroke-width="0.6" />
<line x1="501.68" y1="125.00" x2="501.68" y2="126.20" stroke="#444" stroke-width="0.6" />
<line x1="503.71" y1="125.00" x2="503.71" y2="126.20" stroke="#444" stroke-width="0.6" />
<line x1="505.36" y1="125.00" x2="505.36" y2="126.20" stroke="#444" stroke-width="0.6" />
<line x1="506.76" y1="125.00" x2="506.76" y2="126.20" stroke="#444" stroke-width="0.6" />
<line x1="507.97" y1="125.00" x2="507.97" y2="126.20" stroke="#444" stroke-width="0.6" />
<line x1="509.04" y1="125.00" x2="509.04" y2="126.20" stroke="#444" stroke-width="0.6" />
<line x1="430.60" y1="125.00" x2="430.60" y2="126.20" stroke="#444" stroke-width="0.6" />
<line x1="434.34" y1="125.00" x2="434.34" y2="126.20" stroke="#444" stroke-width="0.6" />
<line x1="438.08" y1="125.00" x2="438.08" y2="126.20" stroke="#444" stroke-width="0.6" />
<line x1="441.82" y1="125.00" x2="441.82" y2="126.20" stroke="#444" stroke-width="0.6" />
<line x1="445.56" y1="125.00" x2="445.56" y2="126.20" stroke="#444" stroke-width="0.6" />
<line x1="449.29" y1="125.00" x2="449.29" y2="126.20" stroke="#444" stroke-width="0.6" />
<line x1="453.03" y1="125.00" x2="453.03" y2="126.20" stroke="#444" stroke-width="0.6" />
<line x1="456.77" y1="125.00" x2="456.77" y2="126.20" stroke="#444" stroke-width="0.6" />
<line x1="460.51" y1="125.00" x2="460.51" y2="126.20" stroke="#444" stroke-width="0.6" />
<line x1="464.25" y1="125.00" x2="464.25" y2="126.20" stroke="#444" stroke-width="0.6" />
<rect x="435.9" y="125.0" width="4" height="1.9" fill="#111"/>
<text x="439.8" y="134.2" font-size="4.5" text-anchor="middle" fill="#444" style="stroke:none">0</text>
<text x="469.2" y="134.2" font-size="4.5" text-anchor="middle" fill="#444" style="stroke:none">10<tspan dy="-1.6" font-size="3.2">3</tspan></text>
<text x="491.1" y="134.2" font-size="4.5" text-anchor="middle" fill="#444" style="stroke:none">10<tspan dy="-1.6" font-size="3.2">4</tspan></text>
<text x="512.0" y="134.2" font-size="4.5" text-anchor="middle" fill="#444" style="stroke:none">10<tspan dy="-1.6" font-size="3.2">5</tspan></text>
<path d="M449.2 87.5h1.5v1.5h-1.5zM450.1 88.7h1.5v1.5h-1.5zM445.2 90.7h1.5v1.5h-1.5zM443.4 92.8h1.5v1.5h-1.5zM444.6 93.2h1.5v1.5h-1.5zM448.9 92.3h1.5v1.5h-1.5zM450.4 92.3h1.5v1.5h-1.5zM445.2 95.5h1.5v1.5h-1.5zM447.9 98.5h1.5v1.5h-1.5zM443.4 99.2h1.5v1.5h-1.5zM444.6 99.5h1.5v1.5h-1.5zM444.2 101.8h1.5v1.5h-1.5zM442.8 103.8h1.5v1.5h-1.5zM445.1 103.8h1.5v1.5h-1.5zM445.8 105.5h1.5v1.5h-1.5zM456.6 103.8h1.5v1.5h-1.5zM444.4 108.3h1.5v1.5h-1.5zM447.6 108.0h1.5v1.5h-1.5zM441.8 113.0h1.5v1.5h-1.5zM444.2 93.8h1.5v1.5h-1.5z" fill="#0000ff"/>
<rect x="469.00" y="83.10" width="34.40" height="37.50" stroke="#6c6c6c" stroke-width="1.05" fill="none"/>
<text transform="translate(407.00,95.00) rotate(-90)" font-size="10.2" text-anchor="middle" fill="#000" color="#000">SSC-A</text>
<text x="429.00" y="143.40" font-size="10.9" text-anchor="start" font-weight="normal" fill="#000" color="#000" >HA probe</text>
<text x="515.00" y="47.25" font-size="9.6" text-anchor="end" font-weight="normal" fill="#000" color="#000" >0.0%</text>
<line x1="76.00" y1="47.00" x2="128.00" y2="47.00" stroke="#000" stroke-width="1.85" />
<path d="M126.2,43.6 L134.0,47.0 L126.2,50.5 Z" fill="#000"/>
<line x1="343.60" y1="47.20" x2="393.50" y2="47.20" stroke="#000" stroke-width="1.85" />
<path d="M392,43.8 L399.6,47.2 L392,50.7 Z" fill="#000"/>
<text x="66.80" y="172.50" font-size="9.7" fill="#000" color="#000"><tspan y="172.50">B</tspan><tspan font-size="6.60" y="173.90">GC</tspan><tspan y="172.50"> </tspan><tspan y="172.50">Frequency</tspan></text>
<line x1="54.00" y1="315.70" x2="54.00" y2="190.80" stroke="#2c2c2c" stroke-width="1.25" />
<line x1="47.20" y1="315.10" x2="54.00" y2="315.10" stroke="#2c2c2c" stroke-width="1.25" />
<text x="38.80" y="319.85" font-size="10.7" text-anchor="middle" font-weight="normal" fill="#1a1a1a" color="#1a1a1a" >0</text>
<line x1="47.20" y1="284.05" x2="54.00" y2="284.05" stroke="#2c2c2c" stroke-width="1.25" />
<text x="38.80" y="288.80" font-size="10.7" text-anchor="middle" font-weight="normal" fill="#1a1a1a" color="#1a1a1a" >20</text>
<line x1="47.20" y1="253.00" x2="54.00" y2="253.00" stroke="#2c2c2c" stroke-width="1.25" />
<text x="38.80" y="257.75" font-size="10.7" text-anchor="middle" font-weight="normal" fill="#1a1a1a" color="#1a1a1a" >40</text>
<line x1="47.20" y1="221.95" x2="54.00" y2="221.95" stroke="#2c2c2c" stroke-width="1.25" />
<text x="38.80" y="226.70" font-size="10.7" text-anchor="middle" font-weight="normal" fill="#1a1a1a" color="#1a1a1a" >60</text>
<line x1="47.20" y1="190.90" x2="54.00" y2="190.90" stroke="#2c2c2c" stroke-width="1.25" />
<text x="38.80" y="195.65" font-size="10.7" text-anchor="middle" font-weight="normal" fill="#1a1a1a" color="#1a1a1a" >80</text>
<line x1="47.20" y1="315.10" x2="136.70" y2="315.10" stroke="#2c2c2c" stroke-width="1.25" />
<line x1="95.20" y1="244.00" x2="95.20" y2="291.10" stroke="#222" stroke-width="1.1" />
<line x1="92.40" y1="291.10" x2="100.20" y2="291.10" stroke="#222" stroke-width="1.1" />
<line x1="120.10" y1="286.00" x2="120.10" y2="305.00" stroke="#0a8e8e" stroke-width="1.0" />
<line x1="116.00" y1="286.00" x2="124.40" y2="286.00" stroke="#0a8e8e" stroke-width="1.0" />
<line x1="70.40" y1="300.00" x2="70.40" y2="312.00" stroke="#000" stroke-width="1.0" />
<circle cx="89.50" cy="222.50" r="2.55" fill="#990b4c"/>
<circle cx="93.20" cy="225.30" r="2.55" fill="#990b4c"/>
<circle cx="97.20" cy="225.00" r="2.55" fill="#990b4c"/>
<circle cx="93.20" cy="244.50" r="2.55" fill="#990b4c"/>
<circle cx="97.40" cy="246.10" r="2.55" fill="#990b4c"/>
<circle cx="95.20" cy="252.70" r="2.55" fill="#990b4c"/>
<circle cx="95.20" cy="260.60" r="2.55" fill="#990b4c"/>
<circle cx="89.50" cy="272.10" r="2.55" fill="#990b4c"/>
<circle cx="101.00" cy="275.00" r="2.55" fill="#990b4c"/>
<circle cx="97.90" cy="276.70" r="2.55" fill="#990b4c"/>
<circle cx="93.80" cy="277.90" r="2.55" fill="#990b4c"/>
<circle cx="89.80" cy="279.00" r="2.55" fill="#990b4c"/>
<circle cx="93.30" cy="289.40" r="2.55" fill="#990b4c"/>
<circle cx="89.50" cy="290.90" r="2.55" fill="#990b4c"/>
<circle cx="101.00" cy="291.40" r="2.55" fill="#990b4c"/>
<circle cx="89.50" cy="296.00" r="2.55" fill="#990b4c"/>
<circle cx="101.00" cy="299.00" r="2.55" fill="#990b4c"/>
<circle cx="97.30" cy="301.00" r="2.55" fill="#990b4c"/>
<circle cx="89.50" cy="302.10" r="2.55" fill="#990b4c"/>
<circle cx="120.10" cy="279.80" r="2.55" fill="#0a8e8e"/>
<circle cx="120.10" cy="287.70" r="2.55" fill="#0a8e8e"/>
<circle cx="120.10" cy="297.50" r="2.55" fill="#0a8e8e"/>
<circle cx="120.10" cy="304.80" r="2.55" fill="#0a8e8e"/>
<circle cx="114.60" cy="307.90" r="2.55" fill="#0a8e8e"/>
<circle cx="125.90" cy="306.10" r="2.55" fill="#0a8e8e"/>
<circle cx="67.50" cy="299.75" r="2.55" fill="#000"/>
<circle cx="73.25" cy="299.75" r="2.55" fill="#000"/>
<circle cx="70.00" cy="302.30" r="2.55" fill="#000"/>
<circle cx="64.50" cy="306.50" r="2.55" fill="#000"/>
<circle cx="76.25" cy="306.75" r="2.55" fill="#000"/>
<circle cx="68.50" cy="308.50" r="2.55" fill="#000"/>
<circle cx="72.50" cy="309.00" r="2.55" fill="#000"/>
<circle cx="64.50" cy="312.75" r="2.55" fill="#000"/>
<circle cx="76.25" cy="312.75" r="2.55" fill="#000"/>
<circle cx="70.50" cy="310.50" r="2.55" fill="#000"/>
<line x1="87.20" y1="277.10" x2="103.60" y2="277.10" stroke="#000" stroke-width="1.6" />
<line x1="112.00" y1="301.30" x2="128.40" y2="301.30" stroke="#000" stroke-width="1.6" />
<line x1="63.00" y1="310.00" x2="78.00" y2="310.00" stroke="#000" stroke-width="1.6" />
<line x1="88.40" y1="324.50" x2="130.00" y2="324.50" stroke="#000" stroke-width="1.5" />
<text x="68.40" y="335.50" font-size="9.7" text-anchor="middle" font-weight="normal" fill="#000" color="#000" >Non-</text>
<text x="68.90" y="346.30" font-size="9.7" text-anchor="middle" font-weight="normal" fill="#000" color="#000" >draining</text>
<text x="108.80" y="341.30" font-size="9.7" text-anchor="middle" font-weight="normal" fill="#000" color="#000" >Draining</text>
<text transform="translate(21.3,248.0) rotate(-90)" font-size="10.1" text-anchor="middle">% CD38<tspan font-size="4.9" dy="-2.0" fill="#555" style="stroke:none">lo</tspan><tspan dy="2.0">GL7</tspan><tspan font-size="5.5" dy="-3.6">+</tspan></text>
<text x="254.30" y="172.10" font-size="9.7" fill="#000" color="#000"><tspan y="172.10">HA</tspan><tspan font-size="5.82" y="169.10">+</tspan><tspan y="172.10"> B</tspan><tspan font-size="6.60" y="173.50">GC</tspan><tspan y="172.10"> </tspan><tspan y="172.10">Frequency</tspan></text>
<line x1="252.10" y1="315.60" x2="252.10" y2="191.20" stroke="#2c2c2c" stroke-width="1.25" />
<line x1="245.30" y1="315.00" x2="252.10" y2="315.00" stroke="#2c2c2c" stroke-width="1.25" />
<text x="235.70" y="319.75" font-size="10.7" text-anchor="middle" font-weight="normal" fill="#1a1a1a" color="#1a1a1a" >0</text>
<line x1="245.30" y1="284.10" x2="252.10" y2="284.10" stroke="#2c2c2c" stroke-width="1.25" />
<text x="235.70" y="288.85" font-size="10.7" text-anchor="middle" font-weight="normal" fill="#1a1a1a" color="#1a1a1a" >10</text>
<line x1="245.30" y1="253.20" x2="252.10" y2="253.20" stroke="#2c2c2c" stroke-width="1.25" />
<text x="235.70" y="257.95" font-size="10.7" text-anchor="middle" font-weight="normal" fill="#1a1a1a" color="#1a1a1a" >20</text>
<line x1="245.30" y1="222.30" x2="252.10" y2="222.30" stroke="#2c2c2c" stroke-width="1.25" />
<text x="235.70" y="227.05" font-size="10.7" text-anchor="middle" font-weight="normal" fill="#1a1a1a" color="#1a1a1a" >30</text>
<line x1="245.30" y1="191.40" x2="252.10" y2="191.40" stroke="#2c2c2c" stroke-width="1.25" />
<text x="235.70" y="196.15" font-size="10.7" text-anchor="middle" font-weight="normal" fill="#1a1a1a" color="#1a1a1a" >40</text>
<line x1="245.40" y1="315.00" x2="335.00" y2="315.00" stroke="#2c2c2c" stroke-width="1.25" />
<line x1="293.30" y1="272.00" x2="293.30" y2="304.00" stroke="#222" stroke-width="1.1" />
<line x1="288.00" y1="304.00" x2="299.00" y2="304.00" stroke="#222" stroke-width="1.1" />
<line x1="318.50" y1="296.00" x2="318.50" y2="312.00" stroke="#0a8e8e" stroke-width="1.0" />
<line x1="314.10" y1="296.00" x2="322.80" y2="296.00" stroke="#0a8e8e" stroke-width="1.0" />
<circle cx="293.30" cy="201.30" r="2.55" fill="#990b4c"/>
<circle cx="293.30" cy="209.00" r="2.55" fill="#990b4c"/>
<circle cx="293.30" cy="230.90" r="2.55" fill="#990b4c"/>
<circle cx="293.30" cy="264.40" r="2.55" fill="#990b4c"/>
<circle cx="287.90" cy="271.70" r="2.55" fill="#990b4c"/>
<circle cx="291.30" cy="273.60" r="2.55" fill="#990b4c"/>
<circle cx="294.80" cy="273.10" r="2.55" fill="#990b4c"/>
<circle cx="299.40" cy="271.70" r="2.55" fill="#990b4c"/>
<circle cx="295.60" cy="278.80" r="2.55" fill="#990b4c"/>
<circle cx="291.30" cy="283.70" r="2.55" fill="#990b4c"/>
<circle cx="293.40" cy="292.00" r="2.55" fill="#990b4c"/>
<circle cx="287.70" cy="298.60" r="2.55" fill="#990b4c"/>
<circle cx="299.30" cy="297.70" r="2.55" fill="#990b4c"/>
<circle cx="295.00" cy="300.70" r="2.55" fill="#990b4c"/>
<circle cx="288.20" cy="304.10" r="2.55" fill="#990b4c"/>
<circle cx="291.50" cy="307.50" r="2.55" fill="#990b4c"/>
<circle cx="296.20" cy="306.80" r="2.55" fill="#990b4c"/>
<circle cx="290.90" cy="315.00" r="2.55" fill="#990b4c"/>
<circle cx="295.60" cy="315.00" r="2.55" fill="#990b4c"/>
<circle cx="318.20" cy="269.40" r="2.55" fill="#0a8e8e"/>
<circle cx="318.70" cy="304.10" r="2.55" fill="#0a8e8e"/>
<circle cx="316.40" cy="310.20" r="2.55" fill="#0a8e8e"/>
<circle cx="312.80" cy="314.90" r="2.55" fill="#0a8e8e"/>
<circle cx="320.10" cy="314.90" r="2.55" fill="#0a8e8e"/>
<circle cx="324.10" cy="313.10" r="2.55" fill="#0a8e8e"/>
<circle cx="263.50" cy="311.50" r="2.55" fill="#000"/>
<circle cx="266.00" cy="311.00" r="2.55" fill="#000"/>
<circle cx="269.50" cy="312.00" r="2.55" fill="#000"/>
<circle cx="273.00" cy="313.50" r="2.55" fill="#000"/>
<circle cx="275.00" cy="313.50" r="2.55" fill="#000"/>
<circle cx="262.50" cy="315.00" r="2.55" fill="#000"/>
<circle cx="265.50" cy="315.20" r="2.55" fill="#000"/>
<circle cx="268.50" cy="315.20" r="2.55" fill="#000"/>
<circle cx="271.50" cy="315.20" r="2.55" fill="#000"/>
<circle cx="274.50" cy="315.20" r="2.55" fill="#000"/>
<circle cx="266.50" cy="313.50" r="2.55" fill="#000"/>
<circle cx="270.00" cy="314.00" r="2.55" fill="#000"/>
<line x1="285.20" y1="283.70" x2="301.70" y2="283.70" stroke="#000" stroke-width="1.6" />
<line x1="310.10" y1="311.50" x2="326.50" y2="311.50" stroke="#000" stroke-width="1.6" />
<line x1="293.00" y1="325.50" x2="334.00" y2="325.50" stroke="#000" stroke-width="1.5" />
<text x="265.00" y="335.40" font-size="9.7" text-anchor="middle" font-weight="normal" fill="#000" color="#000" >Non-</text>
<text x="264.80" y="345.80" font-size="9.7" text-anchor="middle" font-weight="normal" fill="#000" color="#000" >draining</text>
<text x="313.40" y="341.90" font-size="9.7" text-anchor="middle" font-weight="normal" fill="#000" color="#000" >Draining</text>
<text transform="translate(219.2,247.2) rotate(-90)" font-size="11.2" text-anchor="middle">% HA probe<tspan font-size="6" dy="-4">+</tspan><tspan dy="4"> (of B</tspan><tspan font-size="7.4" dy="1.6">GC</tspan><tspan dy="-1.6">)</tspan></text>
<text x="402.20" y="196.70" font-size="9.75" text-anchor="start" font-weight="normal" fill="#000" color="#000" >Non-draining</text>
<text x="402.40" y="207.50" font-size="9.75" text-anchor="start" font-weight="normal" fill="#9a1753" color="#9a1753" >Draining with ink</text>
<text x="402.40" y="219.60" font-size="9.75" text-anchor="start" font-weight="normal" fill="#109596" color="#109596" >Draining without ink</text>
<text x="88.50" y="381.20" font-size="9.9" text-anchor="start" font-weight="normal" fill="#000" color="#000" >HA IgG Titre</text>
<line x1="77.90" y1="513.00" x2="77.90" y2="401.20" stroke="#222" stroke-width="1.45" />
<line x1="72.80" y1="401.35" x2="77.90" y2="401.35" stroke="#222" stroke-width="1.3" />
<text x="71.50" y="405.05" font-size="10.2" text-anchor="end" font-weight="normal" fill="#111" color="#111" >100000</text>
<line x1="72.80" y1="438.50" x2="77.90" y2="438.50" stroke="#222" stroke-width="1.3" />
<text x="71.50" y="442.20" font-size="10.2" text-anchor="end" font-weight="normal" fill="#111" color="#111" >10000</text>
<line x1="72.80" y1="475.65" x2="77.90" y2="475.65" stroke="#222" stroke-width="1.3" />
<text x="71.50" y="479.35" font-size="10.2" text-anchor="end" font-weight="normal" fill="#111" color="#111" >1000</text>
<line x1="72.80" y1="512.80" x2="77.90" y2="512.80" stroke="#222" stroke-width="1.3" />
<text x="71.50" y="516.50" font-size="10.2" text-anchor="end" font-weight="normal" fill="#111" color="#111" >100</text>
<line x1="77.00" y1="513.20" x2="153.00" y2="513.20" stroke="#222" stroke-width="1.3" />
<line x1="79.20" y1="510.50" x2="79.20" y2="513.00" stroke="#3a3a3a" stroke-width="0.75" />
<line x1="81.20" y1="510.50" x2="81.20" y2="513.00" stroke="#3a3a3a" stroke-width="0.75" />
<line x1="83.20" y1="510.50" x2="83.20" y2="513.00" stroke="#3a3a3a" stroke-width="0.75" />
<line x1="85.20" y1="510.50" x2="85.20" y2="513.00" stroke="#3a3a3a" stroke-width="0.75" />
<line x1="87.20" y1="510.50" x2="87.20" y2="513.00" stroke="#3a3a3a" stroke-width="0.75" />
<line x1="89.20" y1="510.50" x2="89.20" y2="513.00" stroke="#3a3a3a" stroke-width="0.75" />
<line x1="91.20" y1="510.50" x2="91.20" y2="513.00" stroke="#3a3a3a" stroke-width="0.75" />
<line x1="93.20" y1="510.50" x2="93.20" y2="513.00" stroke="#3a3a3a" stroke-width="0.75" />
<line x1="95.20" y1="510.50" x2="95.20" y2="513.00" stroke="#3a3a3a" stroke-width="0.75" />
<line x1="97.20" y1="510.50" x2="97.20" y2="513.00" stroke="#3a3a3a" stroke-width="0.75" />
<line x1="99.20" y1="510.50" x2="99.20" y2="513.00" stroke="#3a3a3a" stroke-width="0.75" />
<line x1="101.20" y1="510.50" x2="101.20" y2="513.00" stroke="#3a3a3a" stroke-width="0.75" />
<line x1="103.20" y1="510.50" x2="103.20" y2="513.00" stroke="#3a3a3a" stroke-width="0.75" />
<line x1="105.20" y1="510.50" x2="105.20" y2="513.00" stroke="#3a3a3a" stroke-width="0.75" />
<line x1="107.20" y1="510.50" x2="107.20" y2="513.00" stroke="#3a3a3a" stroke-width="0.75" />
<line x1="109.20" y1="510.50" x2="109.20" y2="513.00" stroke="#3a3a3a" stroke-width="0.75" />
<line x1="111.20" y1="510.50" x2="111.20" y2="513.00" stroke="#3a3a3a" stroke-width="0.75" />
<line x1="113.20" y1="510.50" x2="113.20" y2="513.00" stroke="#3a3a3a" stroke-width="0.75" />
<line x1="115.20" y1="510.50" x2="115.20" y2="513.00" stroke="#3a3a3a" stroke-width="0.75" />
<line x1="117.20" y1="510.50" x2="117.20" y2="513.00" stroke="#3a3a3a" stroke-width="0.75" />
<line x1="119.20" y1="510.50" x2="119.20" y2="513.00" stroke="#3a3a3a" stroke-width="0.75" />
<line x1="121.20" y1="510.50" x2="121.20" y2="513.00" stroke="#3a3a3a" stroke-width="0.75" />
<line x1="123.20" y1="510.50" x2="123.20" y2="513.00" stroke="#3a3a3a" stroke-width="0.75" />
<line x1="125.20" y1="510.50" x2="125.20" y2="513.00" stroke="#3a3a3a" stroke-width="0.75" />
<line x1="127.20" y1="510.50" x2="127.20" y2="513.00" stroke="#3a3a3a" stroke-width="0.75" />
<line x1="129.20" y1="510.50" x2="129.20" y2="513.00" stroke="#3a3a3a" stroke-width="0.75" />
<line x1="131.20" y1="510.50" x2="131.20" y2="513.00" stroke="#3a3a3a" stroke-width="0.75" />
<line x1="133.20" y1="510.50" x2="133.20" y2="513.00" stroke="#3a3a3a" stroke-width="0.75" />
<line x1="135.20" y1="510.50" x2="135.20" y2="513.00" stroke="#3a3a3a" stroke-width="0.75" />
<line x1="137.20" y1="510.50" x2="137.20" y2="513.00" stroke="#3a3a3a" stroke-width="0.75" />
<line x1="139.20" y1="510.50" x2="139.20" y2="513.00" stroke="#3a3a3a" stroke-width="0.75" />
<line x1="141.20" y1="510.50" x2="141.20" y2="513.00" stroke="#3a3a3a" stroke-width="0.75" />
<line x1="143.20" y1="510.50" x2="143.20" y2="513.00" stroke="#3a3a3a" stroke-width="0.75" />
<line x1="145.20" y1="510.50" x2="145.20" y2="513.00" stroke="#3a3a3a" stroke-width="0.75" />
<line x1="147.20" y1="510.50" x2="147.20" y2="513.00" stroke="#3a3a3a" stroke-width="0.75" />
<line x1="149.20" y1="510.50" x2="149.20" y2="513.00" stroke="#3a3a3a" stroke-width="0.75" />
<line x1="151.20" y1="510.50" x2="151.20" y2="513.00" stroke="#3a3a3a" stroke-width="0.75" />
<line x1="99.10" y1="513.00" x2="99.10" y2="518.20" stroke="#222" stroke-width="1.3" />
<line x1="131.40" y1="513.00" x2="131.40" y2="518.20" stroke="#222" stroke-width="1.3" />
<text x="115.50" y="406.90" font-size="9.3" text-anchor="middle" font-weight="normal" fill="#222" color="#222" >n.s.</text>
<line x1="99.30" y1="429.20" x2="99.30" y2="462.30" stroke="#6e6e6e" stroke-width="1.0" />
<line x1="94.00" y1="429.20" x2="104.60" y2="429.20" stroke="#6e6e6e" stroke-width="1.0" />
<line x1="94.00" y1="462.30" x2="104.60" y2="462.30" stroke="#6e6e6e" stroke-width="1.0" />
<circle cx="99.30" cy="426.90" r="2.3" fill="#000"/>
<circle cx="99.30" cy="432.80" r="2.3" fill="#000"/>
<circle cx="94.70" cy="458.80" r="2.3" fill="#000"/>
<circle cx="103.90" cy="458.80" r="2.3" fill="#000"/>
<circle cx="99.30" cy="466.90" r="2.3" fill="#000"/>
<line x1="88.50" y1="458.50" x2="110.10" y2="458.50" stroke="#000" stroke-width="1.6" />
<line x1="131.60" y1="440.50" x2="131.60" y2="463.10" stroke="#6e6e6e" stroke-width="1.0" />
<line x1="126.30" y1="440.50" x2="136.90" y2="440.50" stroke="#6e6e6e" stroke-width="1.0" />
<line x1="126.30" y1="463.10" x2="136.90" y2="463.10" stroke="#6e6e6e" stroke-width="1.0" />
<circle cx="131.60" cy="434.60" r="2.3" fill="#000"/>
<circle cx="131.60" cy="450.50" r="2.3" fill="#000"/>
<circle cx="127.00" cy="460.00" r="2.3" fill="#000"/>
<circle cx="136.20" cy="460.00" r="2.3" fill="#000"/>
<circle cx="131.60" cy="467.70" r="2.3" fill="#000"/>
<line x1="120.80" y1="460.30" x2="142.40" y2="460.30" stroke="#000" stroke-width="1.6" />
<text transform="translate(21.40,453.00) rotate(-90)" font-size="9.95" text-anchor="middle" fill="#000" color="#000">Serum endpoint titre (1/X)</text>
<text x="65.80" y="532.30" font-size="9.6" text-anchor="start" font-weight="bold" fill="#000" color="#000" >Ink:</text>
<text x="99.30" y="532.30" font-size="9.6" text-anchor="middle" font-weight="bold" fill="#000" color="#000" >+</text>
<text x="129.00" y="532.30" font-size="9.6" text-anchor="middle" font-weight="bold" fill="#000" color="#000" >-</text>
<text x="236.90" y="380.90" font-size="9.7" fill="#000" color="#000"><tspan y="380.90">B</tspan><tspan font-size="6.60" y="382.30">GC</tspan><tspan y="380.90"> </tspan><tspan y="380.90">Frequency</tspan></text>
<line x1="229.80" y1="513.90" x2="229.80" y2="401.10" stroke="#222" stroke-width="1.3" />
<line x1="225.20" y1="513.90" x2="229.80" y2="513.90" stroke="#222" stroke-width="1.3" />
<text x="224.30" y="517.60" font-size="10.2" text-anchor="end" font-weight="normal" fill="#111" color="#111" >0</text>
<line x1="225.20" y1="476.30" x2="229.80" y2="476.30" stroke="#222" stroke-width="1.3" />
<text x="224.30" y="480.00" font-size="10.2" text-anchor="end" font-weight="normal" fill="#111" color="#111" >10</text>
<line x1="225.20" y1="438.70" x2="229.80" y2="438.70" stroke="#222" stroke-width="1.3" />
<text x="224.30" y="442.40" font-size="10.2" text-anchor="end" font-weight="normal" fill="#111" color="#111" >20</text>
<line x1="225.20" y1="401.10" x2="229.80" y2="401.10" stroke="#222" stroke-width="1.3" />
<text x="224.30" y="404.80" font-size="10.2" text-anchor="end" font-weight="normal" fill="#111" color="#111" >30</text>
<line x1="229.20" y1="513.90" x2="305.10" y2="513.90" stroke="#222" stroke-width="1.5" />
<line x1="251.30" y1="513.90" x2="251.30" y2="518.50" stroke="#222" stroke-width="1.3" />
<line x1="283.60" y1="513.90" x2="283.60" y2="518.50" stroke="#222" stroke-width="1.3" />
<text x="269.20" y="406.90" font-size="9.3" text-anchor="middle" font-weight="normal" fill="#222" color="#222" >n.s.</text>
<line x1="251.30" y1="431.10" x2="251.30" y2="471.20" stroke="#2a2a2a" stroke-width="1.0" />
<line x1="245.80" y1="431.10" x2="256.80" y2="431.10" stroke="#2a2a2a" stroke-width="1.0" />
<line x1="245.80" y1="471.20" x2="256.80" y2="471.20" stroke="#2a2a2a" stroke-width="1.0" />
<circle cx="251.50" cy="423.80" r="2.3" fill="#000"/>
<circle cx="246.90" cy="440.50" r="2.3" fill="#000"/>
<circle cx="255.70" cy="438.50" r="2.3" fill="#000"/>
<circle cx="251.30" cy="464.20" r="2.3" fill="#000"/>
<circle cx="251.30" cy="479.30" r="2.3" fill="#000"/>
<line x1="240.80" y1="440.20" x2="261.80" y2="440.20" stroke="#000" stroke-width="1.6" />
<line x1="283.60" y1="448.10" x2="283.60" y2="465.40" stroke="#2a2a2a" stroke-width="1.0" />
<line x1="278.15" y1="448.10" x2="289.05" y2="448.10" stroke="#2a2a2a" stroke-width="1.0" />
<line x1="278.15" y1="465.40" x2="289.05" y2="465.40" stroke="#2a2a2a" stroke-width="1.0" />
<circle cx="283.60" cy="441.20" r="2.3" fill="#000"/>
<circle cx="275.10" cy="455.70" r="2.3" fill="#000"/>
<circle cx="283.10" cy="457.30" r="2.3" fill="#000"/>
<circle cx="291.90" cy="457.30" r="2.3" fill="#000"/>
<circle cx="283.60" cy="473.50" r="2.3" fill="#000"/>
<line x1="273.20" y1="457.30" x2="294.00" y2="457.30" stroke="#000" stroke-width="1.6" />
<text transform="translate(201.2,453.3) rotate(-90)" font-size="9.7" text-anchor="middle">% CD38<tspan font-size="4.9" dy="-2.0" fill="#555" style="stroke:none">lo</tspan><tspan dy="2.0">GL7</tspan><tspan font-size="5.5" dy="-3.6">+</tspan></text>
<text x="218.00" y="532.40" font-size="9.6" text-anchor="start" font-weight="bold" fill="#000" color="#000" >Ink:</text>
<text x="251.30" y="532.40" font-size="9.6" text-anchor="middle" font-weight="bold" fill="#000" color="#000" >+</text>
<text x="280.60" y="532.40" font-size="9.6" text-anchor="middle" font-weight="bold" fill="#000" color="#000" >-</text>
<text x="380.40" y="381.30" font-size="9.7" fill="#000" color="#000"><tspan y="381.30">HA</tspan><tspan font-size="5.82" y="378.30">+</tspan><tspan y="381.30"> B</tspan><tspan font-size="6.60" y="382.70">GC</tspan><tspan y="381.30"> </tspan><tspan y="381.30">Frequency</tspan></text>
<line x1="382.60" y1="513.90" x2="382.60" y2="401.10" stroke="#222" stroke-width="1.3" />
<line x1="378.20" y1="513.90" x2="382.60" y2="513.90" stroke="#222" stroke-width="1.3" />
<text x="376.60" y="517.60" font-size="10.2" text-anchor="end" font-weight="normal" fill="#111" color="#111" >0</text>
<line x1="378.20" y1="485.70" x2="382.60" y2="485.70" stroke="#222" stroke-width="1.3" />
<text x="376.60" y="489.40" font-size="10.2" text-anchor="end" font-weight="normal" fill="#111" color="#111" >5</text>
<line x1="378.20" y1="457.50" x2="382.60" y2="457.50" stroke="#222" stroke-width="1.3" />
<text x="376.60" y="461.20" font-size="10.2" text-anchor="end" font-weight="normal" fill="#111" color="#111" >10</text>
<line x1="378.20" y1="429.30" x2="382.60" y2="429.30" stroke="#222" stroke-width="1.3" />
<text x="376.60" y="433.00" font-size="10.2" text-anchor="end" font-weight="normal" fill="#111" color="#111" >15</text>
<line x1="378.20" y1="401.10" x2="382.60" y2="401.10" stroke="#222" stroke-width="1.3" />
<text x="376.60" y="404.80" font-size="10.2" text-anchor="end" font-weight="normal" fill="#111" color="#111" >20</text>
<line x1="382.00" y1="513.90" x2="457.50" y2="513.90" stroke="#222" stroke-width="1.5" />
<line x1="403.40" y1="513.90" x2="403.40" y2="518.50" stroke="#222" stroke-width="1.3" />
<line x1="435.70" y1="513.90" x2="435.70" y2="518.50" stroke="#222" stroke-width="1.3" />
<text x="423.40" y="406.90" font-size="9.3" text-anchor="middle" font-weight="normal" fill="#222" color="#222" >n.s.</text>
<line x1="403.60" y1="448.10" x2="403.60" y2="505.40" stroke="#808080" stroke-width="1.0" />
<line x1="398.15" y1="448.10" x2="409.05" y2="448.10" stroke="#808080" stroke-width="1.0" />
<line x1="398.15" y1="505.40" x2="409.05" y2="505.40" stroke="#808080" stroke-width="1.0" />
<circle cx="404.20" cy="432.00" r="2.3" fill="#000"/>
<circle cx="399.30" cy="466.10" r="2.3" fill="#000"/>
<circle cx="408.50" cy="463.80" r="2.3" fill="#000"/>
<circle cx="403.40" cy="499.60" r="2.3" fill="#000"/>
<circle cx="403.40" cy="512.10" r="2.3" fill="#000"/>
<line x1="393.20" y1="466.10" x2="414.00" y2="466.10" stroke="#000" stroke-width="1.6" />
<line x1="436.00" y1="485.50" x2="436.00" y2="511.40" stroke="#808080" stroke-width="1.0" />
<line x1="430.45" y1="485.50" x2="441.55" y2="485.50" stroke="#808080" stroke-width="1.0" />
<line x1="430.45" y1="511.40" x2="441.55" y2="511.40" stroke="#808080" stroke-width="1.0" />
<circle cx="436.20" cy="464.20" r="2.3" fill="#000"/>
<circle cx="427.70" cy="506.30" r="2.3" fill="#000"/>
<circle cx="427.70" cy="513.90" r="2.3" fill="#000"/>
<circle cx="436.20" cy="508.80" r="2.3" fill="#000"/>
<circle cx="445.00" cy="509.30" r="2.3" fill="#000"/>
<line x1="424.25" y1="509.30" x2="447.75" y2="509.30" stroke="#000" stroke-width="1.6" />
<text transform="translate(354.2,454.5) rotate(-90)" font-size="9.9" text-anchor="middle">% HA probe<tspan font-size="5.5" dy="-3.6">+</tspan><tspan dy="3.6"> (of B</tspan><tspan font-size="6.6" dy="1.5">GC</tspan><tspan dy="-1.5">)</tspan></text>
<text x="369.20" y="531.90" font-size="9.6" text-anchor="start" font-weight="bold" fill="#000" color="#000" >Ink:</text>
<text x="403.40" y="531.90" font-size="9.6" text-anchor="middle" font-weight="bold" fill="#000" color="#000" >+</text>
<text x="432.90" y="532.20" font-size="9.6" text-anchor="middle" font-weight="bold" fill="#000" color="#000" >-</text>
<line x1="55.00" y1="572.52" x2="55.00" y2="686.60" stroke="#4a4a4a" stroke-width="1.1" />
<line x1="48.90" y1="680.60" x2="55.00" y2="680.60" stroke="#4a4a4a" stroke-width="1.1" />
<text x="36.40" y="682.80" font-size="9.9" text-anchor="middle" font-weight="normal" fill="#111" color="#111" >0</text>
<line x1="48.90" y1="653.58" x2="55.00" y2="653.58" stroke="#4a4a4a" stroke-width="1.1" />
<text x="36.40" y="655.78" font-size="9.9" text-anchor="middle" font-weight="normal" fill="#111" color="#111" >20</text>
<line x1="48.90" y1="626.56" x2="55.00" y2="626.56" stroke="#4a4a4a" stroke-width="1.1" />
<text x="36.40" y="628.76" font-size="9.9" text-anchor="middle" font-weight="normal" fill="#111" color="#111" >40</text>
<line x1="48.90" y1="599.54" x2="55.00" y2="599.54" stroke="#4a4a4a" stroke-width="1.1" />
<text x="36.40" y="601.74" font-size="9.9" text-anchor="middle" font-weight="normal" fill="#111" color="#111" >60</text>
<line x1="48.90" y1="572.52" x2="55.00" y2="572.52" stroke="#4a4a4a" stroke-width="1.1" />
<text x="36.40" y="574.72" font-size="9.9" text-anchor="middle" font-weight="normal" fill="#111" color="#111" >80</text>
<line x1="48.90" y1="680.60" x2="217.70" y2="680.60" stroke="#4a4a4a" stroke-width="1.1" />
<line x1="55.00" y1="680.60" x2="55.00" y2="686.20" stroke="#4a4a4a" stroke-width="1.1" />
<text x="57.30" y="703.50" font-size="9.9" text-anchor="middle" font-weight="normal" fill="#111" color="#111" >0</text>
<line x1="95.80" y1="680.60" x2="95.80" y2="686.20" stroke="#4a4a4a" stroke-width="1.1" />
<text x="93.40" y="703.50" font-size="9.9" text-anchor="middle" font-weight="normal" fill="#111" color="#111" >50</text>
<line x1="136.50" y1="680.60" x2="136.50" y2="686.20" stroke="#4a4a4a" stroke-width="1.1" />
<text x="133.50" y="703.50" font-size="9.9" text-anchor="middle" font-weight="normal" fill="#111" color="#111" >100</text>
<line x1="177.00" y1="680.60" x2="177.00" y2="686.20" stroke="#4a4a4a" stroke-width="1.1" />
<text x="173.10" y="703.50" font-size="9.9" text-anchor="middle" font-weight="normal" fill="#111" color="#111" >150</text>
<line x1="217.70" y1="680.60" x2="217.70" y2="686.20" stroke="#4a4a4a" stroke-width="1.1" />
<text x="215.70" y="703.50" font-size="9.9" text-anchor="middle" font-weight="normal" fill="#111" color="#111" >200</text>
<circle cx="81.00" cy="643.60" r="2.25" fill="#000"/>
<circle cx="86.50" cy="648.80" r="2.25" fill="#000"/>
<circle cx="79.60" cy="663.90" r="2.25" fill="#000"/>
<circle cx="85.10" cy="669.00" r="2.25" fill="#000"/>
<circle cx="92.30" cy="669.70" r="2.25" fill="#000"/>
<circle cx="99.00" cy="666.90" r="2.25" fill="#000"/>
<circle cx="102.00" cy="660.00" r="2.25" fill="#000"/>
<circle cx="105.00" cy="659.70" r="2.25" fill="#000"/>
<circle cx="90.60" cy="633.30" r="2.25" fill="#000"/>
<circle cx="100.40" cy="626.30" r="2.25" fill="#000"/>
<circle cx="84.20" cy="620.60" r="2.25" fill="#000"/>
<circle cx="96.30" cy="619.40" r="2.25" fill="#000"/>
<circle cx="82.50" cy="600.10" r="2.25" fill="#000"/>
<circle cx="83.60" cy="602.70" r="2.25" fill="#000"/>
<circle cx="138.00" cy="602.30" r="2.25" fill="#000"/>
<circle cx="136.90" cy="648.80" r="2.25" fill="#000"/>
<circle cx="132.00" cy="658.00" r="2.25" fill="#000"/>
<circle cx="154.20" cy="647.20" r="2.25" fill="#000"/>
<circle cx="153.10" cy="650.00" r="2.25" fill="#000"/>
<circle cx="162.80" cy="645.70" r="2.25" fill="#000"/>
<circle cx="165.40" cy="656.90" r="2.25" fill="#000"/>
<circle cx="151.50" cy="665.70" r="2.25" fill="#000"/>
<circle cx="154.60" cy="667.70" r="2.25" fill="#000"/>
<circle cx="139.20" cy="673.40" r="2.25" fill="#000"/>
<circle cx="147.40" cy="676.90" r="2.25" fill="#000"/>
<circle cx="153.10" cy="677.20" r="2.25" fill="#000"/>
<circle cx="160.30" cy="671.80" r="2.25" fill="#000"/>
<circle cx="161.80" cy="673.80" r="2.25" fill="#000"/>
<circle cx="166.50" cy="668.20" r="2.25" fill="#000"/>
<circle cx="165.80" cy="672.30" r="2.25" fill="#000"/>
<circle cx="170.50" cy="674.30" r="2.25" fill="#000"/>
<circle cx="173.50" cy="674.30" r="2.25" fill="#000"/>
<circle cx="168.00" cy="678.90" r="2.25" fill="#000"/>
<circle cx="173.10" cy="678.90" r="2.25" fill="#000"/>
<text x="195.50" y="580.10" font-size="9.75" text-anchor="middle" font-weight="normal" fill="#111" color="#111" >r = -0.40</text>
<text x="195.40" y="590.80" font-size="9.75" text-anchor="middle" font-weight="normal" fill="#111" color="#111" >p=0.049</text>
<text x="129.30" y="723.50" font-size="9.75" text-anchor="middle" font-weight="bold" fill="#000" color="#000" >Median Grey Value</text>
<text transform="translate(21.2,627.2) rotate(-90)" font-size="10.1" text-anchor="middle">% CD38<tspan font-size="4.9" dy="-2.0" fill="#555" style="stroke:none">lo</tspan><tspan dy="2.0">GL7</tspan><tspan font-size="5.5" dy="-3.6">+</tspan></text>
<line x1="303.10" y1="572.48" x2="303.10" y2="686.60" stroke="#4a4a4a" stroke-width="1.1" />
<line x1="297.00" y1="680.60" x2="303.10" y2="680.60" stroke="#4a4a4a" stroke-width="1.1" />
<text x="286.40" y="682.80" font-size="9.9" text-anchor="middle" font-weight="normal" fill="#111" color="#111" >0</text>
<line x1="297.00" y1="653.57" x2="303.10" y2="653.57" stroke="#4a4a4a" stroke-width="1.1" />
<text x="286.40" y="655.77" font-size="9.9" text-anchor="middle" font-weight="normal" fill="#111" color="#111" >10</text>
<line x1="297.00" y1="626.54" x2="303.10" y2="626.54" stroke="#4a4a4a" stroke-width="1.1" />
<text x="286.40" y="628.74" font-size="9.9" text-anchor="middle" font-weight="normal" fill="#111" color="#111" >20</text>
<line x1="297.00" y1="599.51" x2="303.10" y2="599.51" stroke="#4a4a4a" stroke-width="1.1" />
<text x="286.40" y="601.71" font-size="9.9" text-anchor="middle" font-weight="normal" fill="#111" color="#111" >30</text>
<line x1="297.00" y1="572.48" x2="303.10" y2="572.48" stroke="#4a4a4a" stroke-width="1.1" />
<text x="286.40" y="574.68" font-size="9.9" text-anchor="middle" font-weight="normal" fill="#111" color="#111" >40</text>
<line x1="297.00" y1="680.60" x2="465.20" y2="680.60" stroke="#4a4a4a" stroke-width="1.1" />
<line x1="303.10" y1="680.60" x2="303.10" y2="686.20" stroke="#4a4a4a" stroke-width="1.1" />
<text x="304.20" y="703.50" font-size="9.9" text-anchor="middle" font-weight="normal" fill="#111" color="#111" >0</text>
<line x1="343.70" y1="680.60" x2="343.70" y2="686.20" stroke="#4a4a4a" stroke-width="1.1" />
<text x="340.50" y="703.50" font-size="9.9" text-anchor="middle" font-weight="normal" fill="#111" color="#111" >50</text>
<line x1="384.30" y1="680.60" x2="384.30" y2="686.20" stroke="#4a4a4a" stroke-width="1.1" />
<text x="380.40" y="703.50" font-size="9.9" text-anchor="middle" font-weight="normal" fill="#111" color="#111" >100</text>
<line x1="424.70" y1="680.60" x2="424.70" y2="686.20" stroke="#4a4a4a" stroke-width="1.1" />
<text x="420.30" y="703.50" font-size="9.9" text-anchor="middle" font-weight="normal" fill="#111" color="#111" >150</text>
<line x1="465.20" y1="680.60" x2="465.20" y2="686.20" stroke="#4a4a4a" stroke-width="1.1" />
<text x="462.40" y="703.50" font-size="9.9" text-anchor="middle" font-weight="normal" fill="#111" color="#111" >200</text>
<circle cx="329.00" cy="660.40" r="2.25" fill="#000"/>
<circle cx="331.30" cy="653.50" r="2.25" fill="#000"/>
<circle cx="334.70" cy="649.30" r="2.25" fill="#000"/>
<circle cx="333.10" cy="668.50" r="2.25" fill="#000"/>
<circle cx="338.90" cy="673.60" r="2.25" fill="#000"/>
<circle cx="340.50" cy="681.20" r="2.25" fill="#000"/>
<circle cx="344.70" cy="675.00" r="2.25" fill="#000"/>
<circle cx="349.70" cy="671.30" r="2.25" fill="#000"/>
<circle cx="347.00" cy="644.20" r="2.25" fill="#000"/>
<circle cx="348.60" cy="643.10" r="2.25" fill="#000"/>
<circle cx="352.70" cy="643.10" r="2.25" fill="#000"/>
<circle cx="327.20" cy="607.70" r="2.25" fill="#000"/>
<circle cx="330.30" cy="588.50" r="2.25" fill="#000"/>
<circle cx="332.00" cy="581.80" r="2.25" fill="#000"/>
<circle cx="379.90" cy="665.70" r="2.25" fill="#000"/>
<circle cx="384.50" cy="644.20" r="2.25" fill="#000"/>
<circle cx="385.70" cy="636.60" r="2.25" fill="#000"/>
<circle cx="387.30" cy="677.30" r="2.25" fill="#000"/>
<circle cx="395.00" cy="680.70" r="2.25" fill="#000"/>
<circle cx="399.60" cy="676.10" r="2.25" fill="#000"/>
<circle cx="401.20" cy="678.40" r="2.25" fill="#000"/>
<circle cx="401.60" cy="680.70" r="2.25" fill="#000"/>
<circle cx="401.90" cy="666.70" r="2.25" fill="#000"/>
<circle cx="413.40" cy="641.20" r="2.25" fill="#000"/>
<circle cx="413.90" cy="671.50" r="2.25" fill="#000"/>
<circle cx="413.90" cy="677.70" r="2.25" fill="#000"/>
<circle cx="407.60" cy="680.70" r="2.25" fill="#000"/>
<circle cx="411.00" cy="680.70" r="2.25" fill="#000"/>
<circle cx="414.50" cy="680.70" r="2.25" fill="#000"/>
<circle cx="418.00" cy="680.70" r="2.25" fill="#000"/>
<circle cx="422.00" cy="680.70" r="2.25" fill="#000"/>
<text x="464.50" y="580.10" font-size="9.75" text-anchor="middle" font-weight="normal" fill="#111" color="#111" >r = -0.45</text>
<text x="464.30" y="590.80" font-size="9.75" text-anchor="middle" font-weight="normal" fill="#111" color="#111" >p=0.023</text>
<text x="381.00" y="723.50" font-size="9.75" text-anchor="middle" font-weight="bold" fill="#000" color="#000" >Median Grey Value</text>
<text transform="translate(268.9,629.1) rotate(-90)" font-size="10.0" text-anchor="middle">% HA probe<tspan font-size="5.5" dy="-3.6">+</tspan><tspan dy="3.6"> (of B</tspan><tspan font-size="6.6" dy="1.5">GC</tspan><tspan dy="-1.5">)</tspan></text>
</svg>
</body></html>
